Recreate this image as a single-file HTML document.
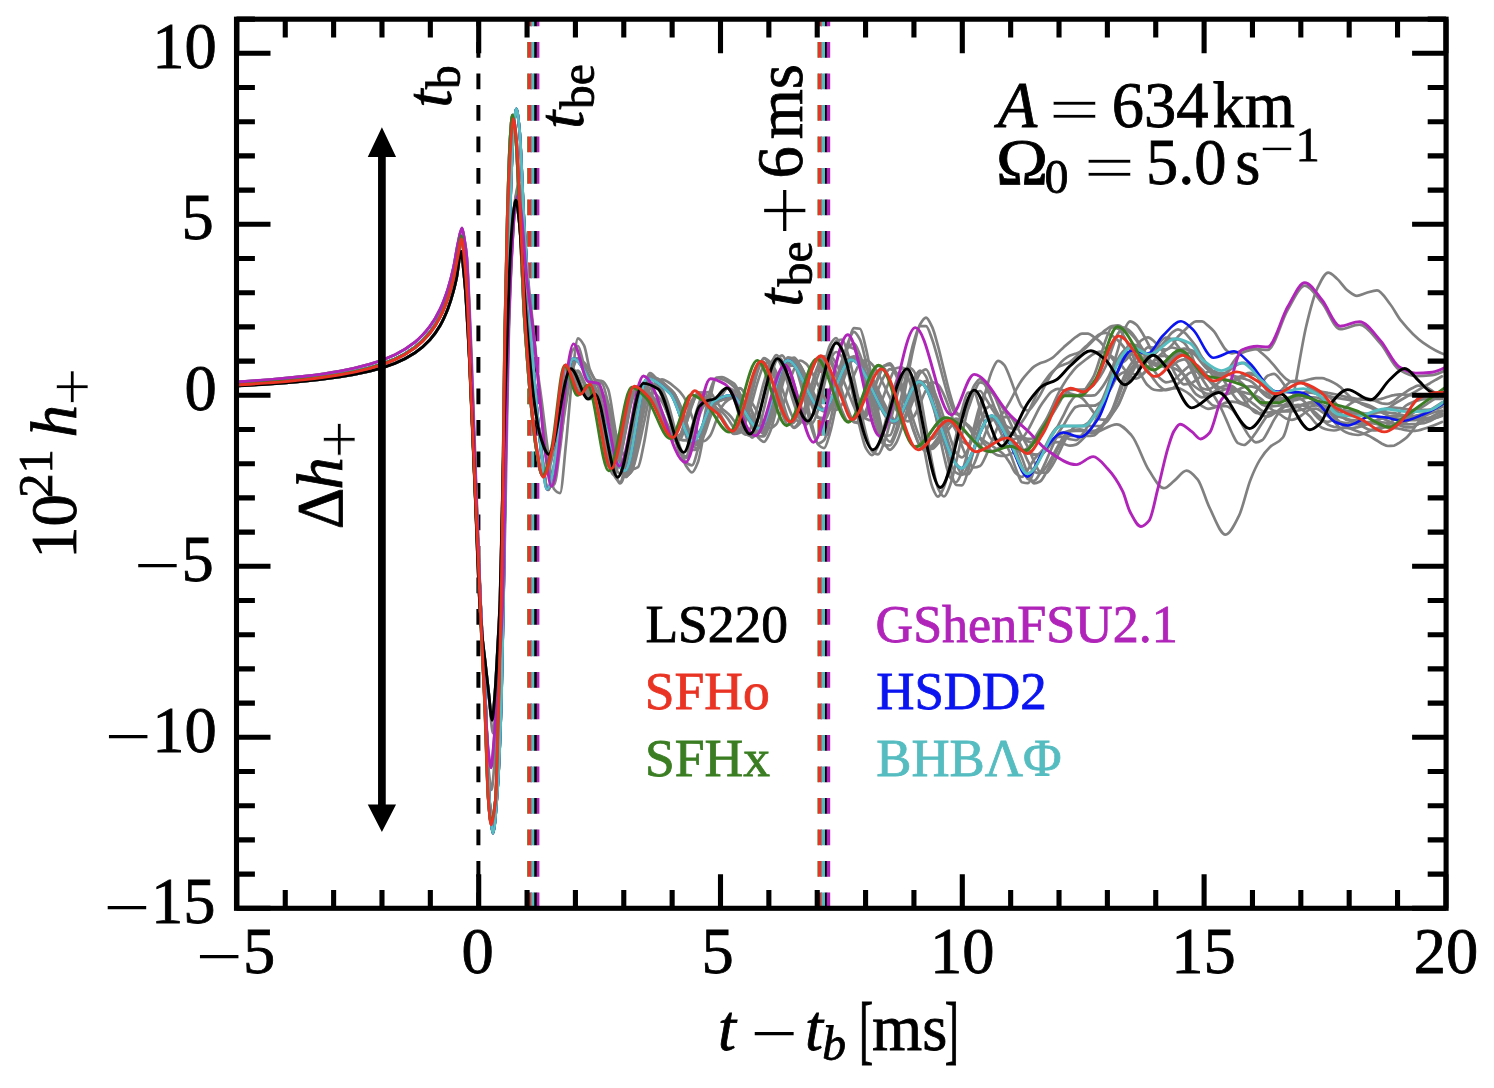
<!DOCTYPE html>
<html><head><meta charset="utf-8"><title>h+ waveforms</title>
<style>html,body{margin:0;padding:0;background:#fff;}svg{display:block;}</style>
</head><body>
<svg width="1494" height="1088" viewBox="0 0 1494 1088">
<rect width="1494" height="1088" fill="#fff"/>
<g><line x1="478.4" y1="908.3" x2="478.4" y2="19.2" stroke="#000" stroke-width="4.00" stroke-dasharray="15.75 15.75"/><line x1="527.8" y1="908.3" x2="527.8" y2="19.2" stroke="#3a7d22" stroke-width="1.20" stroke-dasharray="15.75 15.75"/><line x1="531.2" y1="908.3" x2="531.2" y2="19.2" stroke="#0a14f0" stroke-width="1.20" stroke-dasharray="15.75 15.75"/><line x1="535.5" y1="908.3" x2="535.5" y2="19.2" stroke="#000000" stroke-width="3.40" stroke-dasharray="15.75 15.75"/><line x1="538.1" y1="908.3" x2="538.1" y2="19.2" stroke="#b024b9" stroke-width="2.60" stroke-dasharray="15.75 15.75"/><line x1="532.7" y1="908.3" x2="532.7" y2="19.2" stroke="#55bcc0" stroke-width="3.10" stroke-dasharray="15.75 15.75"/><line x1="529.5" y1="908.3" x2="529.5" y2="19.2" stroke="#e93323" stroke-width="3.40" stroke-dasharray="15.75 15.75"/><line x1="818.0" y1="908.3" x2="818.0" y2="19.2" stroke="#3a7d22" stroke-width="1.10" stroke-dasharray="15.75 15.75"/><line x1="821.3" y1="908.3" x2="821.3" y2="19.2" stroke="#0a14f0" stroke-width="0.90" stroke-dasharray="15.75 15.75"/><line x1="826.0" y1="908.3" x2="826.0" y2="19.2" stroke="#000000" stroke-width="2.50" stroke-dasharray="15.75 15.75"/><line x1="828.5" y1="908.3" x2="828.5" y2="19.2" stroke="#b024b9" stroke-width="3.40" stroke-dasharray="15.75 15.75"/><line x1="823.1" y1="908.3" x2="823.1" y2="19.2" stroke="#55bcc0" stroke-width="3.80" stroke-dasharray="15.75 15.75"/><line x1="819.7" y1="908.3" x2="819.7" y2="19.2" stroke="#e93323" stroke-width="3.40" stroke-dasharray="15.75 15.75"/></g>
<g fill="none" stroke-linejoin="round" stroke-linecap="round"><path d="M236.5 384.5C247.7 383.9 258.8 383.1 270.0 382.3C281.7 381.4 293.3 380.3 305.0 379.0C316.7 377.8 328.3 376.2 340.0 374.2C350.0 372.5 360.0 370.4 370.0 367.7C378.3 365.5 386.7 362.6 395.0 358.9C401.7 355.9 408.3 352.0 415.0 347.0C420.0 343.2 425.0 338.3 430.0 332.1C433.3 327.9 436.7 322.7 440.0 316.2C442.7 311.0 445.3 304.6 448.0 296.7C449.8 291.4 451.7 284.8 453.5 277.0C455.0 270.8 456.4 261.9 457.9 254.7C459.2 248.3 460.5 236.0 461.8 236.0C462.8 236.0 463.8 251.2 464.8 262.0C465.8 272.5 466.7 285.9 467.7 303.8C468.6 319.8 469.4 349.1 470.3 370.0C472.1 412.6 473.8 450.0 475.6 490.0C477.4 530.0 479.1 573.0 480.9 610.0C482.4 642.1 484.0 666.2 485.5 700.0C486.8 729.4 488.2 781.8 489.5 800.0C490.7 815.9 491.8 833.2 493.0 833.2C494.5 833.2 496.0 810.5 497.5 790.0C498.8 772.2 500.1 741.9 501.4 700.0C502.1 677.5 502.8 638.5 503.5 600.0C504.2 563.3 504.8 519.9 505.5 470.0C506.0 432.6 506.5 368.8 507.0 340.0C508.2 272.8 509.3 234.2 510.5 200.0C511.5 170.7 512.5 141.1 513.5 130.0C514.5 119.3 515.4 108.8 516.4 108.8C517.4 108.8 518.5 119.8 519.5 130.0C521.0 144.8 522.5 192.9 524.0 220.0C526.5 264.6 528.9 305.1 531.4 340.0C532.9 361.7 534.5 381.7 536.0 398.7C538.0 420.9 540.0 442.9 542.0 457.0C544.0 471.0 546.0 489.9 548.0 489.9C550.0 489.9 552.0 479.5 554.0 471.0C556.0 462.6 558.0 445.9 560.0 432.5C562.0 419.1 564.0 401.9 566.0 390.5C568.0 379.1 570.0 363.5 572.0 361.6C574.0 359.7 576.0 358.4 578.0 358.4C580.0 358.4 582.0 363.1 584.0 366.2C586.0 369.2 588.0 373.8 590.0 377.8C592.0 381.7 594.0 385.2 596.0 389.9C598.0 394.6 600.0 400.6 602.0 406.8C604.0 413.0 606.0 420.6 608.0 427.6C610.0 434.5 612.0 442.1 614.0 448.5C616.0 454.8 618.0 461.6 620.0 465.9C622.0 470.1 624.0 475.9 626.0 475.9C628.0 475.9 630.0 473.6 632.0 470.5C634.0 467.4 636.0 450.6 638.0 439.1C640.0 427.6 642.0 410.5 644.0 400.9C646.0 391.3 648.0 377.8 650.0 377.8C652.0 377.8 654.0 377.9 656.0 378.2C658.0 378.5 660.0 380.3 662.0 381.8C664.0 383.2 666.0 385.2 668.0 387.1C670.0 389.0 672.0 390.5 674.0 393.3C676.0 396.1 678.0 400.8 680.0 405.7C682.0 410.7 684.0 418.5 686.0 424.3C688.0 430.0 690.0 437.8 692.0 440.4C694.0 443.1 696.0 445.6 698.0 445.6C700.0 445.6 702.0 439.7 704.0 435.4C706.0 431.1 708.0 423.2 710.0 417.9C712.0 412.7 714.0 406.0 716.0 403.7C718.0 401.4 720.0 400.3 722.0 399.2C724.0 398.1 726.0 397.1 728.0 396.6C730.0 396.1 732.0 395.4 734.0 395.4C736.0 395.4 738.0 397.1 740.0 398.7C742.0 400.3 744.0 404.6 746.0 408.0C748.0 411.5 750.0 416.0 752.0 419.4C754.0 422.8 756.0 427.1 758.0 428.6C760.0 430.1 762.0 431.6 764.0 431.6C766.0 431.6 768.0 425.7 770.0 421.0C772.0 416.3 774.0 407.2 776.0 399.9C778.0 392.5 780.0 383.2 782.0 376.8C784.0 370.4 786.0 361.7 788.0 360.2C790.0 358.7 792.0 357.6 794.0 357.6C796.0 357.6 798.0 361.8 800.0 364.8C802.0 367.8 804.0 372.7 806.0 377.0C808.0 381.3 810.0 386.6 812.0 390.9C814.0 395.3 816.0 400.1 818.0 403.2C820.0 406.3 822.0 410.6 824.0 410.6C826.0 410.6 828.0 410.1 830.0 409.3C832.0 408.5 834.0 402.0 836.0 397.3C838.0 392.6 840.0 385.8 842.0 380.3C844.0 374.9 846.0 368.2 848.0 364.6C850.0 361.0 852.0 356.3 854.0 356.3C856.0 356.3 858.0 357.4 860.0 358.7C862.0 359.9 864.0 363.8 866.0 367.1C868.0 370.4 870.0 375.0 872.0 379.4C874.0 383.7 876.0 388.7 878.0 393.3C880.0 397.9 882.0 402.8 884.0 406.7C886.0 410.7 888.0 415.0 890.0 417.5C892.0 420.0 894.0 423.4 896.0 423.4C898.0 423.4 900.0 422.4 902.0 421.2C904.0 419.9 906.0 413.5 908.0 408.9C910.0 404.4 912.0 397.8 914.0 393.5C916.0 389.1 918.0 382.5 920.0 382.2C922.0 382.0 924.0 381.8 926.0 381.8C928.0 381.8 930.0 387.5 932.0 391.5C934.0 395.6 936.0 401.9 938.0 407.8C940.0 413.8 942.0 420.9 944.0 427.5C946.0 434.0 948.0 441.2 950.0 447.2C952.0 453.2 954.0 459.5 956.0 463.7C958.0 467.9 960.0 473.6 962.0 473.8C964.0 474.1 966.0 474.2 968.0 474.2C970.0 474.2 972.0 468.2 974.0 464.0C976.0 459.9 978.0 453.5 980.0 448.1C982.0 442.7 984.0 436.2 986.0 431.7C988.0 427.2 990.0 421.1 992.0 420.2C994.0 419.3 996.0 418.7 998.0 418.7C1000.0 418.7 1002.0 423.6 1004.0 426.9C1006.0 430.2 1008.0 435.3 1010.0 439.4C1012.0 443.5 1014.0 446.9 1016.0 451.3C1018.0 455.8 1020.0 461.9 1022.0 466.5C1024.0 471.0 1026.0 478.0 1028.0 479.1C1030.0 480.1 1032.0 480.8 1034.0 480.8C1036.0 480.8 1038.0 476.5 1040.0 473.4C1042.0 470.4 1044.0 465.5 1046.0 461.1C1048.0 456.8 1050.0 451.6 1052.0 447.4C1054.0 443.1 1056.0 436.8 1058.0 435.6C1065.3 431.4 1072.7 429.4 1080.0 429.4C1083.9 429.4 1087.9 433.1 1091.8 433.1C1100.1 433.1 1108.5 424.3 1116.8 424.3C1121.7 424.3 1126.6 430.0 1131.5 435.3C1137.4 441.6 1143.2 461.9 1149.1 470.6C1154.0 477.9 1158.9 488.2 1163.8 488.2C1167.2 488.2 1170.7 483.5 1174.1 480.9C1178.3 477.7 1182.4 470.6 1186.6 470.6C1190.3 470.6 1193.9 475.0 1197.6 479.4C1201.5 484.1 1205.5 499.6 1209.4 507.4C1214.8 518.1 1220.2 534.6 1225.6 534.6C1230.0 534.6 1234.4 524.7 1238.8 516.2C1242.7 508.6 1246.7 489.2 1250.6 479.4C1253.7 471.6 1256.9 464.6 1260.0 459.6C1263.3 454.3 1266.7 450.1 1270.0 447.0C1274.3 443.0 1278.6 443.0 1282.9 437.5C1285.3 434.5 1287.6 424.7 1290.0 415.0C1292.1 406.6 1294.1 391.4 1296.2 380.0C1299.5 361.6 1302.9 340.2 1306.2 326.2C1309.9 310.8 1313.5 296.2 1317.2 288.7C1320.9 281.2 1324.5 272.7 1328.2 272.7C1331.1 272.7 1334.1 276.3 1337.0 278.7C1340.7 281.8 1344.4 288.2 1348.1 290.9C1351.0 293.0 1354.0 295.8 1356.9 295.8C1359.9 295.8 1363.0 293.8 1366.0 293.0C1369.7 292.0 1373.3 290.3 1377.0 290.3C1381.3 290.3 1385.7 298.6 1390.0 304.0C1393.7 308.6 1397.3 316.2 1401.0 320.7C1408.3 329.7 1415.7 337.6 1423.0 342.7C1430.7 348.1 1438.3 352.7 1446.0 355.0" stroke="#808080" stroke-width="2.7"/><path d="M236.5 382.0C247.7 381.3 258.8 380.5 270.0 379.6C281.7 378.7 293.3 377.6 305.0 376.2C316.7 374.8 328.3 373.2 340.0 371.1C350.0 369.3 360.0 367.0 370.0 364.1C378.3 361.7 386.7 358.7 395.0 354.7C401.7 351.5 408.3 347.4 415.0 342.1C420.0 338.1 425.0 332.8 430.0 326.2C433.3 321.8 436.7 316.2 440.0 309.3C442.7 303.8 445.3 297.0 448.0 288.6C449.8 282.9 451.7 275.9 453.5 267.6C455.0 260.7 456.6 249.3 458.1 242.6C459.4 236.8 460.7 228.0 462.0 228.0C462.8 228.0 463.7 235.1 464.5 240.0C465.2 244.4 466.0 248.7 466.7 256.9C467.5 265.4 468.2 286.3 469.0 303.8C469.8 322.0 470.6 344.9 471.4 366.0C472.9 406.4 474.5 450.2 476.0 490.0C477.6 531.5 479.2 573.1 480.8 610.0C482.2 642.3 483.6 674.9 485.0 700.0C486.1 719.1 487.1 740.5 488.2 750.0C489.1 758.3 490.1 767.7 491.0 767.7C492.0 767.7 493.0 751.3 494.0 740.0C495.3 724.9 496.7 700.6 498.0 680.0C499.5 657.4 500.9 645.5 502.4 610.0C503.4 585.0 504.5 518.2 505.5 470.0C506.4 428.0 507.3 369.1 508.2 340.0C509.5 299.0 510.7 272.1 512.0 250.0C513.0 232.6 514.0 214.5 515.0 208.0C516.0 201.2 517.1 194.8 518.1 194.8C519.2 194.8 520.4 206.1 521.5 215.0C523.0 226.8 524.5 254.7 526.0 270.0C528.7 298.0 531.5 314.5 534.2 340.0C534.8 345.6 535.4 352.6 536.0 357.9C538.0 375.5 540.0 387.7 542.0 403.3C544.0 418.8 546.0 437.2 548.0 451.3C550.0 465.4 552.0 486.5 554.0 489.0C556.0 491.5 558.0 493.1 560.0 493.1C562.0 493.1 564.0 462.4 566.0 443.8C568.0 425.2 570.0 396.1 572.0 379.3C574.0 362.6 576.0 338.3 578.0 338.3C580.0 338.3 582.0 341.7 584.0 345.4C586.0 349.1 588.0 365.0 590.0 369.8C592.0 374.6 594.0 379.5 596.0 380.0C598.0 380.6 600.0 380.4 602.0 381.0C604.0 381.5 606.0 384.7 608.0 389.0C610.0 393.3 612.0 410.1 614.0 421.7C616.0 433.3 618.0 450.9 620.0 459.0C622.0 467.0 624.0 476.7 626.0 476.7C628.0 476.7 630.0 468.1 632.0 460.7C634.0 453.4 636.0 437.3 638.0 425.5C640.0 413.7 642.0 397.5 644.0 389.9C646.0 382.3 648.0 373.1 650.0 373.1C652.0 373.1 654.0 375.7 656.0 378.2C658.0 380.6 660.0 386.5 662.0 391.8C664.0 397.1 666.0 404.1 668.0 410.7C670.0 417.3 672.0 424.8 674.0 431.5C676.0 438.2 678.0 445.4 680.0 451.0C682.0 456.6 684.0 462.6 686.0 465.7C688.0 468.8 690.0 472.5 692.0 472.5C694.0 472.5 696.0 467.2 698.0 462.0C700.0 456.9 702.0 442.8 704.0 432.4C706.0 421.9 708.0 407.7 710.0 399.1C712.0 390.4 714.0 378.6 716.0 377.9C718.0 377.3 720.0 377.0 722.0 377.0C724.0 377.0 726.0 378.6 728.0 379.7C730.0 380.8 732.0 381.8 734.0 383.6C736.0 385.5 738.0 389.6 740.0 393.6C742.0 397.7 744.0 403.7 746.0 408.9C748.0 414.1 750.0 420.2 752.0 424.9C754.0 429.6 756.0 435.2 758.0 437.3C760.0 439.5 762.0 441.8 764.0 441.8C766.0 441.8 768.0 436.4 770.0 432.0C772.0 427.5 774.0 418.4 776.0 410.9C778.0 403.4 780.0 393.8 782.0 386.6C784.0 379.4 786.0 370.5 788.0 367.2C790.0 363.9 792.0 360.6 794.0 360.6C796.0 360.6 798.0 367.4 800.0 372.8C802.0 378.2 804.0 388.6 806.0 397.2C808.0 405.7 810.0 416.6 812.0 424.3C814.0 432.0 816.0 442.3 818.0 444.4C820.0 446.5 822.0 448.1 824.0 448.1C826.0 448.1 828.0 439.4 830.0 432.9C832.0 426.4 834.0 415.5 836.0 405.7C838.0 396.0 840.0 384.1 842.0 374.1C844.0 364.1 846.0 352.9 848.0 345.7C850.0 338.5 852.0 328.1 854.0 328.1C856.0 328.1 858.0 328.4 860.0 328.8C862.0 329.3 864.0 340.7 866.0 348.7C868.0 356.7 870.0 368.7 872.0 379.1C874.0 389.4 876.0 401.7 878.0 410.8C880.0 419.9 882.0 431.1 884.0 434.7C886.0 438.4 888.0 441.8 890.0 441.8C892.0 441.8 894.0 435.1 896.0 429.7C898.0 424.4 900.0 414.2 902.0 405.2C904.0 396.2 906.0 384.9 908.0 375.0C910.0 365.1 912.0 354.1 914.0 345.8C916.0 337.6 918.0 327.9 920.0 324.4C922.0 321.0 924.0 317.6 926.0 317.6C928.0 317.6 930.0 322.5 932.0 326.7C934.0 330.8 936.0 338.9 938.0 346.1C940.0 353.3 942.0 362.4 944.0 370.4C946.0 378.4 948.0 387.4 950.0 394.1C952.0 400.9 954.0 408.8 956.0 411.7C958.0 414.7 960.0 417.8 962.0 417.8C964.0 417.8 966.0 412.6 968.0 408.8C970.0 404.9 972.0 396.9 974.0 392.7C976.0 388.5 978.0 382.3 980.0 382.3C982.0 382.3 984.0 383.4 986.0 384.6C988.0 385.7 990.0 389.9 992.0 392.6C994.0 395.3 996.0 397.9 998.0 400.8C1000.0 403.7 1002.0 406.6 1004.0 410.1C1006.0 413.5 1008.0 417.8 1010.0 422.1C1012.0 426.3 1014.0 431.3 1016.0 435.5C1018.0 439.8 1020.0 443.4 1022.0 447.7C1024.0 452.0 1026.0 457.5 1028.0 461.4C1030.0 465.4 1032.0 471.0 1034.0 471.8C1036.0 472.7 1038.0 473.3 1040.0 473.3C1042.0 473.3 1044.0 469.8 1046.0 467.2C1048.0 464.7 1050.0 460.7 1052.0 457.2C1054.0 453.6 1056.0 449.3 1058.0 445.9C1060.0 442.4 1062.0 438.5 1064.0 436.3C1066.0 434.1 1068.0 431.3 1070.0 431.2C1072.0 431.0 1074.0 430.9 1076.0 430.9C1078.0 430.9 1080.0 430.9 1082.0 430.9C1084.0 430.9 1086.0 430.9 1088.0 430.9C1090.0 430.9 1092.0 430.9 1094.0 430.9C1096.0 430.9 1098.0 429.0 1100.0 427.4C1102.0 425.8 1104.0 422.6 1106.0 419.9C1108.0 417.2 1110.0 414.5 1112.0 411.0C1114.0 407.5 1116.0 402.9 1118.0 398.2C1120.0 393.5 1122.0 386.9 1124.0 382.3C1126.0 377.7 1128.0 373.1 1130.0 370.1C1132.0 367.1 1134.0 364.3 1136.0 362.9C1138.0 361.4 1140.0 359.9 1142.0 359.9C1144.0 359.9 1146.0 361.0 1148.0 361.8C1150.0 362.6 1152.0 364.2 1154.0 364.9C1156.0 365.6 1158.0 366.4 1160.0 366.4C1162.0 366.4 1164.0 365.2 1166.0 364.3C1168.0 363.3 1170.0 361.3 1172.0 359.8C1174.0 358.3 1176.0 356.3 1178.0 355.2C1180.0 354.0 1182.0 352.5 1184.0 352.5C1186.0 352.5 1188.0 352.7 1190.0 352.9C1192.0 353.1 1194.0 354.0 1196.0 354.8C1198.0 355.6 1200.0 356.4 1202.0 357.9C1204.0 359.4 1206.0 363.3 1208.0 365.7C1210.0 368.1 1212.0 370.6 1214.0 372.4C1216.0 374.1 1218.0 375.4 1220.0 376.7C1222.0 377.9 1224.0 379.4 1226.0 380.0C1228.0 380.5 1230.0 381.0 1232.0 381.0C1234.0 381.0 1236.0 380.0 1238.0 379.3C1240.0 378.6 1242.0 377.1 1244.0 376.3C1246.0 375.5 1248.0 374.3 1250.0 374.3C1252.0 374.3 1254.0 374.8 1256.0 375.4C1258.0 376.1 1260.0 378.5 1262.0 380.4C1264.0 382.2 1266.0 384.7 1268.0 386.6C1270.0 388.4 1272.0 389.9 1274.0 391.7C1276.0 393.4 1278.0 395.5 1280.0 397.0C1282.0 398.4 1284.0 400.5 1286.0 400.5C1288.0 400.5 1290.0 400.5 1292.0 400.5C1294.0 400.5 1296.0 399.9 1298.0 399.5C1300.0 399.2 1302.0 398.7 1304.0 398.3C1306.0 398.0 1308.0 397.4 1310.0 397.4C1312.0 397.4 1314.0 397.5 1316.0 397.5C1318.0 397.5 1320.0 398.8 1322.0 399.6C1324.0 400.5 1326.0 401.6 1328.0 402.9C1330.0 404.1 1332.0 405.5 1334.0 407.3C1336.0 409.1 1338.0 412.1 1340.0 414.1C1342.0 416.2 1344.0 418.9 1346.0 419.7C1348.0 420.4 1350.0 420.8 1352.0 421.1C1354.0 421.4 1356.0 421.6 1358.0 421.8C1360.0 422.0 1362.0 422.2 1364.0 422.2C1366.0 422.2 1368.0 422.1 1370.0 422.0C1372.0 421.8 1374.0 421.1 1376.0 420.5C1378.0 419.9 1380.0 419.1 1382.0 418.4C1384.0 417.8 1386.0 416.9 1388.0 416.5C1390.0 416.1 1392.0 415.6 1394.0 415.6C1396.0 415.6 1398.0 415.8 1400.0 416.0C1402.0 416.1 1404.0 416.5 1406.0 416.8C1408.0 417.1 1410.0 417.5 1412.0 417.6C1414.0 417.8 1416.0 418.1 1418.0 418.1C1420.0 418.1 1422.0 418.0 1424.0 418.0C1426.0 417.9 1428.0 417.8 1430.0 417.7C1432.0 417.6 1434.0 417.5 1436.0 417.3C1438.0 417.1 1440.0 416.6 1442.0 416.0" stroke="#808080" stroke-width="2.7"/><path d="M236.5 386.0C247.7 385.4 258.8 384.7 270.0 384.0C281.7 383.2 293.3 382.3 305.0 381.1C316.7 380.0 328.3 378.6 340.0 376.9C350.0 375.4 360.0 373.5 370.0 371.2C378.3 369.2 386.7 366.6 395.0 363.3C401.7 360.7 408.3 357.3 415.0 352.8C420.0 349.5 425.0 345.2 430.0 339.7C433.3 336.0 436.7 331.4 440.0 325.7C442.7 321.1 445.3 315.4 448.0 308.5C449.8 303.7 451.7 297.8 453.5 291.0C454.5 287.4 455.5 283.1 456.5 278.3C458.1 270.7 459.7 251.4 461.2 251.4C462.0 251.4 462.8 263.0 463.5 270.0C464.1 275.3 464.6 280.9 465.2 288.1C466.1 299.1 466.9 315.2 467.8 330.0C468.5 342.6 469.3 355.1 470.0 370.0C471.6 402.5 473.2 446.3 474.8 485.0C476.4 522.9 477.9 572.7 479.5 600.0C480.2 612.2 480.9 622.2 481.6 630.0C482.8 643.4 484.0 651.4 485.2 662.0C486.4 672.4 487.5 683.2 488.7 693.0C489.8 702.5 491.0 720.2 492.1 720.2C493.0 720.2 493.9 705.8 494.8 695.0C495.7 684.2 496.6 666.4 497.5 650.0C498.3 634.8 499.2 622.6 500.0 600.0C500.9 574.7 501.9 516.6 502.8 480.0C503.5 451.2 504.3 423.4 505.0 400.0C505.7 377.6 506.4 359.3 507.1 340.0C508.2 308.8 509.4 269.3 510.5 250.0C511.5 233.0 512.5 218.9 513.5 212.0C514.3 206.5 515.1 200.3 515.9 200.3C516.9 200.3 518.0 211.3 519.0 220.0C520.5 232.6 522.0 260.0 523.5 280.0C525.0 300.0 526.5 322.7 528.0 340.0C530.0 363.0 532.0 383.9 534.0 400.0C534.7 405.4 535.3 410.3 536.0 414.2C538.0 425.6 540.0 435.3 542.0 441.2C544.0 447.1 546.0 454.5 548.0 454.5C550.0 454.5 552.0 449.6 554.0 444.6C556.0 439.7 558.0 424.6 560.0 414.2C562.0 403.8 564.0 388.7 566.0 382.1C568.0 375.5 570.0 367.8 572.0 367.8C574.0 367.8 576.0 372.8 578.0 376.5C580.0 380.1 582.0 388.3 584.0 391.7C586.0 395.0 588.0 399.1 590.0 399.1C592.0 399.1 594.0 394.1 596.0 394.1C598.0 394.1 600.0 400.1 602.0 405.8C604.0 411.4 606.0 426.2 608.0 436.7C610.0 447.2 612.0 462.0 614.0 468.7C616.0 475.5 618.0 483.4 620.0 483.4C622.0 483.4 624.0 476.4 626.0 470.2C628.0 464.1 630.0 450.5 632.0 440.0C634.0 429.4 636.0 415.5 638.0 406.7C640.0 397.8 642.0 385.8 644.0 384.6C646.0 383.4 648.0 382.7 650.0 382.7C652.0 382.7 654.0 384.1 656.0 385.1C658.0 386.1 660.0 387.0 662.0 389.1C664.0 391.1 666.0 397.4 668.0 403.1C670.0 408.9 672.0 418.2 674.0 425.5C676.0 432.8 678.0 442.1 680.0 446.9C682.0 451.8 684.0 457.9 686.0 457.9C688.0 457.9 690.0 451.7 692.0 446.4C694.0 441.1 696.0 426.3 698.0 420.1C700.0 413.9 702.0 407.9 704.0 405.7C706.0 403.5 708.0 402.2 710.0 401.4C712.0 400.6 714.0 400.6 716.0 399.8C718.0 399.0 720.0 396.6 722.0 394.7C724.0 392.7 726.0 387.9 728.0 387.9C730.0 387.9 732.0 389.5 734.0 391.3C736.0 393.2 738.0 401.8 740.0 407.6C742.0 413.5 744.0 422.0 746.0 426.7C748.0 431.3 750.0 437.6 752.0 437.6C754.0 437.6 756.0 434.2 758.0 430.6C760.0 427.1 762.0 416.7 764.0 408.7C766.0 400.6 768.0 389.8 770.0 382.0C772.0 374.1 774.0 363.8 776.0 360.9C778.0 358.0 780.0 355.4 782.0 355.4C784.0 355.4 786.0 361.1 788.0 365.4C790.0 369.7 792.0 377.2 794.0 383.6C796.0 389.9 798.0 397.7 800.0 403.5C802.0 409.3 804.0 416.6 806.0 418.9C808.0 421.2 810.0 423.3 812.0 423.3C814.0 423.3 816.0 416.0 818.0 410.3C820.0 404.7 822.0 394.4 824.0 385.9C826.0 377.5 828.0 366.9 830.0 359.6C832.0 352.4 834.0 342.2 836.0 341.1C838.0 340.1 840.0 339.5 842.0 339.5C844.0 339.5 846.0 348.0 848.0 354.1C850.0 360.2 852.0 369.9 854.0 378.8C856.0 387.6 858.0 398.2 860.0 407.3C862.0 416.4 864.0 426.4 866.0 433.5C868.0 440.5 870.0 449.3 872.0 451.2C874.0 453.0 876.0 454.4 878.0 454.4C880.0 454.4 882.0 447.9 884.0 443.1C886.0 438.2 888.0 430.0 890.0 422.8C892.0 415.6 894.0 406.7 896.0 399.5C898.0 392.2 900.0 384.0 902.0 379.0C904.0 374.0 906.0 367.2 908.0 367.2C910.0 367.2 912.0 369.0 914.0 371.3C916.0 373.6 918.0 385.2 920.0 394.3C922.0 403.4 924.0 416.4 926.0 427.6C928.0 438.9 930.0 452.1 932.0 462.0C934.0 471.9 936.0 483.8 938.0 488.1C940.0 492.3 942.0 496.5 944.0 496.5C946.0 496.5 948.0 490.5 950.0 485.6C952.0 480.6 954.0 471.0 956.0 462.6C958.0 454.2 960.0 443.6 962.0 434.7C964.0 425.7 966.0 415.6 968.0 408.9C970.0 402.2 972.0 393.4 974.0 392.5C976.0 391.6 978.0 391.0 980.0 391.0C982.0 391.0 984.0 396.0 986.0 398.9C988.0 401.9 990.0 405.8 992.0 408.9C994.0 412.0 996.0 415.2 998.0 417.7C1000.0 420.2 1002.0 422.5 1004.0 424.1C1006.0 425.7 1008.0 427.4 1010.0 428.0C1012.0 428.6 1014.0 429.2 1016.0 429.2C1018.0 429.2 1020.0 424.7 1022.0 421.9C1024.0 419.2 1026.0 416.0 1028.0 412.4C1030.0 408.8 1032.0 404.0 1034.0 399.9C1036.0 395.8 1038.0 391.3 1040.0 387.9C1042.0 384.5 1044.0 381.8 1046.0 379.2C1048.0 376.5 1050.0 373.8 1052.0 371.9C1054.0 370.0 1056.0 368.2 1058.0 367.1C1060.0 366.0 1062.0 365.5 1064.0 364.6C1066.0 363.8 1068.0 363.2 1070.0 362.0C1072.0 360.8 1074.0 358.6 1076.0 356.7C1078.0 354.7 1080.0 352.0 1082.0 350.0C1084.0 348.0 1086.0 346.3 1088.0 344.4C1090.0 342.5 1092.0 340.3 1094.0 338.6C1096.0 336.9 1098.0 334.8 1100.0 334.1C1102.0 333.4 1104.0 332.8 1106.0 332.8C1108.0 332.8 1110.0 334.4 1112.0 335.6C1114.0 336.8 1116.0 338.6 1118.0 340.5C1120.0 342.5 1122.0 344.6 1124.0 347.4C1126.0 350.1 1128.0 354.6 1130.0 357.6C1132.0 360.6 1134.0 365.3 1136.0 365.5C1138.0 365.6 1140.0 365.7 1142.0 365.7C1144.0 365.7 1146.0 362.0 1148.0 359.6C1150.0 357.2 1152.0 353.6 1154.0 350.7C1156.0 347.8 1158.0 344.2 1160.0 342.2C1162.0 340.2 1164.0 337.5 1166.0 337.5C1168.0 337.5 1170.0 338.5 1172.0 339.6C1174.0 340.6 1176.0 343.9 1178.0 346.4C1180.0 348.9 1182.0 351.4 1184.0 354.6C1186.0 357.9 1188.0 362.6 1190.0 366.8C1192.0 370.9 1194.0 375.9 1196.0 379.3C1198.0 382.8 1200.0 387.4 1202.0 388.2C1204.0 389.0 1206.0 389.6 1208.0 389.6C1210.0 389.6 1212.0 387.6 1214.0 386.4C1216.0 385.1 1218.0 383.4 1220.0 381.4C1227.2 374.4 1234.5 355.9 1241.7 353.0C1246.9 350.9 1252.0 349.2 1257.2 349.2C1260.6 349.2 1264.1 350.0 1267.5 350.0C1274.3 350.0 1281.2 320.5 1288.0 309.3C1293.6 300.1 1299.2 285.6 1304.8 285.6C1310.5 285.6 1316.3 296.2 1322.0 303.0C1328.1 310.2 1334.1 329.2 1340.2 329.2C1346.6 329.2 1353.1 324.6 1359.5 324.6C1366.6 324.6 1373.6 336.0 1380.7 343.9C1386.8 350.7 1392.9 366.0 1399.0 369.7C1404.5 373.0 1410.1 376.1 1415.6 376.1C1421.1 376.1 1426.7 375.7 1432.2 375.2C1436.8 374.8 1441.4 372.4 1446.0 370.0" stroke="#808080" stroke-width="2.7"/><path d="M236.5 384.5C247.7 383.9 258.8 383.1 270.0 382.3C281.7 381.4 293.3 380.3 305.0 379.0C316.7 377.8 328.3 376.2 340.0 374.2C350.0 372.5 360.0 370.4 370.0 367.7C378.3 365.5 386.7 362.6 395.0 358.9C401.7 355.9 408.3 352.0 415.0 347.0C420.0 343.2 425.0 338.3 430.0 332.1C433.3 327.9 436.7 322.7 440.0 316.2C442.7 311.0 445.3 304.6 448.0 296.7C449.8 291.4 451.7 284.8 453.5 277.0C455.0 270.8 456.4 261.9 457.9 254.7C459.2 248.3 460.5 236.0 461.8 236.0C462.8 236.0 463.8 251.2 464.8 262.0C465.8 272.5 466.7 285.9 467.7 303.8C468.6 319.8 469.4 349.1 470.3 370.0C472.1 412.6 473.8 450.0 475.6 490.0C477.4 530.0 479.1 573.0 480.9 610.0C482.4 642.1 484.0 666.2 485.5 700.0C486.8 729.4 488.2 781.8 489.5 800.0C490.7 815.9 491.8 833.2 493.0 833.2C494.5 833.2 496.0 810.5 497.5 790.0C498.8 772.2 500.1 741.9 501.4 700.0C502.1 677.5 502.8 638.5 503.5 600.0C504.2 563.3 504.8 519.9 505.5 470.0C506.0 432.6 506.5 368.8 507.0 340.0C508.2 272.8 509.3 234.2 510.5 200.0C511.5 170.7 512.5 141.1 513.5 130.0C514.5 119.3 515.4 108.8 516.4 108.8C517.4 108.8 518.5 119.8 519.5 130.0C521.0 144.8 522.5 192.9 524.0 220.0C526.5 264.6 528.9 305.1 531.4 340.0C532.9 361.7 534.5 381.6 536.0 398.7C538.0 421.0 540.0 443.8 542.0 457.5C544.0 471.3 546.0 489.2 548.0 489.2C550.0 489.2 552.0 477.9 554.0 469.1C556.0 460.2 558.0 443.2 560.0 429.6C562.0 416.1 564.0 398.8 566.0 387.9C568.0 376.9 570.0 361.6 572.0 360.8C574.0 360.0 576.0 359.6 578.0 359.6C580.0 359.6 582.0 364.7 584.0 368.0C586.0 371.2 588.0 375.8 590.0 379.8C592.0 383.8 594.0 387.2 596.0 392.0C598.0 396.8 600.0 403.2 602.0 409.5C604.0 415.8 606.0 423.4 608.0 430.1C610.0 436.9 612.0 444.3 614.0 450.2C616.0 456.1 618.0 462.5 620.0 465.9C622.0 469.4 624.0 473.6 626.0 473.6C628.0 473.6 630.0 467.8 632.0 462.1C634.0 456.3 636.0 439.6 638.0 428.0C640.0 416.4 642.0 399.6 644.0 392.7C646.0 385.8 648.0 378.0 650.0 378.0C652.0 378.0 654.0 378.8 656.0 379.6C658.0 380.3 660.0 381.9 662.0 383.4C664.0 384.8 666.0 386.7 668.0 388.6C670.0 390.5 672.0 392.0 674.0 394.9C676.0 397.7 678.0 403.2 680.0 408.2C682.0 413.3 684.0 420.7 686.0 425.9C688.0 431.1 690.0 438.5 692.0 440.0C694.0 441.6 696.0 442.8 698.0 442.8C700.0 442.8 702.0 436.1 704.0 431.6C706.0 427.2 708.0 419.8 710.0 415.0C712.0 410.3 714.0 404.5 716.0 402.5C718.0 400.6 720.0 399.8 722.0 398.8C724.0 397.8 726.0 396.9 728.0 396.4C730.0 395.9 732.0 395.4 734.0 395.4C736.0 395.4 738.0 397.2 740.0 398.9C742.0 400.5 744.0 404.6 746.0 407.8C748.0 411.1 750.0 415.3 752.0 418.5C754.0 421.7 756.0 425.7 758.0 427.2C760.0 428.6 762.0 430.0 764.0 430.0C766.0 430.0 768.0 424.5 770.0 420.2C772.0 415.8 774.0 407.3 776.0 400.4C778.0 393.5 780.0 384.8 782.0 378.6C784.0 372.4 786.0 364.3 788.0 362.4C790.0 360.6 792.0 359.1 794.0 359.1C796.0 359.1 798.0 362.7 800.0 365.4C802.0 368.1 804.0 372.5 806.0 376.6C808.0 380.6 810.0 385.5 812.0 389.6C814.0 393.8 816.0 398.4 818.0 401.6C820.0 404.7 822.0 409.1 824.0 409.3C826.0 409.5 828.0 409.6 830.0 409.6C832.0 409.6 834.0 403.7 836.0 399.6C838.0 395.5 840.0 389.2 842.0 384.0C844.0 378.8 846.0 372.5 848.0 368.5C850.0 364.5 852.0 358.9 854.0 358.9C856.0 358.9 858.0 359.0 860.0 359.2C862.0 359.5 864.0 363.3 866.0 366.1C868.0 368.9 870.0 373.0 872.0 377.0C874.0 380.9 876.0 385.6 878.0 389.9C880.0 394.2 882.0 398.9 884.0 402.9C886.0 406.9 888.0 411.1 890.0 413.9C892.0 416.8 894.0 420.5 896.0 421.0C898.0 421.5 900.0 421.9 902.0 421.9C904.0 421.9 906.0 416.5 908.0 412.8C910.0 409.1 912.0 403.0 914.0 398.5C916.0 394.0 918.0 387.9 920.0 385.7C922.0 383.5 924.0 381.2 926.0 381.2C928.0 381.2 930.0 384.5 932.0 387.3C934.0 390.0 936.0 395.5 938.0 400.6C940.0 405.6 942.0 412.1 944.0 418.2C946.0 424.3 948.0 431.4 950.0 437.1C952.0 442.8 954.0 450.2 956.0 452.7C958.0 455.1 960.0 457.5 962.0 457.5C964.0 457.5 966.0 453.1 968.0 449.5C970.0 446.0 972.0 438.8 974.0 434.1C976.0 429.3 978.0 423.3 980.0 420.9C982.0 418.6 984.0 416.1 986.0 416.1C988.0 416.1 990.0 418.0 992.0 418.0C994.0 418.0 996.0 418.0 998.0 418.0C1000.0 418.0 1002.0 413.8 1004.0 411.1C1006.0 408.4 1008.0 404.8 1010.0 401.3C1012.0 397.8 1014.0 393.4 1016.0 389.8C1018.0 386.3 1020.0 382.7 1022.0 379.9C1024.0 377.1 1026.0 374.8 1028.0 372.6C1030.0 370.5 1032.0 368.2 1034.0 366.7C1036.0 365.2 1038.0 364.1 1040.0 363.2C1042.0 362.4 1044.0 362.0 1046.0 361.2C1048.0 360.4 1050.0 359.5 1052.0 358.2C1054.0 356.9 1056.0 354.6 1058.0 352.7C1060.0 350.8 1062.0 348.7 1064.0 346.9C1066.0 345.2 1068.0 343.6 1070.0 341.9C1072.0 340.3 1074.0 338.3 1076.0 336.9C1078.0 335.6 1080.0 333.6 1082.0 333.6C1084.0 333.6 1086.0 333.7 1088.0 333.7C1090.0 333.8 1092.0 335.8 1094.0 337.1C1096.0 338.5 1098.0 339.8 1100.0 341.8C1102.0 343.7 1104.0 346.6 1106.0 349.3C1108.0 352.1 1110.0 356.2 1112.0 358.4C1114.0 360.6 1116.0 363.6 1118.0 363.6C1120.0 363.6 1122.0 362.6 1124.0 361.5C1126.0 360.4 1128.0 357.3 1130.0 354.8C1132.0 352.4 1134.0 349.1 1136.0 346.6C1138.0 344.1 1140.0 341.0 1142.0 339.8C1144.0 338.6 1146.0 337.3 1148.0 337.3C1150.0 337.3 1152.0 339.5 1154.0 341.2C1156.0 342.8 1158.0 345.2 1160.0 347.7C1162.0 350.2 1164.0 353.0 1166.0 356.3C1168.0 359.5 1170.0 364.1 1172.0 367.7C1174.0 371.4 1176.0 375.8 1178.0 378.3C1180.0 380.9 1182.0 384.3 1184.0 384.3C1186.0 384.3 1188.0 384.0 1190.0 383.7C1192.0 383.3 1194.0 381.4 1196.0 380.1C1198.0 378.7 1200.0 376.9 1202.0 375.5C1204.0 374.2 1206.0 372.3 1208.0 371.8C1210.0 371.4 1212.0 371.0 1214.0 371.0C1216.0 371.0 1218.0 373.5 1220.0 375.5C1222.0 377.4 1224.0 380.9 1226.0 383.8C1228.0 386.7 1230.0 390.3 1232.0 393.1C1234.0 395.8 1236.0 399.2 1238.0 400.5C1240.0 401.8 1242.0 403.2 1244.0 403.2C1246.0 403.2 1248.0 401.2 1250.0 399.6C1252.0 398.0 1254.0 394.7 1256.0 391.9C1258.0 389.2 1260.0 385.6 1262.0 382.9C1264.0 380.2 1266.0 376.5 1268.0 375.6C1270.0 374.6 1272.0 373.8 1274.0 373.8C1276.0 373.8 1278.0 377.0 1280.0 379.1C1282.0 381.2 1284.0 384.8 1286.0 387.0C1288.0 389.2 1290.0 391.7 1292.0 392.5C1294.0 393.4 1296.0 394.2 1298.0 394.2C1300.0 394.2 1302.0 393.1 1304.0 392.5C1306.0 391.9 1308.0 390.3 1310.0 390.2C1312.0 390.1 1314.0 390.1 1316.0 390.1C1318.0 390.1 1320.0 391.7 1322.0 392.6C1324.0 393.6 1326.0 394.6 1328.0 396.0C1330.0 397.4 1332.0 399.4 1334.0 401.5C1336.0 403.5 1338.0 406.6 1340.0 408.3C1342.0 410.1 1344.0 412.0 1346.0 412.5C1348.0 413.0 1350.0 413.1 1352.0 413.4C1354.0 413.6 1356.0 413.8 1358.0 414.0C1360.0 414.1 1362.0 414.2 1364.0 414.2C1366.0 414.2 1368.0 413.9 1370.0 413.6C1372.0 413.3 1374.0 412.5 1376.0 411.8C1378.0 411.2 1380.0 410.3 1382.0 409.7C1384.0 409.1 1386.0 408.3 1388.0 408.1C1390.0 407.9 1392.0 407.7 1394.0 407.7C1396.0 407.7 1398.0 408.0 1400.0 408.2C1402.0 408.4 1404.0 408.8 1406.0 409.1C1408.0 409.4 1410.0 409.7 1412.0 409.9C1414.0 410.0 1416.0 410.1 1418.0 410.1C1420.0 410.1 1422.0 410.0 1424.0 409.9C1426.0 409.8 1428.0 409.7 1430.0 409.6C1432.0 409.5 1434.0 409.4 1436.0 409.1C1438.0 408.8 1440.0 408.0 1442.0 407.1" stroke="#808080" stroke-width="2.7"/><path d="M236.5 386.0C247.7 385.4 258.8 384.7 270.0 384.0C281.7 383.2 293.3 382.3 305.0 381.1C316.7 380.0 328.3 378.6 340.0 376.9C350.0 375.4 360.0 373.5 370.0 371.2C378.3 369.2 386.7 366.6 395.0 363.3C401.7 360.7 408.3 357.3 415.0 352.8C420.0 349.5 425.0 345.2 430.0 339.7C433.3 336.0 436.7 331.4 440.0 325.7C442.7 321.1 445.3 315.4 448.0 308.5C449.8 303.7 451.7 297.8 453.5 291.0C454.5 287.4 455.5 283.1 456.5 278.3C458.1 270.7 459.7 251.4 461.2 251.4C462.0 251.4 462.8 263.0 463.5 270.0C464.1 275.3 464.6 281.3 465.2 288.1C466.2 299.6 467.1 314.8 468.1 329.2C468.9 341.9 469.8 353.7 470.6 369.3C472.3 400.8 474.0 447.1 475.7 488.6C477.3 526.8 478.8 579.7 480.4 608.2C481.1 620.9 481.8 631.2 482.5 639.4C483.7 653.3 484.9 661.6 486.1 672.7C487.3 683.4 488.4 694.7 489.6 704.9C490.7 714.8 491.9 733.2 493.0 733.2C493.9 733.2 494.8 718.2 495.7 707.0C496.6 695.8 497.5 677.2 498.4 660.2C499.2 644.4 500.1 631.7 500.9 608.2C501.8 581.9 502.8 521.5 503.7 483.4C504.4 453.5 505.2 424.6 505.9 400.2C506.6 376.9 507.3 357.9 508.0 337.8C509.1 305.3 510.3 264.2 511.4 244.2C512.4 226.5 513.4 211.9 514.4 204.7C515.2 198.9 516.0 192.5 516.8 192.5C517.8 192.5 518.9 203.9 519.9 213.0C521.4 226.1 522.9 254.1 524.4 275.4C525.8 295.8 527.3 320.1 528.7 338.2C530.6 361.9 532.5 383.7 534.4 400.1C534.9 404.8 535.5 409.2 536.0 412.6C538.0 425.0 540.0 435.7 542.0 441.7C544.0 447.7 546.0 454.6 548.0 454.6C550.0 454.6 552.0 448.7 554.0 443.1C556.0 437.5 558.0 421.9 560.0 411.3C562.0 400.7 564.0 385.1 566.0 379.5C568.0 373.9 570.0 368.1 572.0 368.1C574.0 368.1 576.0 374.5 578.0 378.6C580.0 382.8 582.0 391.4 584.0 393.8C586.0 396.2 588.0 398.6 590.0 398.6C592.0 398.6 594.0 394.1 596.0 394.1C598.0 394.1 600.0 404.1 602.0 411.8C604.0 419.5 606.0 434.7 608.0 445.2C610.0 455.7 612.0 471.3 614.0 475.1C616.0 478.8 618.0 482.0 620.0 482.0C622.0 482.0 624.0 470.2 626.0 461.9C628.0 453.5 630.0 439.3 632.0 428.5C634.0 417.7 636.0 403.5 638.0 396.9C640.0 390.2 642.0 382.2 644.0 382.2C646.0 382.2 648.0 382.8 650.0 383.4C652.0 383.9 654.0 385.1 656.0 386.5C658.0 387.9 660.0 389.8 662.0 393.1C664.0 396.4 666.0 404.9 668.0 411.9C670.0 418.8 672.0 428.4 674.0 435.2C676.0 442.1 678.0 451.9 680.0 453.5C682.0 455.1 684.0 456.3 686.0 456.3C688.0 456.3 690.0 442.2 692.0 434.6C694.0 427.0 696.0 414.3 698.0 410.6C700.0 406.8 702.0 404.4 704.0 403.2C706.0 401.9 708.0 401.4 710.0 400.5C712.0 399.7 714.0 399.3 716.0 398.1C718.0 396.9 720.0 392.2 722.0 390.7C724.0 389.3 726.0 387.6 728.0 387.6C730.0 387.6 732.0 394.3 734.0 399.0C736.0 403.8 738.0 412.5 740.0 418.4C742.0 424.2 744.0 433.4 746.0 434.4C748.0 435.4 750.0 436.1 752.0 436.1C754.0 436.1 756.0 426.0 758.0 419.1C760.0 412.3 762.0 401.4 764.0 392.9C766.0 384.3 768.0 373.6 770.0 368.0C772.0 362.3 774.0 355.2 776.0 355.2C778.0 355.2 780.0 357.7 782.0 360.3C784.0 363.0 786.0 370.4 788.0 376.4C790.0 382.3 792.0 390.3 794.0 396.6C796.0 402.9 798.0 410.5 800.0 414.5C802.0 418.5 804.0 423.5 806.0 423.5C808.0 423.5 810.0 419.9 812.0 416.2C814.0 412.6 816.0 402.3 818.0 394.2C820.0 386.1 822.0 375.2 824.0 367.1C826.0 359.1 828.0 348.7 830.0 345.1C832.0 341.5 834.0 338.0 836.0 338.0C838.0 338.0 840.0 344.0 842.0 349.0C844.0 353.9 846.0 363.4 848.0 371.8C850.0 380.3 852.0 390.9 854.0 400.3C856.0 409.6 858.0 420.0 860.0 427.9C862.0 435.7 864.0 444.9 866.0 448.3C868.0 451.7 870.0 455.2 872.0 455.2C874.0 455.2 876.0 450.3 878.0 446.2C880.0 442.2 882.0 434.1 884.0 427.0C886.0 420.0 888.0 411.1 890.0 403.6C892.0 396.1 894.0 387.6 896.0 382.0C898.0 376.4 900.0 368.3 902.0 368.3C904.0 368.3 906.0 368.7 908.0 369.3C910.0 370.0 912.0 381.9 914.0 390.4C916.0 399.0 918.0 412.0 920.0 423.3C922.0 434.7 924.0 448.1 926.0 458.4C928.0 468.8 930.0 481.0 932.0 486.1C934.0 491.2 936.0 496.7 938.0 496.7C940.0 496.7 942.0 491.5 944.0 487.0C946.0 482.4 948.0 472.7 950.0 464.4C952.0 456.0 954.0 445.3 956.0 436.2C958.0 427.2 960.0 416.8 962.0 409.9C964.0 402.9 966.0 392.8 968.0 392.6C970.0 392.4 972.0 392.3 974.0 392.3C976.0 392.3 978.0 402.6 980.0 408.6C982.0 414.5 984.0 423.2 986.0 428.0C988.0 432.8 990.0 439.4 992.0 439.6C994.0 439.8 996.0 439.9 998.0 439.9C1000.0 439.9 1002.0 435.3 1004.0 435.3C1006.0 435.3 1008.0 436.1 1010.0 437.1C1012.0 438.0 1014.0 442.0 1016.0 445.4C1018.0 448.7 1020.0 453.3 1022.0 458.0C1024.0 462.8 1026.0 470.3 1028.0 474.2C1030.0 478.1 1032.0 483.3 1034.0 483.3C1036.0 483.3 1038.0 482.5 1040.0 481.5C1042.0 480.5 1044.0 476.3 1046.0 472.9C1048.0 469.6 1050.0 465.0 1052.0 461.0C1054.0 456.9 1056.0 452.2 1058.0 448.7C1060.0 445.2 1062.0 441.0 1064.0 439.3C1066.0 437.7 1068.0 436.0 1070.0 436.0C1072.0 436.0 1074.0 436.0 1076.0 436.0C1078.0 436.0 1080.0 436.0 1082.0 436.0C1084.0 436.0 1086.0 436.0 1088.0 436.0C1090.0 436.0 1092.0 435.7 1094.0 435.4C1096.0 435.0 1098.0 432.0 1100.0 429.7C1102.0 427.3 1104.0 423.7 1106.0 420.5C1108.0 417.2 1110.0 414.2 1112.0 410.0C1114.0 405.7 1116.0 399.3 1118.0 393.8C1120.0 388.2 1122.0 381.1 1124.0 376.6C1126.0 372.1 1128.0 368.5 1130.0 365.6C1132.0 362.7 1134.0 359.0 1136.0 358.4C1138.0 357.8 1140.0 357.4 1142.0 357.4C1144.0 357.4 1146.0 359.3 1148.0 360.4C1150.0 361.4 1152.0 363.3 1154.0 363.5C1156.0 363.8 1158.0 363.9 1160.0 363.9C1162.0 363.9 1164.0 361.9 1166.0 360.5C1168.0 359.1 1170.0 356.8 1172.0 355.2C1174.0 353.5 1176.0 351.3 1178.0 350.5C1180.0 349.6 1182.0 348.7 1184.0 348.7C1186.0 348.7 1188.0 349.3 1190.0 349.8C1192.0 350.3 1194.0 351.2 1196.0 352.3C1198.0 353.4 1200.0 355.2 1202.0 357.3C1204.0 359.5 1206.0 364.2 1208.0 366.6C1210.0 369.0 1212.0 370.9 1214.0 372.6C1216.0 374.3 1218.0 375.9 1220.0 377.1C1222.0 378.3 1224.0 380.1 1226.0 380.1C1228.0 380.2 1230.0 380.2 1232.0 380.2C1234.0 380.2 1236.0 378.5 1238.0 377.6C1240.0 376.6 1242.0 375.0 1244.0 374.4C1246.0 373.7 1248.0 372.9 1250.0 372.9C1252.0 372.9 1254.0 374.5 1256.0 375.8C1258.0 377.2 1260.0 379.9 1262.0 382.2C1264.0 384.4 1266.0 387.3 1268.0 389.3C1270.0 391.4 1272.0 393.3 1274.0 394.8C1276.0 396.3 1278.0 398.6 1280.0 398.6C1282.0 398.6 1284.0 398.5 1286.0 398.4C1288.0 398.3 1290.0 396.7 1292.0 396.2C1294.0 395.7 1296.0 395.2 1298.0 395.2C1300.0 395.2 1302.0 395.6 1304.0 396.0C1306.0 396.4 1308.0 397.2 1310.0 398.3C1312.0 399.3 1314.0 401.3 1316.0 403.0C1318.0 404.8 1320.0 407.4 1322.0 408.9C1324.0 410.3 1326.0 411.4 1328.0 412.4C1330.0 413.4 1332.0 414.1 1334.0 414.8C1336.0 415.6 1338.0 416.2 1340.0 416.9C1342.0 417.5 1344.0 418.1 1346.0 418.8C1348.0 419.5 1350.0 420.1 1352.0 420.9C1354.0 421.8 1356.0 422.8 1358.0 423.9C1360.0 424.9 1362.0 426.3 1364.0 427.3C1366.0 428.3 1368.0 429.6 1370.0 429.9C1372.0 430.2 1374.0 430.5 1376.0 430.5C1378.0 430.5 1380.0 429.2 1382.0 428.3C1384.0 427.3 1386.0 426.1 1388.0 424.6C1390.0 423.2 1392.0 421.5 1394.0 419.5C1396.0 417.5 1398.0 414.4 1400.0 412.0C1402.0 409.7 1404.0 406.9 1406.0 405.5C1408.0 404.1 1410.0 403.2 1412.0 402.4C1414.0 401.6 1416.0 400.9 1418.0 400.4C1420.0 399.9 1422.0 399.3 1424.0 399.2C1426.0 399.1 1428.0 399.0 1430.0 399.0C1432.0 399.0 1434.0 399.0 1436.0 399.0C1438.0 399.0 1440.0 399.0 1442.0 399.0" stroke="#808080" stroke-width="2.7"/><path d="M236.5 385.0C247.7 384.4 258.8 383.6 270.0 382.8C281.7 381.9 293.3 380.9 305.0 379.6C316.7 378.3 328.3 376.8 340.0 374.8C350.0 373.2 360.0 371.1 370.0 368.4C378.3 366.1 386.7 363.3 395.0 359.6C401.7 356.7 408.3 352.8 415.0 347.9C420.0 344.1 425.0 339.3 430.0 333.1C433.3 329.0 436.7 323.8 440.0 317.4C442.7 312.3 445.3 305.9 448.0 298.2C449.8 292.8 451.7 286.3 453.5 278.6C455.0 272.5 456.4 263.7 457.9 256.5C459.1 250.5 460.4 238.9 461.6 238.9C462.6 238.9 463.6 251.9 464.6 262.0C465.6 271.7 466.5 285.6 467.5 303.8C468.3 319.5 469.2 349.3 470.0 370.0C471.7 413.1 473.5 450.0 475.2 490.0C476.9 530.0 478.7 572.0 480.4 610.0C481.8 641.4 483.3 666.5 484.7 700.0C486.0 729.6 487.2 782.8 488.5 800.0C489.4 811.8 490.2 824.8 491.1 824.8C492.6 824.8 494.1 814.6 495.6 800.0C496.7 789.6 497.7 738.4 498.8 700.0C499.6 671.2 500.4 640.9 501.2 600.0C501.9 565.9 502.5 516.9 503.2 470.0C503.8 430.1 504.3 373.2 504.9 340.0C505.8 289.2 506.6 247.1 507.5 220.0C508.5 188.8 509.5 165.1 510.5 150.0C511.4 135.9 512.4 118.7 513.3 118.7C514.4 118.7 515.4 129.5 516.5 140.0C517.8 153.1 519.2 191.8 520.5 220.0C521.8 248.2 523.2 286.1 524.5 310.0C525.5 328.5 526.6 342.8 527.6 356.8C529.1 376.6 530.5 395.5 532.0 410.0C533.3 423.2 534.7 435.0 536.0 443.7C538.0 456.8 540.0 475.0 542.0 475.0C544.0 475.0 546.0 471.9 548.0 468.4C550.0 464.9 552.0 454.3 554.0 443.6C556.0 432.8 558.0 410.1 560.0 397.5C562.0 384.9 564.0 365.3 566.0 365.3C568.0 365.3 570.0 369.9 572.0 373.6C574.0 377.2 576.0 387.8 578.0 389.8C580.0 391.7 582.0 393.3 584.0 393.3C586.0 393.3 588.0 385.5 590.0 385.5C592.0 385.5 594.0 387.8 596.0 390.7C598.0 393.6 600.0 408.9 602.0 419.1C604.0 429.2 606.0 444.4 608.0 451.9C610.0 459.3 612.0 468.8 614.0 468.8C616.0 468.8 618.0 462.8 620.0 457.3C622.0 451.9 624.0 438.8 626.0 429.4C628.0 419.9 630.0 406.8 632.0 400.5C634.0 394.1 636.0 386.2 638.0 386.2C640.0 386.2 642.0 387.3 644.0 388.3C646.0 389.3 648.0 391.7 650.0 393.7C652.0 395.6 654.0 397.5 656.0 400.3C658.0 403.2 660.0 407.8 662.0 412.0C664.0 416.1 666.0 421.5 668.0 425.3C670.0 429.1 672.0 434.6 674.0 435.3C676.0 436.0 678.0 436.5 680.0 436.5C682.0 436.5 684.0 428.9 686.0 423.9C688.0 419.0 690.0 410.8 692.0 405.7C694.0 400.5 696.0 392.3 698.0 392.3C700.0 392.3 702.0 392.5 704.0 392.7C706.0 392.8 708.0 398.2 710.0 400.7C712.0 403.1 714.0 405.8 716.0 407.6C718.0 409.4 720.0 410.3 722.0 412.1C724.0 413.9 726.0 416.3 728.0 418.9C730.0 421.4 732.0 426.1 734.0 427.7C736.0 429.3 738.0 431.0 740.0 431.0C742.0 431.0 744.0 425.4 746.0 421.1C748.0 416.7 750.0 408.6 752.0 402.0C754.0 395.3 756.0 386.9 758.0 380.9C760.0 374.9 762.0 367.0 764.0 365.3C766.0 363.5 768.0 362.1 770.0 362.1C772.0 362.1 774.0 367.6 776.0 371.6C778.0 375.6 780.0 382.4 782.0 388.1C784.0 393.8 786.0 400.7 788.0 405.7C790.0 410.7 792.0 417.3 794.0 418.7C796.0 420.2 798.0 421.4 800.0 421.4C802.0 421.4 804.0 415.8 806.0 411.6C808.0 407.4 810.0 400.4 812.0 394.4C814.0 388.4 816.0 381.1 818.0 375.5C820.0 370.0 822.0 363.2 824.0 360.8C826.0 358.4 828.0 355.9 830.0 355.9C832.0 355.9 834.0 359.9 836.0 363.1C838.0 366.3 840.0 372.3 842.0 377.1C844.0 381.9 846.0 386.9 848.0 391.8C850.0 396.7 852.0 402.3 854.0 406.8C856.0 411.3 858.0 419.0 860.0 419.0C862.0 419.0 864.0 417.6 866.0 416.1C868.0 414.5 870.0 409.0 872.0 404.7C874.0 400.4 876.0 394.5 878.0 389.8C880.0 385.1 882.0 379.5 884.0 376.4C886.0 373.3 888.0 369.2 890.0 369.2C892.0 369.2 894.0 370.7 896.0 372.4C898.0 374.1 900.0 380.0 902.0 384.9C904.0 389.8 906.0 396.5 908.0 402.7C910.0 408.9 912.0 416.0 914.0 421.9C916.0 427.8 918.0 434.3 920.0 438.5C922.0 442.6 924.0 448.2 926.0 448.5C928.0 448.8 930.0 448.9 932.0 448.9C934.0 448.9 936.0 445.8 938.0 443.6C940.0 441.5 942.0 438.3 944.0 435.6C946.0 432.9 948.0 429.7 950.0 427.5C952.0 425.2 954.0 422.2 956.0 421.7C958.0 421.2 960.0 420.9 962.0 420.9C964.0 420.9 966.0 424.3 968.0 426.7C970.0 429.1 972.0 432.9 974.0 436.1C976.0 439.2 978.0 443.1 980.0 445.5C982.0 447.9 984.0 451.2 986.0 451.2C988.0 451.2 990.0 451.2 992.0 451.1C994.0 451.1 996.0 449.5 998.0 448.5C1000.0 447.5 1002.0 446.1 1004.0 444.8C1006.0 443.6 1008.0 442.2 1010.0 441.1C1012.0 440.1 1014.0 438.7 1016.0 438.5C1018.0 438.3 1020.0 438.2 1022.0 438.2C1024.0 438.2 1026.0 440.8 1028.0 441.4C1030.0 442.0 1032.0 442.7 1034.0 442.7C1036.0 442.7 1038.0 439.9 1040.0 437.3C1042.0 434.8 1044.0 428.9 1046.0 424.0C1048.0 419.1 1050.0 412.5 1052.0 407.6C1054.0 402.6 1056.0 398.0 1058.0 394.0C1060.0 390.0 1062.0 386.5 1064.0 383.4C1066.0 380.2 1068.0 377.4 1070.0 374.8C1072.0 372.2 1074.0 369.5 1076.0 367.5C1078.0 365.5 1080.0 364.1 1082.0 362.5C1084.0 360.9 1086.0 359.3 1088.0 357.9C1090.0 356.4 1092.0 354.7 1094.0 353.7C1096.0 352.8 1098.0 351.7 1100.0 351.7C1102.0 351.7 1104.0 352.3 1106.0 352.9C1108.0 353.5 1110.0 355.2 1112.0 356.5C1114.0 357.9 1116.0 359.1 1118.0 361.0C1120.0 362.9 1122.0 366.2 1124.0 368.8C1126.0 371.3 1128.0 375.0 1130.0 376.2C1132.0 377.5 1134.0 378.7 1136.0 378.7C1138.0 378.7 1140.0 376.7 1142.0 375.2C1144.0 373.6 1146.0 370.8 1148.0 368.5C1150.0 366.2 1152.0 363.3 1154.0 361.3C1156.0 359.3 1158.0 356.4 1160.0 356.2C1162.0 356.0 1164.0 355.9 1166.0 355.9C1168.0 355.9 1170.0 358.9 1172.0 360.6C1174.0 362.4 1176.0 364.2 1178.0 366.6C1180.0 369.0 1182.0 372.3 1184.0 375.4C1186.0 378.6 1188.0 382.7 1190.0 385.7C1192.0 388.8 1194.0 392.6 1196.0 394.2C1198.0 395.7 1200.0 397.4 1202.0 397.4C1204.0 397.4 1206.0 396.4 1208.0 395.6C1210.0 394.8 1212.0 393.2 1214.0 392.0C1216.0 390.7 1218.0 389.1 1220.0 388.0C1222.0 387.0 1224.0 385.4 1226.0 385.4C1228.0 385.4 1230.0 385.6 1232.0 386.0C1234.0 386.4 1236.0 389.3 1238.0 391.4C1240.0 393.6 1242.0 396.7 1244.0 399.4C1246.0 402.0 1248.0 405.2 1250.0 407.4C1252.0 409.5 1254.0 412.6 1256.0 412.8C1258.0 413.1 1260.0 413.3 1262.0 413.3C1264.0 413.3 1266.0 410.0 1268.0 408.0C1270.0 406.0 1272.0 403.0 1274.0 400.8C1276.0 398.5 1278.0 395.8 1280.0 394.6C1282.0 393.3 1284.0 391.8 1286.0 391.8C1288.0 391.8 1290.0 392.3 1292.0 392.7C1294.0 393.0 1296.0 394.1 1298.0 394.1C1300.0 394.1 1302.0 393.9 1304.0 393.7C1306.0 393.5 1308.0 392.3 1310.0 392.2C1312.0 392.1 1314.0 392.1 1316.0 392.1C1318.0 392.1 1320.0 393.1 1322.0 393.7C1324.0 394.3 1326.0 395.3 1328.0 395.9C1330.0 396.5 1332.0 397.0 1334.0 397.4C1336.0 397.8 1338.0 398.1 1340.0 398.4C1342.0 398.8 1344.0 399.1 1346.0 399.4C1348.0 399.8 1350.0 400.2 1352.0 400.6C1354.0 401.1 1356.0 401.5 1358.0 402.0C1360.0 402.5 1362.0 403.1 1364.0 403.7C1366.0 404.3 1368.0 404.9 1370.0 405.7C1372.0 406.5 1374.0 407.7 1376.0 408.9C1378.0 410.0 1380.0 411.4 1382.0 412.5C1384.0 413.6 1386.0 414.5 1388.0 415.5C1390.0 416.4 1392.0 417.4 1394.0 418.2C1396.0 418.9 1398.0 420.0 1400.0 420.0C1402.0 420.0 1404.0 419.4 1406.0 418.7C1408.0 418.0 1410.0 415.4 1412.0 413.9C1414.0 412.4 1416.0 411.0 1418.0 409.7C1420.0 408.3 1422.0 407.1 1424.0 405.8C1426.0 404.5 1428.0 403.1 1430.0 401.8C1432.0 400.5 1434.0 399.2 1436.0 397.9C1438.0 396.6 1440.0 395.3 1442.0 394.1" stroke="#808080" stroke-width="2.7"/><path d="M236.5 384.6C247.7 384.0 258.8 383.2 270.0 382.3C281.7 381.5 293.3 380.4 305.0 379.1C316.7 377.9 328.3 376.3 340.0 374.4C350.0 372.7 360.0 370.6 370.0 367.9C378.3 365.6 386.7 362.8 395.0 359.1C401.7 356.1 408.3 352.2 415.0 347.3C420.0 343.5 425.0 338.6 430.0 332.4C433.3 328.3 436.7 323.1 440.0 316.6C442.7 311.5 445.3 305.1 448.0 297.3C449.8 291.9 451.7 285.4 453.5 277.6C455.0 271.5 456.4 263.2 457.9 255.4C459.1 249.2 460.2 236.0 461.4 236.0C462.4 236.0 463.4 251.2 464.4 262.0C465.4 272.5 466.3 285.6 467.3 303.8C468.1 319.5 469.0 349.3 469.8 370.0C471.5 413.1 473.3 450.0 475.0 490.0C476.7 530.0 478.5 572.0 480.2 610.0C481.6 641.4 483.1 666.5 484.5 700.0C485.8 729.6 487.0 784.3 488.3 800.0C489.2 810.8 490.0 822.0 490.9 822.0C492.4 822.0 493.9 813.2 495.4 800.0C496.5 790.6 497.5 738.4 498.6 700.0C499.4 671.2 500.2 640.9 501.0 600.0C501.7 565.9 502.3 518.3 503.0 470.0C503.5 431.3 504.1 372.1 504.6 340.0C505.5 287.8 506.3 250.7 507.2 220.0C508.1 187.0 509.1 154.1 510.0 140.0C510.8 127.9 511.6 115.0 512.4 115.0C513.4 115.0 514.5 125.2 515.5 135.0C516.9 148.6 518.4 189.8 519.8 220.0C521.1 248.1 522.5 286.5 523.8 310.0C524.9 328.8 525.9 342.8 527.0 356.8C528.5 376.5 530.0 395.3 531.5 410.0C533.0 424.7 534.5 438.6 536.0 447.5C538.0 459.5 540.0 475.0 542.0 475.0C544.0 475.0 546.0 470.0 548.0 465.3C550.0 460.6 552.0 450.6 554.0 439.5C556.0 428.3 558.0 403.5 560.0 392.0C562.0 380.6 564.0 365.1 566.0 365.1C568.0 365.1 570.0 373.3 572.0 378.2C574.0 383.0 576.0 394.5 578.0 394.5C580.0 394.5 582.0 392.6 584.0 391.2C586.0 389.7 588.0 385.1 590.0 385.1C592.0 385.1 594.0 394.1 596.0 401.5C598.0 408.9 600.0 424.6 602.0 435.3C604.0 446.0 606.0 462.2 608.0 465.6C610.0 469.1 612.0 472.0 614.0 472.0C616.0 472.0 618.0 459.8 620.0 451.5C622.0 443.3 624.0 429.6 626.0 420.0C628.0 410.4 630.0 397.1 632.0 393.6C634.0 390.1 636.0 387.1 638.0 387.1C640.0 387.1 642.0 389.3 644.0 390.8C646.0 392.4 648.0 394.6 650.0 396.9C652.0 399.3 654.0 402.1 656.0 405.6C658.0 409.2 660.0 414.7 662.0 419.2C664.0 423.7 666.0 429.3 668.0 432.6C670.0 435.8 672.0 440.3 674.0 440.3C676.0 440.3 678.0 438.1 680.0 435.6C682.0 433.2 684.0 424.1 686.0 418.2C688.0 412.4 690.0 403.4 692.0 400.5C694.0 397.6 696.0 394.8 698.0 394.8C700.0 394.8 702.0 396.4 704.0 397.5C706.0 398.6 708.0 399.9 710.0 401.7C712.0 403.5 714.0 406.4 716.0 409.2C718.0 412.1 720.0 416.0 722.0 419.2C724.0 422.4 726.0 426.2 728.0 428.4C730.0 430.6 732.0 433.6 734.0 433.6C736.0 433.6 738.0 431.6 740.0 429.3C742.0 427.0 744.0 418.2 746.0 411.5C748.0 404.7 750.0 395.3 752.0 388.1C754.0 380.8 756.0 371.8 758.0 367.6C760.0 363.5 762.0 358.7 764.0 358.7C766.0 358.7 768.0 362.3 770.0 365.6C772.0 368.9 774.0 376.4 776.0 382.6C778.0 388.8 780.0 396.8 782.0 403.0C784.0 409.1 786.0 416.7 788.0 420.0C790.0 423.4 792.0 427.2 794.0 427.2C796.0 427.2 798.0 423.5 800.0 420.2C802.0 417.0 804.0 409.6 806.0 403.5C808.0 397.4 810.0 389.5 812.0 383.2C814.0 376.9 816.0 369.4 818.0 365.6C820.0 361.7 822.0 356.9 824.0 356.9C826.0 356.9 828.0 359.2 830.0 361.5C832.0 363.8 834.0 370.4 836.0 375.7C838.0 381.1 840.0 388.2 842.0 394.1C844.0 400.1 846.0 407.0 848.0 411.4C850.0 415.9 852.0 422.2 854.0 422.2C856.0 422.2 858.0 422.0 860.0 421.6C862.0 421.2 864.0 414.8 866.0 410.4C868.0 405.9 870.0 399.3 872.0 393.8C874.0 388.3 876.0 381.7 878.0 377.2C880.0 372.7 882.0 366.5 884.0 365.9C886.0 365.3 888.0 364.9 890.0 364.9C892.0 364.9 894.0 370.9 896.0 375.2C898.0 379.5 900.0 386.3 902.0 392.6C904.0 398.9 906.0 406.4 908.0 413.0C910.0 419.5 912.0 426.8 914.0 432.0C916.0 437.3 918.0 443.6 920.0 445.6C922.0 447.6 924.0 449.5 926.0 449.5C928.0 449.5 930.0 447.2 932.0 445.4C934.0 443.6 936.0 440.3 938.0 437.6C940.0 434.8 942.0 431.3 944.0 428.7C946.0 426.0 948.0 422.8 950.0 421.5C952.0 420.2 954.0 418.7 956.0 418.7C958.0 418.7 960.0 419.7 962.0 420.6C964.0 421.4 966.0 423.3 968.0 425.1C970.0 426.8 972.0 429.3 974.0 431.4C976.0 433.5 978.0 435.9 980.0 437.6C982.0 439.4 984.0 440.8 986.0 442.1C988.0 443.5 990.0 444.5 992.0 445.8C994.0 447.2 996.0 448.6 998.0 450.0C1000.0 451.5 1002.0 452.7 1004.0 454.7C1006.0 456.7 1008.0 460.2 1010.0 463.3C1012.0 466.4 1014.0 471.9 1016.0 473.5C1018.0 475.2 1020.0 476.9 1022.0 476.9C1024.0 476.9 1026.0 472.3 1028.0 469.4C1030.0 466.6 1032.0 462.1 1034.0 459.5C1036.0 456.8 1038.0 455.0 1040.0 452.9C1042.0 450.8 1044.0 448.4 1046.0 446.7C1048.0 445.1 1050.0 442.9 1052.0 442.6C1054.0 442.4 1056.0 442.2 1058.0 442.2C1060.0 442.2 1062.0 443.4 1064.0 444.0C1066.0 444.5 1068.0 445.6 1070.0 445.6C1072.0 445.6 1074.0 445.2 1076.0 444.6C1078.0 444.1 1080.0 441.7 1082.0 439.8C1084.0 437.9 1086.0 435.5 1088.0 432.9C1090.0 430.3 1092.0 427.4 1094.0 423.8C1096.0 420.1 1098.0 414.1 1100.0 409.7C1102.0 405.3 1104.0 401.2 1106.0 397.2C1108.0 393.2 1110.0 389.2 1112.0 385.7C1114.0 382.1 1116.0 377.6 1118.0 375.9C1120.0 374.2 1122.0 372.4 1124.0 372.4C1126.0 372.4 1128.0 372.9 1130.0 373.2C1132.0 373.5 1134.0 374.4 1136.0 374.4C1138.0 374.4 1140.0 374.3 1142.0 374.1C1144.0 373.9 1146.0 370.1 1148.0 367.8C1150.0 365.5 1152.0 362.5 1154.0 360.4C1156.0 358.4 1158.0 356.8 1160.0 355.1C1162.0 353.4 1164.0 351.3 1166.0 350.1C1168.0 349.0 1170.0 347.5 1172.0 347.5C1174.0 347.5 1176.0 348.3 1178.0 349.1C1180.0 349.9 1182.0 351.9 1184.0 353.7C1186.0 355.5 1188.0 357.7 1190.0 360.3C1192.0 362.8 1194.0 366.9 1196.0 369.6C1198.0 372.3 1200.0 376.3 1202.0 376.9C1204.0 377.6 1206.0 378.1 1208.0 378.1C1210.0 378.1 1212.0 377.0 1214.0 376.3C1216.0 375.6 1218.0 374.5 1220.0 374.0C1222.0 373.5 1224.0 372.9 1226.0 372.9C1228.0 372.9 1230.0 374.1 1232.0 375.1C1234.0 376.1 1236.0 378.3 1238.0 379.9C1240.0 381.5 1242.0 383.0 1244.0 384.9C1246.0 386.8 1248.0 389.3 1250.0 391.6C1252.0 393.9 1254.0 396.7 1256.0 398.9C1258.0 401.0 1260.0 403.6 1262.0 404.6C1264.0 405.6 1266.0 406.5 1268.0 406.5C1270.0 406.5 1272.0 406.4 1274.0 406.2C1276.0 406.1 1278.0 405.8 1280.0 405.5C1282.0 405.3 1284.0 404.8 1286.0 404.8C1288.0 404.8 1290.0 404.8 1292.0 404.8C1294.0 404.8 1296.0 406.1 1298.0 407.0C1300.0 408.0 1302.0 409.6 1304.0 411.1C1306.0 412.6 1308.0 414.4 1310.0 416.4C1312.0 418.4 1314.0 421.7 1316.0 423.5C1318.0 425.2 1320.0 426.8 1322.0 427.7C1324.0 428.6 1326.0 429.3 1328.0 429.7C1330.0 430.1 1332.0 430.5 1334.0 430.5C1336.0 430.5 1338.0 429.7 1340.0 429.0C1342.0 428.4 1344.0 427.1 1346.0 426.1C1348.0 425.2 1350.0 423.8 1352.0 423.3C1354.0 422.8 1356.0 422.2 1358.0 422.2C1360.0 422.2 1362.0 422.3 1364.0 422.5C1366.0 422.6 1368.0 422.7 1370.0 423.0C1372.0 423.2 1374.0 423.6 1376.0 424.0C1378.0 424.4 1380.0 425.1 1382.0 425.5C1384.0 425.8 1386.0 426.3 1388.0 426.3C1390.0 426.3 1392.0 426.0 1394.0 425.7C1396.0 425.4 1398.0 424.6 1400.0 424.0C1402.0 423.3 1404.0 422.5 1406.0 421.7C1408.0 420.9 1410.0 420.2 1412.0 419.4C1414.0 418.6 1416.0 417.7 1418.0 416.8C1420.0 415.8 1422.0 414.8 1424.0 413.7C1426.0 412.6 1428.0 411.4 1430.0 410.2C1432.0 409.0 1434.0 407.7 1436.0 406.4C1438.0 405.1 1440.0 403.8 1442.0 402.4" stroke="#808080" stroke-width="2.7"/><path d="M236.5 384.5C247.7 383.9 258.8 383.1 270.0 382.3C281.7 381.4 293.3 380.3 305.0 379.0C316.7 377.8 328.3 376.2 340.0 374.2C350.0 372.5 360.0 370.4 370.0 367.7C378.3 365.5 386.7 362.6 395.0 358.9C401.7 355.9 408.3 352.0 415.0 347.0C420.0 343.2 425.0 338.3 430.0 332.1C433.3 327.9 436.7 322.7 440.0 316.2C442.7 311.0 445.3 304.6 448.0 296.7C449.8 291.4 451.7 284.8 453.5 277.0C455.0 270.8 456.4 261.9 457.9 254.7C459.2 248.3 460.5 236.0 461.8 236.0C462.8 236.0 463.8 251.2 464.8 262.0C465.8 272.5 466.7 285.9 467.7 303.8C468.6 319.8 469.4 349.1 470.3 370.0C472.1 412.6 473.8 450.0 475.6 490.0C477.4 530.0 479.1 573.0 480.9 610.0C482.4 642.1 484.0 666.2 485.5 700.0C486.8 729.4 488.2 781.8 489.5 800.0C490.7 815.9 491.8 833.2 493.0 833.2C494.5 833.2 496.0 810.5 497.5 790.0C498.8 772.2 500.1 741.9 501.4 700.0C502.1 677.5 502.8 638.5 503.5 600.0C504.2 563.3 504.8 519.9 505.5 470.0C506.0 432.6 506.5 368.8 507.0 340.0C508.2 272.8 509.3 234.2 510.5 200.0C511.5 170.7 512.5 141.1 513.5 130.0C514.5 119.3 515.4 108.8 516.4 108.8C517.4 108.8 518.5 119.8 519.5 130.0C521.0 144.8 522.5 192.9 524.0 220.0C526.5 264.6 528.9 305.1 531.4 340.0C532.9 361.7 534.5 381.7 536.0 398.7C538.0 420.9 540.0 442.8 542.0 456.9C544.0 470.9 546.0 489.9 548.0 489.9C550.0 489.9 552.0 479.6 554.0 471.2C556.0 462.8 558.0 446.2 560.0 432.8C562.0 419.4 564.0 402.3 566.0 390.8C568.0 379.4 570.0 363.8 572.0 361.7C574.0 359.7 576.0 358.4 578.0 358.4C580.0 358.4 582.0 363.0 584.0 366.0C586.0 369.1 588.0 373.7 590.0 377.6C592.0 381.6 594.0 385.0 596.0 389.7C598.0 394.3 600.0 400.3 602.0 406.5C604.0 412.7 606.0 420.2 608.0 427.1C610.0 434.1 612.0 441.7 614.0 448.1C616.0 454.4 618.0 461.2 620.0 465.6C622.0 469.9 624.0 475.8 626.0 475.8C628.0 475.8 630.0 473.8 632.0 471.0C634.0 468.2 636.0 451.5 638.0 440.1C640.0 428.7 642.0 411.7 644.0 401.9C646.0 392.0 648.0 377.9 650.0 377.9C652.0 377.9 654.0 378.0 656.0 378.2C658.0 378.4 660.0 380.4 662.0 381.8C664.0 383.3 666.0 385.3 668.0 387.3C670.0 389.2 672.0 390.8 674.0 393.7C676.0 396.5 678.0 401.7 680.0 406.9C682.0 412.0 684.0 420.1 686.0 425.8C688.0 431.6 690.0 439.7 692.0 441.6C694.0 443.5 696.0 445.2 698.0 445.2C700.0 445.2 702.0 438.0 704.0 433.3C706.0 428.5 708.0 420.3 710.0 415.3C712.0 410.3 714.0 404.3 716.0 402.4C718.0 400.5 720.0 399.7 722.0 398.7C724.0 397.7 726.0 396.6 728.0 396.2C730.0 395.8 732.0 395.5 734.0 395.5C736.0 395.5 738.0 398.2 740.0 400.5C742.0 402.8 744.0 407.2 746.0 410.8C748.0 414.5 750.0 419.1 752.0 422.2C754.0 425.4 756.0 430.3 758.0 430.3C760.0 430.3 762.0 430.2 764.0 430.1C766.0 429.9 768.0 421.1 770.0 415.0C772.0 409.0 774.0 399.5 776.0 392.0C778.0 384.5 780.0 375.1 782.0 369.8C784.0 364.5 786.0 357.4 788.0 357.4C790.0 357.4 792.0 358.4 794.0 359.6C796.0 360.8 798.0 365.5 800.0 369.3C802.0 373.0 804.0 378.2 806.0 382.8C808.0 387.3 810.0 392.6 812.0 396.6C814.0 400.7 816.0 405.4 818.0 407.3C820.0 409.3 822.0 411.5 824.0 411.5C826.0 411.5 828.0 407.7 830.0 404.5C832.0 401.3 834.0 394.5 836.0 389.0C838.0 383.6 840.0 376.5 842.0 371.6C844.0 366.7 846.0 360.1 848.0 358.8C850.0 357.6 852.0 356.7 854.0 356.7C856.0 356.7 858.0 360.2 860.0 362.8C862.0 365.5 864.0 369.8 866.0 373.9C868.0 378.0 870.0 383.0 872.0 387.7C874.0 392.3 876.0 397.4 878.0 401.8C880.0 406.2 882.0 410.8 884.0 414.0C886.0 417.2 888.0 421.3 890.0 422.0C892.0 422.7 894.0 423.2 896.0 423.2C898.0 423.2 900.0 417.5 902.0 413.5C904.0 409.5 906.0 402.8 908.0 398.0C910.0 393.2 912.0 386.5 914.0 384.5C916.0 382.6 918.0 380.8 920.0 380.8C922.0 380.8 924.0 385.0 926.0 388.4C928.0 391.7 930.0 397.9 932.0 403.6C934.0 409.3 936.0 416.5 938.0 423.1C940.0 429.7 942.0 437.1 944.0 443.4C946.0 449.7 948.0 456.4 950.0 461.1C952.0 465.8 954.0 471.5 956.0 472.7C958.0 474.0 960.0 474.9 962.0 474.9C964.0 474.9 966.0 469.7 968.0 465.8C970.0 462.0 972.0 455.5 974.0 450.1C976.0 444.6 978.0 438.0 980.0 433.2C982.0 428.5 984.0 422.2 986.0 420.8C988.0 419.5 990.0 418.5 992.0 418.5C994.0 418.5 996.0 423.4 998.0 426.8C1000.0 430.2 1002.0 435.7 1004.0 440.1C1006.0 444.4 1008.0 448.1 1010.0 452.8C1012.0 457.6 1014.0 464.0 1016.0 468.9C1018.0 473.7 1020.0 481.6 1022.0 482.2C1024.0 482.7 1026.0 483.1 1028.0 483.1C1030.0 483.1 1032.0 475.3 1034.0 471.2C1036.0 467.1 1038.0 461.7 1040.0 458.3C1042.0 454.9 1044.0 452.5 1046.0 449.7C1048.0 447.0 1050.0 443.8 1052.0 441.7C1054.0 439.7 1056.0 436.8 1058.0 436.8C1060.0 436.8 1062.0 436.8 1064.0 436.8C1066.0 436.8 1068.0 438.9 1070.0 439.3C1072.0 439.7 1074.0 440.1 1076.0 440.1C1078.0 440.1 1080.0 437.2 1082.0 435.0C1084.0 432.7 1086.0 428.6 1088.0 425.5C1090.0 422.3 1092.0 419.3 1094.0 416.0C1096.0 412.7 1098.0 409.2 1100.0 405.6C1102.0 402.1 1104.0 398.3 1106.0 394.7C1108.0 391.1 1110.0 387.9 1112.0 384.0C1114.0 380.1 1116.0 375.2 1118.0 371.2C1120.0 367.1 1122.0 362.2 1124.0 359.6C1126.0 357.1 1128.0 354.0 1130.0 354.0C1132.0 354.0 1134.0 355.1 1136.0 356.1C1138.0 357.2 1140.0 360.0 1142.0 362.4C1144.0 364.8 1146.0 368.0 1148.0 370.8C1150.0 373.7 1152.0 377.0 1154.0 379.6C1156.0 382.2 1158.0 385.1 1160.0 386.6C1162.0 388.2 1164.0 390.2 1166.0 390.2C1168.0 390.2 1170.0 389.5 1172.0 388.8C1174.0 388.0 1176.0 385.7 1178.0 383.8C1180.0 382.0 1182.0 379.6 1184.0 377.7C1186.0 375.9 1188.0 373.5 1190.0 372.8C1192.0 372.1 1194.0 371.4 1196.0 371.4C1198.0 371.4 1200.0 373.2 1202.0 374.5C1204.0 375.7 1206.0 377.5 1208.0 379.4C1210.0 381.3 1212.0 384.1 1214.0 386.3C1216.0 388.4 1218.0 391.1 1220.0 392.1C1222.0 393.2 1224.0 394.3 1226.0 394.3C1228.0 394.3 1230.0 393.4 1232.0 392.7C1234.0 392.1 1236.0 390.7 1238.0 389.8C1240.0 388.8 1242.0 387.5 1244.0 387.1C1246.0 386.7 1248.0 386.3 1250.0 386.3C1252.0 386.3 1254.0 387.1 1256.0 387.8C1258.0 388.4 1260.0 389.5 1262.0 390.6C1264.0 391.7 1266.0 393.0 1268.0 394.4C1270.0 395.9 1272.0 397.6 1274.0 399.2C1276.0 400.8 1278.0 403.1 1280.0 404.2C1282.0 405.2 1284.0 406.4 1286.0 406.4C1288.0 406.4 1290.0 406.0 1292.0 405.7C1294.0 405.5 1296.0 404.8 1298.0 404.8C1300.0 404.8 1302.0 405.3 1304.0 405.8C1306.0 406.3 1308.0 407.7 1310.0 408.9C1312.0 410.1 1314.0 411.4 1316.0 413.0C1318.0 414.6 1320.0 416.9 1322.0 418.9C1324.0 420.8 1326.0 423.5 1328.0 424.6C1330.0 425.7 1332.0 426.5 1334.0 426.9C1336.0 427.2 1338.0 427.4 1340.0 427.6C1342.0 427.7 1344.0 427.9 1346.0 428.0C1348.0 428.0 1350.0 428.1 1352.0 428.1C1354.0 428.1 1356.0 427.5 1358.0 427.1C1360.0 426.7 1362.0 426.0 1364.0 425.4C1366.0 424.8 1368.0 424.0 1370.0 423.6C1372.0 423.1 1374.0 422.4 1376.0 422.4C1378.0 422.4 1380.0 422.4 1382.0 422.4C1384.0 422.4 1386.0 422.8 1388.0 423.0C1390.0 423.3 1392.0 423.6 1394.0 423.8C1396.0 424.0 1398.0 424.3 1400.0 424.4C1402.0 424.4 1404.0 424.4 1406.0 424.4C1408.0 424.4 1410.0 424.3 1412.0 424.2C1414.0 424.1 1416.0 424.0 1418.0 423.9C1420.0 423.7 1422.0 423.5 1424.0 423.2C1426.0 422.8 1428.0 421.8 1430.0 420.9C1432.0 420.0 1434.0 418.7 1436.0 417.5C1438.0 416.3 1440.0 415.0 1442.0 413.6" stroke="#808080" stroke-width="2.7"/><path d="M236.5 386.0C247.7 385.4 258.8 384.7 270.0 384.0C281.7 383.2 293.3 382.3 305.0 381.1C316.7 380.0 328.3 378.6 340.0 376.9C350.0 375.4 360.0 373.5 370.0 371.2C378.3 369.2 386.7 366.6 395.0 363.3C401.7 360.7 408.3 357.3 415.0 352.8C420.0 349.5 425.0 345.2 430.0 339.7C433.3 336.0 436.7 331.4 440.0 325.7C442.7 321.1 445.3 315.4 448.0 308.5C449.8 303.7 451.7 297.8 453.5 291.0C454.5 287.4 455.5 283.1 456.5 278.3C458.1 270.7 459.7 251.4 461.2 251.4C462.0 251.4 462.8 263.0 463.5 270.0C464.1 275.3 464.6 280.9 465.2 288.1C466.1 299.1 466.9 315.2 467.8 330.0C468.5 342.6 469.3 355.1 470.0 370.0C471.6 402.5 473.2 446.3 474.8 485.0C476.4 522.9 477.9 572.7 479.5 600.0C480.2 612.2 480.9 622.2 481.6 630.0C482.8 643.4 484.0 651.4 485.2 662.0C486.4 672.4 487.5 683.2 488.7 693.0C489.8 702.5 491.0 720.2 492.1 720.2C493.0 720.2 493.9 705.8 494.8 695.0C495.7 684.2 496.6 666.4 497.5 650.0C498.3 634.8 499.2 622.6 500.0 600.0C500.9 574.7 501.9 516.6 502.8 480.0C503.5 451.2 504.3 423.4 505.0 400.0C505.7 377.6 506.4 359.3 507.1 340.0C508.2 308.8 509.4 269.3 510.5 250.0C511.5 233.0 512.5 218.9 513.5 212.0C514.3 206.5 515.1 200.3 515.9 200.3C516.9 200.3 518.0 211.3 519.0 220.0C520.5 232.6 522.0 260.0 523.5 280.0C525.0 300.0 526.5 322.7 528.0 340.0C530.0 363.0 532.0 383.9 534.0 400.0C534.7 405.4 535.3 410.5 536.0 414.2C538.0 425.3 540.0 433.9 542.0 439.7C544.0 445.6 546.0 453.1 548.0 453.1C550.0 453.1 552.0 450.8 554.0 448.0C556.0 445.1 558.0 431.9 560.0 422.6C562.0 413.3 564.0 400.1 566.0 391.8C568.0 383.5 570.0 370.9 572.0 370.9C574.0 370.9 576.0 371.2 578.0 371.7C580.0 372.2 582.0 380.0 584.0 384.1C586.0 388.3 588.0 395.6 590.0 396.4C592.0 397.2 594.0 397.7 596.0 397.7C598.0 397.7 600.0 394.4 602.0 394.4C604.0 394.4 606.0 403.5 608.0 410.3C610.0 417.1 612.0 429.5 614.0 438.7C616.0 448.0 618.0 460.3 620.0 465.7C622.0 471.1 624.0 477.2 626.0 477.2C628.0 477.2 630.0 471.0 632.0 465.8C634.0 460.5 636.0 449.3 638.0 440.2C640.0 431.1 642.0 419.6 644.0 411.0C646.0 402.5 648.0 390.9 650.0 388.3C652.0 385.7 654.0 383.6 656.0 383.6C658.0 383.6 660.0 384.6 662.0 385.3C664.0 386.1 666.0 386.9 668.0 388.4C670.0 390.0 672.0 393.3 674.0 397.3C676.0 401.3 678.0 409.3 680.0 415.7C682.0 422.1 684.0 430.3 686.0 435.8C688.0 441.4 690.0 450.0 692.0 450.0C694.0 450.0 696.0 449.7 698.0 449.2C700.0 448.6 702.0 435.3 704.0 428.5C706.0 421.7 708.0 411.5 710.0 408.4C712.0 405.3 714.0 403.5 716.0 402.4C718.0 401.2 720.0 400.8 722.0 400.1C724.0 399.4 726.0 399.1 728.0 398.1C730.0 397.1 732.0 393.4 734.0 391.8C736.0 390.2 738.0 388.0 740.0 388.0C742.0 388.0 744.0 392.5 746.0 396.1C748.0 399.8 750.0 407.2 752.0 412.5C754.0 417.8 756.0 425.3 758.0 428.1C760.0 430.9 762.0 433.9 764.0 433.9C766.0 433.9 768.0 428.0 770.0 423.4C772.0 418.7 774.0 409.5 776.0 402.1C778.0 394.7 780.0 385.3 782.0 378.8C784.0 372.2 786.0 363.3 788.0 362.0C790.0 360.6 792.0 359.6 794.0 359.6C796.0 359.6 798.0 365.5 800.0 369.7C802.0 373.9 804.0 380.5 806.0 386.2C808.0 391.8 810.0 398.6 812.0 403.7C814.0 408.7 816.0 415.1 818.0 417.0C820.0 419.0 822.0 420.8 824.0 420.8C826.0 420.8 828.0 414.4 830.0 409.5C832.0 404.6 834.0 395.6 836.0 388.1C838.0 380.7 840.0 371.4 842.0 364.7C844.0 358.1 846.0 349.3 848.0 347.3C850.0 345.3 852.0 343.7 854.0 343.7C856.0 343.7 858.0 350.0 860.0 354.8C862.0 359.7 864.0 367.9 866.0 375.5C868.0 383.0 870.0 392.2 872.0 400.4C874.0 408.6 876.0 417.6 878.0 424.5C880.0 431.4 882.0 439.3 884.0 442.7C886.0 446.1 888.0 449.8 890.0 449.8C892.0 449.8 894.0 446.4 896.0 443.3C898.0 440.3 900.0 433.5 902.0 427.5C904.0 421.6 906.0 414.0 908.0 407.3C910.0 400.7 912.0 393.1 914.0 387.6C916.0 382.0 918.0 375.3 920.0 373.2C922.0 371.2 924.0 369.3 926.0 369.3C928.0 369.3 930.0 376.5 932.0 382.2C934.0 388.0 936.0 398.7 938.0 408.1C940.0 417.4 942.0 429.1 944.0 439.0C946.0 448.8 948.0 460.0 950.0 467.2C952.0 474.5 954.0 484.7 956.0 485.0C958.0 485.3 960.0 485.4 962.0 485.4C964.0 485.4 966.0 477.1 968.0 471.3C970.0 465.5 972.0 456.4 974.0 448.6C976.0 440.8 978.0 431.0 980.0 424.6C982.0 418.2 984.0 410.3 986.0 408.6C988.0 406.9 990.0 405.6 992.0 405.6C994.0 405.6 996.0 411.0 998.0 414.3C1000.0 417.6 1002.0 422.6 1004.0 425.6C1006.0 428.6 1008.0 431.7 1010.0 433.0C1012.0 434.4 1014.0 435.1 1016.0 435.7C1018.0 436.3 1020.0 436.6 1022.0 437.1C1024.0 437.7 1026.0 438.9 1028.0 438.9C1030.0 438.9 1032.0 438.6 1034.0 438.2C1036.0 437.7 1038.0 434.4 1040.0 431.9C1042.0 429.5 1044.0 425.9 1046.0 423.0C1048.0 420.2 1050.0 417.7 1052.0 414.7C1054.0 411.8 1056.0 408.3 1058.0 405.0C1060.0 401.8 1062.0 397.5 1064.0 395.2C1066.0 392.9 1068.0 389.9 1070.0 389.8C1072.0 389.7 1074.0 389.7 1076.0 389.7C1078.0 389.7 1080.0 389.7 1082.0 389.7C1084.0 389.7 1086.0 389.5 1088.0 389.2C1090.0 389.0 1092.0 386.3 1094.0 384.4C1096.0 382.4 1098.0 379.8 1100.0 376.8C1102.0 373.8 1104.0 370.1 1106.0 365.7C1108.0 361.2 1110.0 354.1 1112.0 348.7C1114.0 343.4 1116.0 336.4 1118.0 333.5C1120.0 330.7 1122.0 327.7 1124.0 327.7C1126.0 327.7 1128.0 329.5 1130.0 331.0C1132.0 332.6 1134.0 335.7 1136.0 338.5C1138.0 341.3 1140.0 344.9 1142.0 348.0C1144.0 351.1 1146.0 354.6 1148.0 357.3C1150.0 359.9 1152.0 363.0 1154.0 364.2C1156.0 365.3 1158.0 366.5 1160.0 366.5C1162.0 366.5 1164.0 365.0 1166.0 363.8C1168.0 362.6 1170.0 360.2 1172.0 358.4C1174.0 356.5 1176.0 354.1 1178.0 352.6C1180.0 351.2 1182.0 349.1 1184.0 349.1C1186.0 349.1 1188.0 349.6 1190.0 350.2C1192.0 350.8 1194.0 353.7 1196.0 355.9C1198.0 358.0 1200.0 361.1 1202.0 363.4C1204.0 365.7 1206.0 368.5 1208.0 369.7C1210.0 370.9 1212.0 371.8 1214.0 372.3C1216.0 372.8 1218.0 372.9 1220.0 373.2C1222.0 373.6 1224.0 373.9 1226.0 374.3C1228.0 374.7 1230.0 375.1 1232.0 375.5C1234.0 376.0 1236.0 376.4 1238.0 376.9C1240.0 377.4 1242.0 378.0 1244.0 378.6C1246.0 379.3 1248.0 379.8 1250.0 380.8C1252.0 381.8 1254.0 383.7 1256.0 385.6C1258.0 387.5 1260.0 390.6 1262.0 392.5C1264.0 394.4 1266.0 396.4 1268.0 397.2C1270.0 398.1 1272.0 398.5 1274.0 399.0C1276.0 399.4 1278.0 400.1 1280.0 400.1C1282.0 400.1 1284.0 400.0 1286.0 399.8C1288.0 399.7 1290.0 398.1 1292.0 397.9C1294.0 397.7 1296.0 397.6 1298.0 397.6C1300.0 397.6 1302.0 399.7 1304.0 401.4C1306.0 403.1 1308.0 406.1 1310.0 408.5C1312.0 410.9 1314.0 414.1 1316.0 416.1C1318.0 418.0 1320.0 420.5 1322.0 421.0C1324.0 421.4 1326.0 421.8 1328.0 421.8C1330.0 421.8 1332.0 420.5 1334.0 419.4C1336.0 418.3 1338.0 416.4 1340.0 414.5C1342.0 412.5 1344.0 408.8 1346.0 407.0C1348.0 405.2 1350.0 403.9 1352.0 402.6C1354.0 401.4 1356.0 399.8 1358.0 399.2C1360.0 398.6 1362.0 397.9 1364.0 397.9C1366.0 397.9 1368.0 398.5 1370.0 399.0C1372.0 399.5 1374.0 400.6 1376.0 401.3C1378.0 402.0 1380.0 403.1 1382.0 403.4C1384.0 403.6 1386.0 403.9 1388.0 403.9C1390.0 403.9 1392.0 402.1 1394.0 400.9C1396.0 399.7 1398.0 397.5 1400.0 396.0C1402.0 394.5 1404.0 393.0 1406.0 391.8C1408.0 390.5 1410.0 389.3 1412.0 388.3C1414.0 387.3 1416.0 385.6 1418.0 385.6C1420.0 385.6 1422.0 385.7 1424.0 385.9C1426.0 386.2 1428.0 388.3 1430.0 389.5C1432.0 390.7 1434.0 392.1 1436.0 393.4C1438.0 394.6 1440.0 395.9 1442.0 397.2" stroke="#808080" stroke-width="2.7"/><path d="M236.5 384.5C247.7 383.9 258.8 383.1 270.0 382.3C281.7 381.4 293.3 380.3 305.0 379.0C316.7 377.8 328.3 376.2 340.0 374.2C350.0 372.5 360.0 370.4 370.0 367.7C378.3 365.5 386.7 362.6 395.0 358.9C401.7 355.9 408.3 352.0 415.0 347.0C420.0 343.2 425.0 338.3 430.0 332.1C433.3 327.9 436.7 322.7 440.0 316.2C442.7 311.0 445.3 304.6 448.0 296.7C449.8 291.4 451.7 284.8 453.5 277.0C455.0 270.8 456.4 261.9 457.9 254.7C459.2 248.3 460.5 236.0 461.8 236.0C462.8 236.0 463.8 251.2 464.8 262.0C465.8 272.5 466.7 285.9 467.7 303.8C468.6 319.8 469.4 349.1 470.3 370.0C472.1 412.6 473.8 450.0 475.6 490.0C477.4 530.0 479.1 573.0 480.9 610.0C482.4 642.1 484.0 666.2 485.5 700.0C486.8 729.4 488.2 781.8 489.5 800.0C490.7 815.9 491.8 833.2 493.0 833.2C494.5 833.2 496.0 810.5 497.5 790.0C498.8 772.2 500.1 741.9 501.4 700.0C502.1 677.5 502.8 638.5 503.5 600.0C504.2 563.3 504.8 519.9 505.5 470.0C506.0 432.6 506.5 368.8 507.0 340.0C508.2 272.8 509.3 234.2 510.5 200.0C511.5 170.7 512.5 141.1 513.5 130.0C514.5 119.3 515.4 108.8 516.4 108.8C517.4 108.8 518.5 119.8 519.5 130.0C521.0 144.8 522.5 192.9 524.0 220.0C526.5 264.6 528.9 305.1 531.4 340.0C532.9 361.7 534.5 382.3 536.0 398.7C538.0 420.1 540.0 438.8 542.0 453.2C544.0 467.6 546.0 489.1 548.0 489.1C550.0 489.1 552.0 482.1 554.0 475.8C556.0 469.5 558.0 455.0 560.0 443.1C562.0 431.2 564.0 415.8 566.0 404.0C568.0 392.1 570.0 377.6 572.0 371.5C574.0 365.3 576.0 358.6 578.0 358.6C580.0 358.6 582.0 360.7 584.0 362.5C586.0 364.4 588.0 368.2 590.0 371.5C592.0 374.8 594.0 378.6 596.0 382.3C598.0 386.0 600.0 389.2 602.0 393.7C604.0 398.1 606.0 403.9 608.0 409.5C610.0 415.2 612.0 421.8 614.0 427.9C616.0 433.9 618.0 440.4 620.0 445.8C622.0 451.2 624.0 456.9 626.0 460.6C628.0 464.3 630.0 469.4 632.0 469.4C634.0 469.4 636.0 468.5 638.0 467.2C640.0 465.8 642.0 452.7 644.0 443.2C646.0 433.7 648.0 418.0 650.0 408.0C652.0 397.9 654.0 383.1 656.0 381.7C658.0 380.2 660.0 379.3 662.0 379.3C664.0 379.3 666.0 380.9 668.0 382.0C670.0 383.1 672.0 384.8 674.0 386.5C676.0 388.1 678.0 389.7 680.0 391.9C682.0 394.2 684.0 397.0 686.0 400.7C688.0 404.5 690.0 411.3 692.0 416.6C694.0 422.0 696.0 428.9 698.0 432.6C700.0 436.3 702.0 441.1 704.0 441.1C706.0 441.1 708.0 438.5 710.0 435.9C712.0 433.4 714.0 426.2 716.0 421.3C718.0 416.4 720.0 409.5 722.0 406.5C724.0 403.5 726.0 401.2 728.0 400.0C730.0 398.7 732.0 397.9 734.0 397.2C736.0 396.6 738.0 395.6 740.0 395.6C742.0 395.6 744.0 395.9 746.0 396.4C748.0 396.9 750.0 400.4 752.0 403.1C754.0 405.7 756.0 409.7 758.0 413.0C760.0 416.2 762.0 420.2 764.0 422.5C766.0 424.9 768.0 428.1 770.0 428.1C772.0 428.1 774.0 426.5 776.0 424.6C778.0 422.7 780.0 414.9 782.0 408.9C784.0 402.9 786.0 394.6 788.0 388.0C790.0 381.4 792.0 373.4 794.0 369.4C796.0 365.4 798.0 360.5 800.0 360.5C802.0 360.5 804.0 362.0 806.0 363.6C808.0 365.1 810.0 369.2 812.0 372.6C814.0 376.1 816.0 380.7 818.0 384.7C820.0 388.7 822.0 393.4 824.0 396.9C826.0 400.4 828.0 404.5 830.0 406.3C832.0 408.1 834.0 410.0 836.0 410.0C838.0 410.0 840.0 406.9 842.0 404.2C844.0 401.5 846.0 395.6 848.0 390.8C850.0 386.0 852.0 379.9 854.0 375.3C856.0 370.8 858.0 365.0 860.0 363.2C862.0 361.5 864.0 359.9 866.0 359.9C868.0 359.9 870.0 362.3 872.0 364.3C874.0 366.3 876.0 370.0 878.0 373.4C880.0 376.9 882.0 381.2 884.0 385.2C886.0 389.3 888.0 393.8 890.0 397.9C892.0 401.9 894.0 406.1 896.0 409.3C898.0 412.6 900.0 416.1 902.0 417.8C904.0 419.4 906.0 421.3 908.0 421.3C910.0 421.3 912.0 418.6 914.0 416.2C916.0 413.7 918.0 408.0 920.0 403.6C922.0 399.3 924.0 393.5 926.0 390.1C928.0 386.8 930.0 382.2 932.0 382.2C934.0 382.2 936.0 383.3 938.0 384.6C940.0 385.9 942.0 390.9 944.0 395.1C946.0 399.2 948.0 405.1 950.0 410.7C952.0 416.3 954.0 422.7 956.0 428.6C958.0 434.5 960.0 440.8 962.0 446.0C964.0 451.1 966.0 456.6 968.0 459.9C970.0 463.2 972.0 467.5 974.0 467.5C976.0 467.5 978.0 466.9 980.0 466.0C982.0 465.1 984.0 459.7 986.0 455.6C988.0 451.5 990.0 445.7 992.0 440.9C994.0 436.0 996.0 430.3 998.0 426.5C1000.0 422.7 1002.0 417.2 1004.0 417.1C1006.0 417.1 1008.0 417.1 1010.0 417.1C1012.0 417.1 1014.0 422.0 1016.0 425.2C1018.0 428.3 1020.0 432.8 1022.0 436.5C1024.0 440.2 1026.0 443.3 1028.0 447.4C1030.0 451.4 1032.0 457.0 1034.0 461.1C1036.0 465.1 1038.0 471.4 1040.0 471.9C1042.0 472.5 1044.0 472.9 1046.0 472.9C1048.0 472.9 1050.0 468.8 1052.0 465.9C1054.0 463.0 1056.0 458.6 1058.0 454.7C1060.0 450.8 1062.0 446.1 1064.0 442.4C1066.0 438.6 1068.0 434.3 1070.0 431.9C1072.0 429.4 1074.0 426.4 1076.0 426.3C1078.0 426.1 1080.0 426.0 1082.0 426.0C1084.0 426.0 1086.0 426.0 1088.0 426.0C1090.0 426.0 1092.0 426.0 1094.0 426.0C1096.0 426.0 1098.0 426.0 1100.0 426.0C1102.0 426.0 1104.0 424.1 1106.0 422.5C1108.0 420.8 1110.0 417.3 1112.0 414.4C1114.0 411.4 1116.0 408.4 1118.0 404.6C1120.0 400.8 1122.0 396.0 1124.0 390.9C1126.0 385.9 1128.0 378.3 1130.0 373.9C1132.0 369.5 1134.0 364.6 1136.0 363.0C1138.0 361.5 1140.0 360.0 1142.0 360.0C1144.0 360.0 1146.0 360.3 1148.0 360.6C1150.0 360.9 1152.0 362.5 1154.0 363.1C1156.0 363.7 1158.0 364.0 1160.0 364.4C1162.0 364.8 1164.0 365.0 1166.0 365.4C1168.0 365.9 1170.0 366.6 1172.0 367.4C1174.0 368.2 1176.0 369.0 1178.0 370.2C1180.0 371.3 1182.0 372.7 1184.0 374.5C1186.0 376.4 1188.0 380.3 1190.0 382.4C1192.0 384.5 1194.0 386.0 1196.0 387.5C1198.0 389.0 1200.0 390.3 1202.0 391.4C1204.0 392.4 1206.0 393.8 1208.0 393.9C1210.0 393.9 1212.0 394.0 1214.0 394.0C1216.0 394.0 1218.0 392.5 1220.0 391.7C1222.0 390.9 1224.0 389.6 1226.0 389.0C1228.0 388.4 1230.0 387.8 1232.0 387.8C1234.0 387.8 1236.0 389.1 1238.0 390.3C1240.0 391.4 1242.0 393.7 1244.0 395.6C1246.0 397.4 1248.0 399.6 1250.0 401.3C1252.0 403.0 1254.0 404.4 1256.0 406.0C1258.0 407.5 1260.0 409.9 1262.0 410.7C1264.0 411.6 1266.0 412.5 1268.0 412.5C1270.0 412.5 1272.0 412.1 1274.0 411.9C1276.0 411.8 1278.0 411.7 1280.0 411.5C1282.0 411.3 1284.0 411.0 1286.0 410.6C1288.0 410.2 1290.0 409.5 1292.0 408.9C1294.0 408.2 1296.0 407.3 1298.0 406.6C1300.0 405.8 1302.0 404.8 1304.0 404.4C1306.0 404.0 1308.0 403.5 1310.0 403.5C1312.0 403.5 1314.0 404.1 1316.0 404.7C1318.0 405.2 1320.0 406.5 1322.0 407.6C1324.0 408.7 1326.0 409.7 1328.0 411.3C1330.0 412.9 1332.0 415.6 1334.0 417.6C1336.0 419.6 1338.0 422.0 1340.0 423.5C1342.0 424.9 1344.0 425.8 1346.0 426.8C1348.0 427.7 1350.0 428.5 1352.0 429.3C1354.0 430.1 1356.0 430.8 1358.0 431.5C1360.0 432.3 1362.0 432.9 1364.0 433.7C1366.0 434.5 1368.0 435.3 1370.0 436.4C1372.0 437.4 1374.0 438.8 1376.0 440.0C1378.0 441.2 1380.0 442.7 1382.0 443.7C1384.0 444.6 1386.0 446.0 1388.0 446.0C1390.0 446.0 1392.0 445.8 1394.0 445.6C1396.0 445.3 1398.0 443.6 1400.0 442.3C1402.0 441.1 1404.0 439.9 1406.0 438.1C1408.0 436.3 1410.0 433.7 1412.0 431.1C1414.0 428.5 1416.0 425.0 1418.0 422.6C1420.0 420.2 1422.0 417.6 1424.0 416.4C1426.0 415.1 1428.0 414.5 1430.0 413.7C1432.0 413.0 1434.0 412.2 1436.0 411.8C1438.0 411.3 1440.0 410.9 1442.0 410.7" stroke="#808080" stroke-width="2.7"/><path d="M236.5 385.0C247.7 384.4 258.8 383.6 270.0 382.8C281.7 381.9 293.3 380.9 305.0 379.6C316.7 378.3 328.3 376.8 340.0 374.8C350.0 373.2 360.0 371.1 370.0 368.4C378.3 366.1 386.7 363.3 395.0 359.6C401.7 356.7 408.3 352.8 415.0 347.9C420.0 344.1 425.0 339.3 430.0 333.1C433.3 329.0 436.7 323.8 440.0 317.4C442.7 312.3 445.3 305.9 448.0 298.2C449.8 292.8 451.7 286.3 453.5 278.6C455.0 272.5 456.4 263.7 457.9 256.5C459.1 250.5 460.4 238.9 461.6 238.9C462.6 238.9 463.6 251.9 464.6 262.0C465.6 271.7 466.5 285.6 467.5 303.8C468.3 319.5 469.2 349.3 470.0 370.0C471.7 413.1 473.5 450.0 475.2 490.0C476.9 530.0 478.7 572.0 480.4 610.0C481.8 641.4 483.3 666.5 484.7 700.0C486.0 729.6 487.2 782.8 488.5 800.0C489.4 811.8 490.2 824.8 491.1 824.8C492.6 824.8 494.1 814.6 495.6 800.0C496.7 789.6 497.7 738.4 498.8 700.0C499.6 671.2 500.4 640.9 501.2 600.0C501.9 565.9 502.5 516.9 503.2 470.0C503.8 430.1 504.3 373.2 504.9 340.0C505.8 289.2 506.6 247.1 507.5 220.0C508.5 188.8 509.5 165.1 510.5 150.0C511.4 135.9 512.4 118.7 513.3 118.7C514.4 118.7 515.4 129.5 516.5 140.0C517.8 153.1 519.2 191.8 520.5 220.0C521.8 248.2 523.2 286.1 524.5 310.0C525.5 328.5 526.6 342.8 527.6 356.8C529.1 376.6 530.5 395.5 532.0 410.0C533.3 423.2 534.7 435.0 536.0 443.7C538.0 456.7 540.0 474.5 542.0 474.5C544.0 474.5 546.0 473.1 548.0 471.2C550.0 469.2 552.0 458.6 554.0 449.0C556.0 439.4 558.0 421.0 560.0 407.6C562.0 394.1 564.0 368.2 566.0 368.2C568.0 368.2 570.0 368.3 572.0 368.4C574.0 368.6 576.0 380.1 578.0 384.2C580.0 388.3 582.0 394.3 584.0 394.3C586.0 394.3 588.0 390.4 590.0 388.7C592.0 386.9 594.0 384.0 596.0 384.0C598.0 384.0 600.0 394.3 602.0 402.2C604.0 410.0 606.0 424.9 608.0 435.5C610.0 446.0 612.0 461.2 614.0 465.4C616.0 469.7 618.0 473.5 620.0 473.5C622.0 473.5 624.0 463.1 626.0 455.6C628.0 448.1 630.0 435.1 632.0 425.3C634.0 415.5 636.0 402.5 638.0 397.0C640.0 391.5 642.0 385.3 644.0 385.3C646.0 385.3 648.0 386.8 650.0 388.1C652.0 389.4 654.0 391.9 656.0 394.1C658.0 396.3 660.0 398.5 662.0 401.7C664.0 404.9 666.0 410.1 668.0 414.7C670.0 419.2 672.0 425.0 674.0 429.1C676.0 433.2 678.0 439.1 680.0 439.6C682.0 440.1 684.0 440.4 686.0 440.4C688.0 440.4 690.0 431.8 692.0 426.4C694.0 420.9 696.0 412.0 698.0 406.5C700.0 400.9 702.0 392.1 704.0 392.1C706.0 392.1 708.0 392.1 710.0 392.3C712.0 392.5 714.0 398.3 716.0 401.0C718.0 403.7 720.0 406.7 722.0 408.7C724.0 410.7 726.0 411.6 728.0 413.6C730.0 415.5 732.0 417.9 734.0 420.7C736.0 423.4 738.0 428.4 740.0 430.4C742.0 432.4 744.0 434.7 746.0 434.7C748.0 434.7 750.0 429.5 752.0 425.2C754.0 420.9 756.0 412.2 758.0 405.0C760.0 397.9 762.0 388.7 764.0 382.0C766.0 375.2 768.0 366.7 770.0 363.8C772.0 361.0 774.0 358.2 776.0 358.2C778.0 358.2 780.0 363.2 782.0 367.1C784.0 370.9 786.0 378.2 788.0 384.2C790.0 390.3 792.0 397.9 794.0 403.7C796.0 409.4 798.0 416.5 800.0 419.2C802.0 421.8 804.0 424.6 806.0 424.6C808.0 424.6 810.0 420.0 812.0 416.3C814.0 412.5 816.0 405.1 818.0 398.8C820.0 392.4 822.0 384.5 824.0 378.1C826.0 371.8 828.0 364.3 830.0 360.5C832.0 356.6 834.0 352.0 836.0 352.0C838.0 352.0 840.0 354.4 842.0 356.8C844.0 359.2 846.0 365.7 848.0 370.7C850.0 375.7 852.0 381.9 854.0 387.2C856.0 392.5 858.0 397.2 860.0 402.5C862.0 407.8 864.0 417.7 866.0 418.8C868.0 419.8 870.0 420.5 872.0 420.5C874.0 420.5 876.0 414.5 878.0 410.4C880.0 406.3 882.0 400.1 884.0 394.9C886.0 389.7 888.0 383.5 890.0 379.2C892.0 374.9 894.0 368.9 896.0 368.3C898.0 367.7 900.0 367.4 902.0 367.4C904.0 367.4 906.0 373.3 908.0 377.6C910.0 381.9 912.0 388.9 914.0 395.2C916.0 401.6 918.0 409.7 920.0 416.0C922.0 422.3 924.0 430.5 926.0 433.3C928.0 436.1 930.0 438.9 932.0 438.9C934.0 438.9 936.0 435.0 938.0 432.6C940.0 430.2 942.0 424.7 944.0 424.0C946.0 423.2 948.0 422.7 950.0 422.7C952.0 422.7 954.0 427.4 956.0 430.5C958.0 433.5 960.0 440.0 962.0 441.5C964.0 442.9 966.0 444.1 968.0 444.1C970.0 444.1 972.0 438.2 974.0 433.5C976.0 428.8 978.0 420.1 980.0 412.9C982.0 405.7 984.0 397.0 986.0 390.0C988.0 383.0 990.0 375.1 992.0 370.7C994.0 366.4 996.0 360.9 998.0 360.9C1000.0 360.9 1002.0 362.7 1004.0 364.7C1006.0 366.6 1008.0 372.9 1010.0 377.7C1012.0 382.6 1014.0 389.1 1016.0 393.9C1018.0 398.7 1020.0 405.0 1022.0 407.0C1024.0 408.9 1026.0 410.7 1028.0 410.7C1030.0 410.7 1032.0 406.6 1034.0 404.1C1036.0 401.6 1038.0 398.5 1040.0 395.1C1042.0 391.8 1044.0 387.4 1046.0 383.7C1048.0 380.1 1050.0 376.2 1052.0 373.3C1054.0 370.4 1056.0 368.1 1058.0 365.8C1060.0 363.5 1062.0 361.1 1064.0 359.5C1066.0 357.9 1068.0 356.5 1070.0 355.6C1072.0 354.7 1074.0 354.3 1076.0 353.6C1078.0 352.8 1080.0 352.1 1082.0 350.9C1084.0 349.8 1086.0 347.6 1088.0 345.7C1090.0 343.9 1092.0 341.6 1094.0 339.8C1096.0 338.0 1098.0 336.5 1100.0 334.8C1102.0 333.1 1104.0 331.1 1106.0 329.7C1108.0 328.3 1110.0 326.3 1112.0 326.0C1114.0 325.7 1116.0 325.4 1118.0 325.4C1120.0 325.4 1122.0 327.2 1124.0 328.4C1126.0 329.6 1128.0 331.2 1130.0 333.0C1132.0 334.8 1134.0 337.2 1136.0 339.8C1138.0 342.4 1140.0 346.5 1142.0 349.0C1144.0 351.5 1146.0 355.3 1148.0 355.3C1150.0 355.3 1152.0 354.9 1154.0 354.3C1156.0 353.7 1158.0 350.5 1160.0 348.1C1162.0 345.8 1164.0 342.5 1166.0 340.0C1168.0 337.4 1170.0 334.2 1172.0 332.7C1174.0 331.2 1176.0 329.3 1178.0 329.3C1180.0 329.3 1182.0 330.9 1184.0 332.2C1186.0 333.5 1188.0 336.3 1190.0 338.6C1192.0 341.0 1194.0 343.4 1196.0 346.5C1198.0 349.6 1200.0 354.1 1202.0 357.8C1204.0 361.5 1206.0 365.9 1208.0 368.8C1210.0 371.7 1212.0 375.7 1214.0 375.8C1216.0 376.0 1218.0 376.0 1220.0 376.0C1222.0 376.0 1224.0 374.0 1226.0 372.8C1228.0 371.5 1230.0 369.7 1232.0 368.3C1234.0 366.9 1236.0 365.1 1238.0 364.3C1240.0 363.6 1242.0 362.8 1244.0 362.8C1246.0 362.8 1248.0 364.7 1250.0 366.4C1252.0 368.0 1254.0 371.4 1256.0 374.2C1258.0 377.1 1260.0 380.7 1262.0 383.6C1264.0 386.4 1266.0 390.0 1268.0 391.5C1270.0 392.9 1272.0 394.5 1274.0 394.5C1276.0 394.5 1278.0 392.8 1280.0 391.4C1282.0 390.1 1284.0 387.2 1286.0 385.5C1288.0 383.9 1290.0 381.4 1292.0 381.2C1294.0 381.0 1296.0 380.8 1298.0 380.8C1300.0 380.8 1302.0 382.7 1304.0 383.9C1306.0 385.1 1308.0 387.0 1310.0 388.1C1312.0 389.2 1314.0 390.3 1316.0 390.8C1318.0 391.3 1320.0 391.6 1322.0 391.9C1324.0 392.3 1326.0 392.5 1328.0 392.9C1330.0 393.2 1332.0 393.6 1334.0 394.0C1336.0 394.4 1338.0 394.8 1340.0 395.3C1342.0 395.8 1344.0 396.3 1346.0 396.9C1348.0 397.4 1350.0 398.1 1352.0 398.9C1354.0 399.8 1356.0 401.0 1358.0 402.0C1360.0 403.0 1362.0 404.2 1364.0 405.1C1366.0 406.1 1368.0 406.8 1370.0 407.6C1372.0 408.4 1374.0 409.4 1376.0 409.9C1378.0 410.3 1380.0 410.9 1382.0 410.9C1384.0 410.9 1386.0 409.4 1388.0 408.4C1390.0 407.3 1392.0 405.3 1394.0 404.0C1396.0 402.7 1398.0 401.6 1400.0 400.5C1402.0 399.3 1404.0 398.2 1406.0 397.0C1408.0 395.8 1410.0 394.7 1412.0 393.5C1414.0 392.4 1416.0 391.2 1418.0 390.1C1420.0 388.9 1422.0 387.7 1424.0 386.6C1426.0 385.5 1428.0 384.3 1430.0 383.2C1432.0 382.0 1434.0 380.9 1436.0 379.7C1438.0 378.6 1440.0 377.4 1442.0 376.3" stroke="#808080" stroke-width="2.7"/><path d="M236.5 384.6C247.7 384.0 258.8 383.2 270.0 382.3C281.7 381.5 293.3 380.4 305.0 379.1C316.7 377.9 328.3 376.3 340.0 374.4C350.0 372.7 360.0 370.6 370.0 367.9C378.3 365.6 386.7 362.8 395.0 359.1C401.7 356.1 408.3 352.2 415.0 347.3C420.0 343.5 425.0 338.6 430.0 332.4C433.3 328.3 436.7 323.1 440.0 316.6C442.7 311.5 445.3 305.1 448.0 297.3C449.8 291.9 451.7 285.4 453.5 277.6C455.0 271.5 456.4 263.2 457.9 255.4C459.1 249.2 460.2 236.0 461.4 236.0C462.4 236.0 463.4 251.2 464.4 262.0C465.4 272.5 466.3 285.6 467.3 303.8C468.1 319.5 469.0 349.3 469.8 370.0C471.5 413.1 473.3 450.0 475.0 490.0C476.7 530.0 478.5 572.0 480.2 610.0C481.6 641.4 483.1 666.5 484.5 700.0C485.8 729.6 487.0 784.3 488.3 800.0C489.2 810.8 490.0 822.0 490.9 822.0C492.4 822.0 493.9 813.2 495.4 800.0C496.5 790.6 497.5 738.4 498.6 700.0C499.4 671.2 500.2 640.9 501.0 600.0C501.7 565.9 502.3 518.3 503.0 470.0C503.5 431.3 504.1 372.1 504.6 340.0C505.5 287.8 506.3 250.7 507.2 220.0C508.1 187.0 509.1 154.1 510.0 140.0C510.8 127.9 511.6 115.0 512.4 115.0C513.4 115.0 514.5 125.2 515.5 135.0C516.9 148.6 518.4 189.8 519.8 220.0C521.1 248.1 522.5 286.5 523.8 310.0C524.9 328.8 525.9 342.8 527.0 356.8C528.5 376.5 530.0 395.3 531.5 410.0C533.0 424.7 534.5 438.6 536.0 447.5C538.0 459.4 540.0 474.6 542.0 474.6C544.0 474.6 546.0 470.0 548.0 465.6C550.0 461.2 552.0 451.6 554.0 440.9C556.0 430.2 558.0 407.1 560.0 395.1C562.0 383.2 564.0 365.6 566.0 365.6C568.0 365.6 570.0 372.1 572.0 376.5C574.0 381.0 576.0 393.5 578.0 393.5C580.0 393.5 582.0 393.0 584.0 392.4C586.0 391.7 588.0 385.4 590.0 385.4C592.0 385.4 594.0 391.4 596.0 397.0C598.0 402.6 600.0 417.6 602.0 427.9C604.0 438.2 606.0 453.2 608.0 458.9C610.0 464.6 612.0 470.7 614.0 470.7C616.0 470.7 618.0 462.2 620.0 455.5C622.0 448.9 624.0 436.1 626.0 426.7C628.0 417.2 630.0 404.5 632.0 399.0C634.0 393.5 636.0 387.2 638.0 387.2C640.0 387.2 642.0 388.5 644.0 389.6C646.0 390.8 648.0 393.1 650.0 395.2C652.0 397.4 654.0 399.6 656.0 402.7C658.0 405.9 660.0 411.1 662.0 415.5C664.0 419.9 666.0 425.6 668.0 429.1C670.0 432.7 672.0 437.8 674.0 437.8C676.0 437.8 678.0 436.3 680.0 434.5C682.0 432.7 684.0 423.4 686.0 417.7C688.0 411.9 690.0 402.8 692.0 400.1C694.0 397.4 696.0 394.9 698.0 394.9C700.0 394.9 702.0 396.6 704.0 397.7C706.0 398.9 708.0 400.2 710.0 402.1C712.0 404.0 714.0 407.1 716.0 410.1C718.0 413.0 720.0 417.0 722.0 420.0C724.0 423.1 726.0 426.8 728.0 428.5C730.0 430.2 732.0 432.1 734.0 432.1C736.0 432.1 738.0 427.4 740.0 423.2C742.0 419.1 744.0 409.9 746.0 402.7C748.0 395.5 750.0 386.1 752.0 379.7C754.0 373.3 756.0 364.1 758.0 363.3C760.0 362.5 762.0 362.0 764.0 362.0C766.0 362.0 768.0 369.6 770.0 374.7C772.0 379.9 774.0 387.7 776.0 394.2C778.0 400.6 780.0 408.4 782.0 413.2C784.0 418.0 786.0 424.7 788.0 424.7C790.0 424.7 792.0 423.8 794.0 422.4C796.0 421.1 798.0 413.6 800.0 408.1C802.0 402.6 804.0 394.7 806.0 388.3C808.0 382.0 810.0 374.3 812.0 369.8C814.0 365.3 816.0 359.2 818.0 359.2C820.0 359.2 822.0 360.5 824.0 362.0C826.0 363.6 828.0 370.2 830.0 375.4C832.0 380.5 834.0 387.6 836.0 393.5C838.0 399.4 840.0 406.3 842.0 410.7C844.0 415.0 846.0 421.2 848.0 421.2C850.0 421.2 852.0 420.6 854.0 419.8C856.0 419.0 858.0 412.6 860.0 407.9C862.0 403.3 864.0 396.7 866.0 391.3C868.0 385.8 870.0 379.3 872.0 375.4C874.0 371.5 876.0 366.0 878.0 366.0C880.0 366.0 882.0 366.9 884.0 368.2C886.0 369.4 888.0 375.8 890.0 380.8C892.0 385.9 894.0 393.0 896.0 399.5C898.0 406.0 900.0 413.5 902.0 419.7C904.0 425.9 906.0 432.7 908.0 436.8C910.0 440.9 912.0 446.3 914.0 446.3C916.0 446.3 918.0 446.0 920.0 445.5C922.0 445.0 924.0 441.6 926.0 439.2C928.0 436.7 930.0 433.3 932.0 430.5C934.0 427.7 936.0 424.3 938.0 422.4C940.0 420.5 942.0 417.8 944.0 417.8C946.0 417.8 948.0 418.2 950.0 418.6C952.0 419.0 954.0 420.9 956.0 422.4C958.0 424.0 960.0 426.2 962.0 428.3C964.0 430.4 966.0 432.8 968.0 435.1C970.0 437.4 972.0 439.8 974.0 441.9C976.0 443.9 978.0 446.1 980.0 447.5C982.0 449.0 984.0 450.8 986.0 451.0C988.0 451.3 990.0 451.5 992.0 451.5C994.0 451.5 996.0 450.2 998.0 449.5C1000.0 448.7 1002.0 447.4 1004.0 447.1C1006.0 446.7 1008.0 446.4 1010.0 446.4C1012.0 446.4 1014.0 448.0 1016.0 448.7C1018.0 449.4 1020.0 450.8 1022.0 450.8C1024.0 450.8 1026.0 449.3 1028.0 447.9C1030.0 446.5 1032.0 442.5 1034.0 439.4C1036.0 436.3 1038.0 432.4 1040.0 429.2C1042.0 425.9 1044.0 423.2 1046.0 419.7C1048.0 416.2 1050.0 411.5 1052.0 408.0C1054.0 404.5 1056.0 399.8 1058.0 398.4C1060.0 397.0 1062.0 395.7 1064.0 395.7C1066.0 395.7 1068.0 395.7 1070.0 395.7C1072.0 395.7 1074.0 395.7 1076.0 395.7C1078.0 395.7 1080.0 394.3 1082.0 393.0C1084.0 391.7 1086.0 388.2 1088.0 385.4C1090.0 382.5 1092.0 379.8 1094.0 375.6C1096.0 371.4 1098.0 364.3 1100.0 358.2C1102.0 352.2 1104.0 344.0 1106.0 339.2C1108.0 334.3 1110.0 327.5 1112.0 327.5C1114.0 327.5 1116.0 328.0 1118.0 328.6C1120.0 329.3 1122.0 333.2 1124.0 336.4C1126.0 339.6 1128.0 344.6 1130.0 349.1C1132.0 353.7 1134.0 359.0 1136.0 363.6C1138.0 368.1 1140.0 373.0 1142.0 376.5C1144.0 380.1 1146.0 383.8 1148.0 385.6C1150.0 387.5 1152.0 389.4 1154.0 389.7C1156.0 390.1 1158.0 390.4 1160.0 390.4C1162.0 390.4 1164.0 389.8 1166.0 389.5C1168.0 389.1 1170.0 388.4 1172.0 388.3C1174.0 388.2 1176.0 388.2 1178.0 388.2C1180.0 388.2 1182.0 389.6 1184.0 390.6C1186.0 391.6 1188.0 393.0 1190.0 394.6C1192.0 396.2 1194.0 398.7 1196.0 400.6C1198.0 402.5 1200.0 404.9 1202.0 406.1C1204.0 407.3 1206.0 408.8 1208.0 408.8C1210.0 408.8 1212.0 408.2 1214.0 407.7C1216.0 407.2 1218.0 406.0 1220.0 405.2C1222.0 404.3 1224.0 403.1 1226.0 402.6C1228.0 402.1 1230.0 401.6 1232.0 401.6C1234.0 401.6 1236.0 402.2 1238.0 402.6C1240.0 403.1 1242.0 404.1 1244.0 405.0C1246.0 405.8 1248.0 406.8 1250.0 407.8C1252.0 408.8 1254.0 409.8 1256.0 411.0C1258.0 412.2 1260.0 414.7 1262.0 415.4C1264.0 416.0 1266.0 416.7 1268.0 416.7C1270.0 416.7 1272.0 415.0 1274.0 413.7C1276.0 412.5 1278.0 410.7 1280.0 409.1C1282.0 407.5 1284.0 405.5 1286.0 403.9C1288.0 402.3 1290.0 400.7 1292.0 399.5C1294.0 398.3 1296.0 397.3 1298.0 396.4C1300.0 395.6 1302.0 394.9 1304.0 394.2C1306.0 393.6 1308.0 392.7 1310.0 392.7C1312.0 392.7 1314.0 393.1 1316.0 393.7C1318.0 394.2 1320.0 396.1 1322.0 397.6C1324.0 399.0 1326.0 400.5 1328.0 402.3C1330.0 404.1 1332.0 406.5 1334.0 408.7C1336.0 410.9 1338.0 414.0 1340.0 415.4C1342.0 416.8 1344.0 417.7 1346.0 418.4C1348.0 419.2 1350.0 420.1 1352.0 420.1C1354.0 420.2 1356.0 420.2 1358.0 420.2C1360.0 420.2 1362.0 419.0 1364.0 418.1C1366.0 417.3 1368.0 416.0 1370.0 415.1C1372.0 414.2 1374.0 412.9 1376.0 412.7C1378.0 412.4 1380.0 412.2 1382.0 412.2C1384.0 412.2 1386.0 412.5 1388.0 412.6C1390.0 412.8 1392.0 412.9 1394.0 413.2C1396.0 413.5 1398.0 414.0 1400.0 414.5C1402.0 414.9 1404.0 415.7 1406.0 415.9C1408.0 416.1 1410.0 416.3 1412.0 416.3C1414.0 416.3 1416.0 415.7 1418.0 415.2C1420.0 414.8 1422.0 414.0 1424.0 413.2C1426.0 412.5 1428.0 411.7 1430.0 410.9C1432.0 410.2 1434.0 409.4 1436.0 408.6C1438.0 407.7 1440.0 406.8 1442.0 405.8" stroke="#808080" stroke-width="2.7"/><path d="M236.5 386.0C247.7 385.4 258.8 384.7 270.0 384.0C281.7 383.2 293.3 382.3 305.0 381.1C316.7 380.0 328.3 378.6 340.0 376.9C350.0 375.4 360.0 373.5 370.0 371.2C378.3 369.2 386.7 366.6 395.0 363.3C401.7 360.7 408.3 357.3 415.0 352.8C420.0 349.5 425.0 345.2 430.0 339.7C433.3 336.0 436.7 331.4 440.0 325.7C442.7 321.1 445.3 315.4 448.0 308.5C449.8 303.7 451.7 297.8 453.5 291.0C454.5 287.4 455.5 283.1 456.5 278.3C458.1 270.7 459.7 251.4 461.2 251.4C462.0 251.4 462.8 263.0 463.5 270.0C464.1 275.3 464.6 280.9 465.2 288.1C466.1 299.1 466.9 315.2 467.8 330.0C468.5 342.6 469.3 355.1 470.0 370.0C471.6 402.5 473.2 446.3 474.8 485.0C476.4 522.9 477.9 572.7 479.5 600.0C480.2 612.2 480.9 622.2 481.6 630.0C482.8 643.4 484.0 651.4 485.2 662.0C486.4 672.4 487.5 683.2 488.7 693.0C489.8 702.5 491.0 720.2 492.1 720.2C493.0 720.2 493.9 705.8 494.8 695.0C495.7 684.2 496.6 666.4 497.5 650.0C498.3 634.8 499.2 622.6 500.0 600.0C500.9 574.7 501.9 516.6 502.8 480.0C503.5 451.2 504.3 423.4 505.0 400.0C505.7 377.6 506.4 359.3 507.1 340.0C508.2 308.8 509.4 269.3 510.5 250.0C511.5 233.0 512.5 218.9 513.5 212.0C514.3 206.5 515.1 200.3 515.9 200.3C516.9 200.3 518.0 211.3 519.0 220.0C520.5 232.6 522.0 260.0 523.5 280.0C525.0 300.0 526.5 322.7 528.0 340.0C530.0 363.0 532.0 383.9 534.0 400.0C534.7 405.4 535.3 410.5 536.0 414.2C538.0 425.1 540.0 433.4 542.0 439.2C544.0 444.9 546.0 452.4 548.0 452.4C550.0 452.4 552.0 450.9 554.0 448.8C556.0 446.7 558.0 434.1 560.0 425.4C562.0 416.6 564.0 404.0 566.0 395.5C568.0 387.0 570.0 374.6 572.0 373.2C574.0 371.7 576.0 370.7 578.0 370.7C580.0 370.7 582.0 377.7 584.0 381.5C586.0 385.4 588.0 392.0 590.0 394.2C592.0 396.4 594.0 398.7 596.0 398.7C598.0 398.7 600.0 394.1 602.0 394.1C604.0 394.1 606.0 398.8 608.0 403.2C610.0 407.6 612.0 419.0 614.0 427.6C616.0 436.1 618.0 447.7 620.0 454.7C622.0 461.8 624.0 472.2 626.0 472.2C628.0 472.2 630.0 471.0 632.0 469.4C634.0 467.7 636.0 457.3 638.0 449.7C640.0 442.1 642.0 431.7 644.0 422.8C646.0 413.9 648.0 401.9 650.0 396.3C652.0 390.7 654.0 384.0 656.0 384.0C658.0 384.0 660.0 384.5 662.0 385.0C664.0 385.5 666.0 386.5 668.0 387.6C670.0 388.8 672.0 390.4 674.0 393.1C676.0 395.8 678.0 402.9 680.0 408.8C682.0 414.6 684.0 422.7 686.0 428.6C688.0 434.5 690.0 442.5 692.0 444.7C694.0 446.9 696.0 448.8 698.0 448.8C700.0 448.8 702.0 438.2 704.0 431.8C706.0 425.5 708.0 414.1 710.0 410.4C712.0 406.6 714.0 404.0 716.0 402.7C718.0 401.4 720.0 400.7 722.0 400.0C724.0 399.3 726.0 399.3 728.0 398.4C730.0 397.6 732.0 394.3 734.0 392.6C736.0 391.0 738.0 388.4 740.0 388.4C742.0 388.4 744.0 392.1 746.0 395.4C748.0 398.6 750.0 405.9 752.0 411.1C754.0 416.2 756.0 423.6 758.0 426.3C760.0 429.0 762.0 431.9 764.0 431.9C766.0 431.9 768.0 426.1 770.0 421.4C772.0 416.7 774.0 407.7 776.0 400.5C778.0 393.2 780.0 384.0 782.0 378.0C784.0 371.9 786.0 363.0 788.0 362.7C790.0 362.3 792.0 362.1 794.0 362.1C796.0 362.1 798.0 368.7 800.0 373.0C802.0 377.4 804.0 384.0 806.0 389.5C808.0 395.1 810.0 401.7 812.0 406.2C814.0 410.7 816.0 417.3 818.0 417.7C820.0 418.0 822.0 418.2 824.0 418.2C826.0 418.2 828.0 409.8 830.0 404.1C832.0 398.3 834.0 389.3 836.0 382.0C838.0 374.7 840.0 365.7 842.0 360.2C844.0 354.7 846.0 346.8 848.0 346.8C850.0 346.8 852.0 347.6 854.0 348.7C856.0 349.8 858.0 357.5 860.0 363.5C862.0 369.4 864.0 377.9 866.0 385.7C868.0 393.5 870.0 402.6 872.0 410.2C874.0 417.9 876.0 426.3 878.0 431.8C880.0 437.3 882.0 444.9 884.0 445.1C886.0 445.3 888.0 445.5 890.0 445.5C892.0 445.5 894.0 438.7 896.0 434.0C898.0 429.4 900.0 422.2 902.0 415.8C904.0 409.5 906.0 401.9 908.0 395.9C910.0 389.8 912.0 382.9 914.0 379.1C916.0 375.3 918.0 370.5 920.0 370.5C922.0 370.5 924.0 373.4 926.0 376.5C928.0 379.6 930.0 389.7 932.0 397.9C934.0 406.2 936.0 417.4 938.0 427.2C940.0 436.9 942.0 448.1 944.0 456.2C946.0 464.3 948.0 474.4 950.0 477.2C952.0 480.0 954.0 482.4 956.0 482.4C958.0 482.4 960.0 476.3 962.0 471.6C964.0 466.8 966.0 458.5 968.0 451.1C970.0 443.7 972.0 434.6 974.0 427.0C976.0 419.4 978.0 410.8 980.0 405.3C982.0 399.8 984.0 392.0 986.0 392.0C988.0 392.0 990.0 392.2 992.0 392.4C994.0 392.7 996.0 399.6 998.0 404.2C1000.0 408.9 1002.0 415.7 1004.0 421.0C1006.0 426.3 1008.0 433.0 1010.0 436.2C1012.0 439.5 1014.0 443.5 1016.0 443.5C1018.0 443.5 1020.0 440.7 1022.0 438.7C1024.0 436.6 1026.0 433.3 1028.0 429.9C1030.0 426.6 1032.0 422.2 1034.0 418.4C1036.0 414.5 1038.0 410.0 1040.0 406.7C1042.0 403.4 1044.0 400.7 1046.0 398.1C1048.0 395.6 1050.0 392.5 1052.0 391.3C1054.0 390.1 1056.0 388.8 1058.0 388.8C1060.0 388.8 1062.0 389.9 1064.0 390.6C1066.0 391.3 1068.0 392.7 1070.0 393.4C1072.0 394.1 1074.0 394.4 1076.0 395.1C1078.0 395.8 1080.0 396.7 1082.0 398.1C1084.0 399.5 1086.0 402.3 1088.0 404.8C1090.0 407.2 1092.0 410.5 1094.0 412.9C1096.0 415.3 1098.0 419.1 1100.0 419.4C1102.0 419.6 1104.0 419.7 1106.0 419.7C1108.0 419.7 1110.0 416.1 1112.0 413.8C1114.0 411.5 1116.0 409.0 1118.0 405.6C1120.0 402.1 1122.0 396.5 1124.0 391.8C1126.0 387.1 1128.0 381.6 1130.0 377.3C1132.0 372.9 1134.0 369.2 1136.0 365.3C1138.0 361.4 1140.0 356.6 1142.0 353.8C1144.0 351.1 1146.0 347.4 1148.0 347.4C1150.0 347.4 1152.0 347.5 1154.0 347.6C1156.0 347.8 1158.0 348.6 1160.0 348.9C1162.0 349.2 1164.0 349.6 1166.0 349.6C1168.0 349.6 1170.0 347.0 1172.0 345.0C1174.0 343.1 1176.0 339.1 1178.0 336.7C1180.0 334.4 1182.0 332.7 1184.0 330.8C1186.0 328.9 1188.0 326.7 1190.0 325.2C1192.0 323.6 1194.0 321.3 1196.0 321.3C1198.0 321.3 1200.0 321.3 1202.0 321.4C1204.0 321.5 1206.0 324.0 1208.0 325.6C1210.0 327.3 1212.0 329.0 1214.0 331.4C1216.0 333.8 1218.0 337.8 1220.0 340.9C1222.0 344.0 1224.0 348.3 1226.0 349.9C1228.0 351.6 1230.0 353.4 1232.0 353.4C1234.0 353.4 1236.0 352.7 1238.0 352.1C1240.0 351.5 1242.0 350.3 1244.0 349.6C1246.0 348.9 1248.0 347.9 1250.0 347.9C1252.0 347.9 1254.0 348.3 1256.0 348.8C1258.0 349.4 1260.0 351.7 1262.0 353.3C1264.0 355.0 1266.0 356.8 1268.0 358.8C1270.0 360.8 1272.0 363.1 1274.0 365.4C1276.0 367.8 1278.0 370.6 1280.0 372.8C1282.0 375.0 1284.0 377.4 1286.0 378.8C1288.0 380.2 1290.0 382.0 1292.0 382.0C1294.0 382.0 1296.0 381.9 1298.0 381.8C1300.0 381.7 1302.0 381.1 1304.0 380.7C1306.0 380.3 1308.0 379.7 1310.0 379.3C1312.0 378.9 1314.0 378.2 1316.0 378.2C1318.0 378.2 1320.0 378.2 1322.0 378.2C1324.0 378.2 1326.0 379.3 1328.0 380.0C1330.0 380.8 1332.0 381.8 1334.0 382.9C1336.0 384.0 1338.0 385.3 1340.0 386.8C1342.0 388.4 1344.0 391.1 1346.0 392.9C1348.0 394.8 1350.0 397.2 1352.0 397.9C1354.0 398.5 1356.0 398.9 1358.0 399.1C1360.0 399.4 1362.0 399.6 1364.0 399.7C1366.0 399.9 1368.0 400.1 1370.0 400.1C1372.0 400.1 1374.0 400.0 1376.0 399.9C1378.0 399.8 1380.0 399.1 1382.0 398.6C1384.0 398.1 1386.0 397.3 1388.0 396.7C1390.0 396.2 1392.0 395.4 1394.0 395.1C1396.0 394.7 1398.0 394.3 1400.0 394.3C1402.0 394.3 1404.0 394.4 1406.0 394.6C1408.0 394.7 1410.0 395.0 1412.0 395.3C1414.0 395.5 1416.0 395.9 1418.0 396.0C1420.0 396.2 1422.0 396.4 1424.0 396.4C1426.0 396.4 1428.0 396.4 1430.0 396.3C1432.0 396.3 1434.0 396.2 1436.0 396.1C1438.0 396.0 1440.0 395.9 1442.0 395.7" stroke="#808080" stroke-width="2.7"/><path d="M236.5 382.0C247.7 381.3 258.8 380.5 270.0 379.6C281.7 378.7 293.3 377.6 305.0 376.2C316.7 374.8 328.3 373.2 340.0 371.1C350.0 369.3 360.0 367.0 370.0 364.1C378.3 361.7 386.7 358.7 395.0 354.7C401.7 351.5 408.3 347.4 415.0 342.1C420.0 338.1 425.0 332.8 430.0 326.2C433.3 321.8 436.7 316.2 440.0 309.3C442.7 303.8 445.3 297.0 448.0 288.6C449.8 282.9 451.7 275.9 453.5 267.6C455.0 260.7 456.6 249.3 458.1 242.6C459.4 236.8 460.7 228.0 462.0 228.0C462.8 228.0 463.7 235.2 464.5 240.0C465.3 244.3 466.0 248.4 466.8 255.9C467.6 264.4 468.5 283.8 469.3 301.1C470.2 319.0 471.1 341.8 471.9 364.4C473.5 404.4 475.0 453.3 476.6 495.7C478.2 539.4 479.8 583.8 481.4 622.9C482.8 657.1 484.2 691.7 485.6 718.3C486.7 738.6 487.7 761.2 488.8 771.3C489.7 780.1 490.7 790.0 491.6 790.0C492.6 790.0 493.6 772.7 494.6 760.7C495.9 744.7 497.3 718.9 498.6 697.1C500.1 673.1 501.5 660.5 503.0 622.9C504.0 596.4 505.1 525.6 506.1 474.5C507.0 430.0 507.9 367.6 508.8 336.7C510.1 293.2 511.3 264.7 512.6 241.3C513.6 222.8 514.6 203.7 515.6 196.8C516.6 189.6 517.7 182.8 518.7 182.8C519.8 182.8 521.0 194.7 522.1 204.2C523.6 216.7 525.1 246.2 526.6 263.0C529.2 292.6 531.8 311.7 534.4 338.7C535.0 344.1 535.5 350.0 536.0 355.6C538.0 376.9 540.0 400.1 542.0 418.8C544.0 437.4 546.0 461.0 548.0 469.0C550.0 477.0 552.0 484.7 554.0 484.7C556.0 484.7 558.0 463.7 560.0 449.3C562.0 435.0 564.0 410.8 566.0 394.6C568.0 378.4 570.0 354.0 572.0 351.0C574.0 348.0 576.0 346.0 578.0 346.0C580.0 346.0 582.0 359.4 584.0 365.2C586.0 371.0 588.0 380.1 590.0 380.9C592.0 381.7 594.0 381.7 596.0 382.2C598.0 382.6 600.0 382.7 602.0 383.5C604.0 384.4 606.0 394.7 608.0 402.9C610.0 411.0 612.0 426.0 614.0 435.9C616.0 445.9 618.0 461.6 620.0 463.3C622.0 465.1 624.0 466.3 626.0 466.3C628.0 466.3 630.0 452.7 632.0 443.8C634.0 434.9 636.0 420.9 638.0 410.9C640.0 400.8 642.0 387.1 644.0 383.1C646.0 379.1 648.0 375.4 650.0 375.4C652.0 375.4 654.0 379.5 656.0 382.7C658.0 385.9 660.0 391.6 662.0 396.9C664.0 402.2 666.0 408.9 668.0 415.1C670.0 421.2 672.0 428.1 674.0 434.1C676.0 440.0 678.0 446.3 680.0 450.9C682.0 455.4 684.0 460.8 686.0 462.4C688.0 464.0 690.0 465.4 692.0 465.4C694.0 465.4 696.0 456.0 698.0 449.0C700.0 441.9 702.0 428.9 704.0 419.2C706.0 409.5 708.0 396.6 710.0 390.7C712.0 384.8 714.0 378.0 716.0 378.0C718.0 378.0 720.0 378.6 722.0 379.2C724.0 379.8 726.0 380.9 728.0 382.1C730.0 383.3 732.0 384.6 734.0 386.9C736.0 389.1 738.0 393.8 740.0 398.0C742.0 402.2 744.0 407.9 746.0 412.6C748.0 417.4 750.0 422.9 752.0 426.7C754.0 430.4 756.0 435.9 758.0 436.1C760.0 436.2 762.0 436.3 764.0 436.3C766.0 436.3 768.0 428.5 770.0 423.0C772.0 417.6 774.0 409.0 776.0 401.9C778.0 394.8 780.0 386.2 782.0 380.4C784.0 374.6 786.0 366.0 788.0 365.8C790.0 365.7 792.0 365.7 794.0 365.7C796.0 365.7 798.0 375.3 800.0 381.7C802.0 388.2 804.0 398.0 806.0 405.9C808.0 413.9 810.0 423.6 812.0 429.5C814.0 435.3 816.0 443.5 818.0 443.5C820.0 443.5 822.0 442.1 824.0 440.2C826.0 438.4 828.0 428.9 830.0 421.6C832.0 414.2 834.0 403.7 836.0 394.4C838.0 385.1 840.0 374.3 842.0 365.7C844.0 357.2 846.0 347.4 848.0 342.6C850.0 337.7 852.0 331.9 854.0 331.9C856.0 331.9 858.0 335.9 860.0 339.7C862.0 343.6 864.0 354.0 866.0 362.5C868.0 371.0 870.0 382.3 872.0 391.7C874.0 401.2 876.0 412.1 878.0 419.1C880.0 426.0 882.0 436.0 884.0 436.0C886.0 436.0 888.0 435.7 890.0 435.2C892.0 434.7 894.0 425.6 896.0 419.1C898.0 412.5 900.0 402.7 902.0 393.9C904.0 385.0 906.0 374.6 908.0 365.9C910.0 357.1 912.0 347.5 914.0 341.2C916.0 335.0 918.0 326.2 920.0 326.2C922.0 326.2 924.0 326.2 926.0 326.2C928.0 326.2 930.0 333.7 932.0 338.9C934.0 344.1 936.0 352.0 938.0 359.1C940.0 366.2 942.0 374.7 944.0 381.7C946.0 388.8 948.0 396.7 950.0 401.8C952.0 406.9 954.0 414.1 956.0 414.1C958.0 414.1 960.0 414.0 962.0 413.9C964.0 413.7 966.0 406.1 968.0 401.5C970.0 397.0 972.0 389.2 974.0 386.0C976.0 382.9 978.0 379.1 980.0 379.1C982.0 379.1 984.0 383.4 986.0 386.6C988.0 389.9 990.0 395.7 992.0 400.7C994.0 405.8 996.0 411.9 998.0 417.1C1000.0 422.3 1002.0 427.9 1004.0 431.9C1006.0 436.0 1008.0 439.9 1010.0 442.2C1012.0 444.6 1014.0 446.5 1016.0 447.6C1018.0 448.6 1020.0 449.1 1022.0 449.8C1024.0 450.5 1026.0 451.1 1028.0 451.8C1030.0 452.6 1032.0 453.9 1034.0 454.3C1036.0 454.7 1038.0 455.1 1040.0 455.1C1042.0 455.1 1044.0 452.4 1046.0 450.5C1048.0 448.5 1050.0 444.9 1052.0 442.1C1054.0 439.2 1056.0 436.2 1058.0 433.3C1060.0 430.4 1062.0 427.7 1064.0 424.5C1066.0 421.3 1068.0 417.1 1070.0 414.2C1072.0 411.4 1074.0 407.5 1076.0 406.9C1078.0 406.2 1080.0 405.7 1082.0 405.7C1084.0 405.7 1086.0 405.7 1088.0 405.7C1090.0 405.7 1092.0 405.7 1094.0 405.7C1096.0 405.7 1098.0 403.9 1100.0 402.5C1102.0 401.0 1104.0 398.1 1106.0 395.4C1108.0 392.8 1110.0 390.2 1112.0 386.3C1114.0 382.5 1116.0 376.0 1118.0 370.6C1120.0 365.2 1122.0 358.1 1124.0 354.0C1126.0 349.8 1128.0 344.1 1130.0 344.1C1132.0 344.1 1134.0 344.7 1136.0 345.3C1138.0 346.0 1140.0 349.2 1142.0 351.7C1144.0 354.2 1146.0 357.6 1148.0 360.7C1150.0 363.8 1152.0 367.4 1154.0 370.3C1156.0 373.2 1158.0 376.5 1160.0 378.3C1162.0 380.1 1164.0 382.4 1166.0 382.4C1168.0 382.4 1170.0 381.8 1172.0 381.1C1174.0 380.5 1176.0 378.1 1178.0 376.3C1180.0 374.6 1182.0 372.1 1184.0 370.4C1186.0 368.7 1188.0 366.3 1190.0 365.9C1192.0 365.5 1194.0 365.2 1196.0 365.2C1198.0 365.2 1200.0 367.8 1202.0 369.6C1204.0 371.5 1206.0 374.5 1208.0 376.9C1210.0 379.3 1212.0 382.3 1214.0 383.9C1216.0 385.6 1218.0 387.2 1220.0 387.8C1222.0 388.4 1224.0 388.6 1226.0 389.0C1228.0 389.3 1230.0 389.5 1232.0 389.9C1234.0 390.2 1236.0 390.7 1238.0 391.1C1240.0 391.5 1242.0 391.9 1244.0 392.4C1246.0 392.9 1248.0 393.4 1250.0 394.0C1252.0 394.6 1254.0 395.2 1256.0 396.0C1258.0 396.9 1260.0 398.0 1262.0 399.6C1264.0 401.1 1266.0 404.2 1268.0 406.0C1270.0 407.8 1272.0 410.3 1274.0 410.7C1276.0 411.2 1278.0 411.5 1280.0 411.5C1282.0 411.5 1284.0 411.5 1286.0 411.4C1288.0 411.4 1290.0 411.3 1292.0 411.2C1294.0 411.1 1296.0 410.8 1298.0 410.5C1300.0 410.2 1302.0 409.6 1304.0 409.0C1306.0 408.4 1308.0 407.5 1310.0 406.9C1312.0 406.3 1314.0 405.3 1316.0 405.3C1318.0 405.3 1320.0 405.3 1322.0 405.4C1324.0 405.4 1326.0 406.1 1328.0 406.6C1330.0 407.1 1332.0 407.8 1334.0 408.3C1336.0 408.8 1338.0 409.3 1340.0 409.7C1342.0 410.1 1344.0 410.3 1346.0 410.6C1348.0 410.9 1350.0 411.1 1352.0 411.4C1354.0 411.6 1356.0 411.9 1358.0 412.2C1360.0 412.5 1362.0 412.9 1364.0 413.3C1366.0 413.6 1368.0 414.0 1370.0 414.5C1372.0 414.9 1374.0 415.4 1376.0 415.9C1378.0 416.5 1380.0 417.3 1382.0 418.1C1384.0 418.9 1386.0 420.0 1388.0 420.9C1390.0 421.8 1392.0 422.7 1394.0 423.4C1396.0 424.2 1398.0 424.9 1400.0 425.5C1402.0 426.1 1404.0 427.2 1406.0 427.3C1408.0 427.3 1410.0 427.4 1412.0 427.4C1414.0 427.4 1416.0 425.3 1418.0 424.2C1420.0 423.1 1422.0 421.7 1424.0 420.6C1426.0 419.5 1428.0 418.6 1430.0 417.6C1432.0 416.5 1434.0 415.5 1436.0 414.5C1438.0 413.5 1440.0 412.5 1442.0 411.5" stroke="#808080" stroke-width="2.7"/><path d="M236.5 384.6C247.7 384.0 258.8 383.2 270.0 382.3C281.7 381.5 293.3 380.4 305.0 379.1C316.7 377.9 328.3 376.3 340.0 374.4C350.0 372.7 360.0 370.6 370.0 367.9C378.3 365.6 386.7 362.8 395.0 359.1C401.7 356.1 408.3 352.2 415.0 347.3C420.0 343.5 425.0 338.6 430.0 332.4C433.3 328.3 436.7 323.1 440.0 316.6C442.7 311.5 445.3 305.1 448.0 297.3C449.8 291.9 451.7 285.4 453.5 277.6C455.0 271.5 456.4 263.2 457.9 255.4C459.1 249.2 460.2 236.0 461.4 236.0C462.4 236.0 463.4 251.2 464.4 262.0C465.4 272.5 466.3 285.6 467.3 303.8C468.1 319.5 469.0 349.3 469.8 370.0C471.5 413.1 473.3 450.0 475.0 490.0C476.7 530.0 478.5 572.0 480.2 610.0C481.6 641.4 483.1 666.5 484.5 700.0C485.8 729.6 487.0 784.3 488.3 800.0C489.2 810.8 490.0 822.0 490.9 822.0C492.4 822.0 493.9 813.2 495.4 800.0C496.5 790.6 497.5 738.4 498.6 700.0C499.4 671.2 500.2 640.9 501.0 600.0C501.7 565.9 502.3 518.3 503.0 470.0C503.5 431.3 504.1 372.1 504.6 340.0C505.5 287.8 506.3 250.7 507.2 220.0C508.1 187.0 509.1 154.1 510.0 140.0C510.8 127.9 511.6 115.0 512.4 115.0C513.4 115.0 514.5 125.2 515.5 135.0C516.9 148.6 518.4 189.8 519.8 220.0C521.1 248.1 522.5 286.5 523.8 310.0C524.9 328.8 525.9 342.8 527.0 356.8C528.5 376.5 530.0 395.3 531.5 410.0C533.0 424.7 534.5 438.6 536.0 447.5C538.0 459.5 540.0 474.9 542.0 474.9C544.0 474.9 546.0 470.5 548.0 466.2C550.0 461.9 552.0 452.2 554.0 441.4C556.0 430.7 558.0 407.1 560.0 395.0C562.0 382.8 564.0 364.9 566.0 364.9C568.0 364.9 570.0 371.6 572.0 376.1C574.0 380.7 576.0 393.5 578.0 393.5C580.0 393.5 582.0 392.9 584.0 392.2C586.0 391.5 588.0 385.0 590.0 385.0C592.0 385.0 594.0 391.4 596.0 397.3C598.0 403.2 600.0 418.9 602.0 429.8C604.0 440.7 606.0 456.5 608.0 462.5C610.0 468.5 612.0 474.9 614.0 474.9C616.0 474.9 618.0 465.9 620.0 458.9C622.0 451.9 624.0 438.3 626.0 428.3C628.0 418.3 630.0 404.7 632.0 398.9C634.0 393.1 636.0 386.6 638.0 386.6C640.0 386.6 642.0 388.0 644.0 389.3C646.0 390.5 648.0 393.0 650.0 395.2C652.0 397.4 654.0 399.6 656.0 402.8C658.0 406.0 660.0 411.4 662.0 415.9C664.0 420.5 666.0 426.4 668.0 430.3C670.0 434.3 672.0 440.4 674.0 440.4C676.0 440.4 678.0 440.2 680.0 439.7C682.0 439.3 684.0 429.8 686.0 424.0C688.0 418.2 690.0 408.9 692.0 404.5C694.0 400.2 696.0 394.7 698.0 394.7C700.0 394.7 702.0 395.7 704.0 396.6C706.0 397.5 708.0 399.1 710.0 400.8C712.0 402.5 714.0 404.8 716.0 407.5C718.0 410.1 720.0 414.1 722.0 417.4C724.0 420.7 726.0 424.7 728.0 427.4C730.0 430.0 732.0 434.0 734.0 434.0C736.0 434.0 738.0 433.5 740.0 432.7C742.0 432.0 744.0 423.1 746.0 416.8C748.0 410.4 750.0 400.8 752.0 393.1C754.0 385.4 756.0 376.0 758.0 370.6C760.0 365.3 762.0 358.1 764.0 358.1C766.0 358.1 768.0 360.0 770.0 362.2C772.0 364.4 774.0 372.1 776.0 378.2C778.0 384.2 780.0 392.4 782.0 399.0C784.0 405.6 786.0 413.5 788.0 417.9C790.0 422.2 792.0 427.8 794.0 427.8C796.0 427.8 798.0 425.6 800.0 423.3C802.0 420.9 804.0 413.4 806.0 407.4C808.0 401.4 810.0 393.3 812.0 386.6C814.0 380.0 816.0 372.2 818.0 367.5C820.0 362.8 822.0 356.4 824.0 356.4C826.0 356.4 828.0 357.5 830.0 358.9C832.0 360.2 834.0 367.0 836.0 372.2C838.0 377.4 840.0 384.7 842.0 390.9C844.0 397.1 846.0 404.3 848.0 409.3C850.0 414.3 852.0 421.1 854.0 421.9C856.0 422.7 858.0 423.3 860.0 423.3C862.0 423.3 864.0 417.3 866.0 413.0C868.0 408.8 870.0 402.1 872.0 396.5C874.0 390.8 876.0 383.9 878.0 379.0C880.0 374.1 882.0 367.7 884.0 366.2C886.0 364.7 888.0 363.4 890.0 363.4C892.0 363.4 894.0 368.6 896.0 372.6C898.0 376.6 900.0 383.6 902.0 389.9C904.0 396.2 906.0 403.9 908.0 410.8C910.0 417.6 912.0 425.1 914.0 430.9C916.0 436.6 918.0 443.2 920.0 445.8C922.0 448.4 924.0 451.1 926.0 451.1C928.0 451.1 930.0 449.2 932.0 447.6C934.0 445.9 936.0 442.6 938.0 439.8C940.0 437.0 942.0 433.4 944.0 430.6C946.0 427.8 948.0 424.4 950.0 422.8C952.0 421.3 954.0 419.4 956.0 419.4C958.0 419.4 960.0 420.2 962.0 421.0C964.0 421.7 966.0 423.7 968.0 425.4C970.0 427.1 972.0 429.5 974.0 431.7C976.0 434.0 978.0 436.5 980.0 438.9C982.0 441.2 984.0 443.8 986.0 445.9C988.0 448.0 990.0 450.2 992.0 451.7C994.0 453.3 996.0 455.1 998.0 455.4C1000.0 455.8 1002.0 456.0 1004.0 456.0C1006.0 456.0 1008.0 454.8 1010.0 454.0C1012.0 453.3 1014.0 452.0 1016.0 451.5C1018.0 451.0 1020.0 450.4 1022.0 450.4C1024.0 450.4 1026.0 451.6 1028.0 452.4C1030.0 453.1 1032.0 454.9 1034.0 454.9C1036.0 454.9 1038.0 454.4 1040.0 453.7C1042.0 453.0 1044.0 449.1 1046.0 446.1C1048.0 443.2 1050.0 439.0 1052.0 435.6C1054.0 432.2 1056.0 429.3 1058.0 425.8C1060.0 422.2 1062.0 418.1 1064.0 414.3C1066.0 410.4 1068.0 405.4 1070.0 402.6C1072.0 399.8 1074.0 396.2 1076.0 396.0C1078.0 395.8 1080.0 395.7 1082.0 395.7C1084.0 395.7 1086.0 395.7 1088.0 395.7C1090.0 395.7 1092.0 395.6 1094.0 395.4C1096.0 395.2 1098.0 392.3 1100.0 390.1C1102.0 387.9 1104.0 384.7 1106.0 381.3C1108.0 377.8 1110.0 374.0 1112.0 368.9C1114.0 363.9 1116.0 355.7 1118.0 349.3C1120.0 342.9 1122.0 334.6 1124.0 330.5C1126.0 326.4 1128.0 321.4 1130.0 321.4C1132.0 321.4 1134.0 322.8 1136.0 324.3C1138.0 325.7 1140.0 329.3 1142.0 332.5C1144.0 335.6 1146.0 339.8 1148.0 343.5C1150.0 347.2 1152.0 351.4 1154.0 354.7C1156.0 358.0 1158.0 361.8 1160.0 363.7C1162.0 365.6 1164.0 367.9 1166.0 367.9C1168.0 367.9 1170.0 366.9 1172.0 366.0C1174.0 365.0 1176.0 362.2 1178.0 361.3C1180.0 360.4 1182.0 359.4 1184.0 359.4C1186.0 359.4 1188.0 362.0 1190.0 364.3C1192.0 366.6 1194.0 372.1 1196.0 376.4C1198.0 380.8 1200.0 386.5 1202.0 390.5C1204.0 394.5 1206.0 398.8 1208.0 401.0C1210.0 403.1 1212.0 405.4 1214.0 405.7C1216.0 406.1 1218.0 406.3 1220.0 406.3C1222.0 406.3 1224.0 406.1 1226.0 406.1C1228.0 406.1 1230.0 407.9 1232.0 409.4C1234.0 411.0 1236.0 414.5 1238.0 417.6C1240.0 420.6 1242.0 424.6 1244.0 427.9C1246.0 431.1 1248.0 435.0 1250.0 437.2C1252.0 439.4 1254.0 442.3 1256.0 442.3C1258.0 442.3 1260.0 441.4 1262.0 440.3C1264.0 439.3 1266.0 434.6 1268.0 431.2C1270.0 427.9 1272.0 423.3 1274.0 419.9C1276.0 416.6 1278.0 413.2 1280.0 411.0C1282.0 408.9 1284.0 406.6 1286.0 406.0C1288.0 405.5 1290.0 405.1 1292.0 405.1C1294.0 405.1 1296.0 405.4 1298.0 405.4C1300.0 405.4 1302.0 404.8 1304.0 404.4C1306.0 403.9 1308.0 402.4 1310.0 402.3C1312.0 402.2 1314.0 402.1 1316.0 402.1C1318.0 402.1 1320.0 403.8 1322.0 404.9C1324.0 406.0 1326.0 407.5 1328.0 409.3C1330.0 411.1 1332.0 414.1 1334.0 416.1C1336.0 418.2 1338.0 420.9 1340.0 421.7C1342.0 422.4 1344.0 422.8 1346.0 423.1C1348.0 423.4 1350.0 423.6 1352.0 423.8C1354.0 424.0 1356.0 424.2 1358.0 424.2C1360.0 424.2 1362.0 424.1 1364.0 424.0C1366.0 423.8 1368.0 423.1 1370.0 422.5C1372.0 421.9 1374.0 421.1 1376.0 420.4C1378.0 419.8 1380.0 418.9 1382.0 418.5C1384.0 418.1 1386.0 417.6 1388.0 417.6C1390.0 417.6 1392.0 417.8 1394.0 418.0C1396.0 418.1 1398.0 418.5 1400.0 418.8C1402.0 419.1 1404.0 419.5 1406.0 419.6C1408.0 419.8 1410.0 420.1 1412.0 420.1C1414.0 420.1 1416.0 420.0 1418.0 420.0C1420.0 419.9 1422.0 419.8 1424.0 419.7C1426.0 419.6 1428.0 419.5 1430.0 419.3C1432.0 419.1 1434.0 418.6 1436.0 418.0C1438.0 417.4 1440.0 416.3 1442.0 415.0" stroke="#808080" stroke-width="2.7"/><path d="M236.5 384.5C247.7 383.9 258.8 383.1 270.0 382.3C281.7 381.4 293.3 380.3 305.0 379.0C316.7 377.8 328.3 376.2 340.0 374.2C350.0 372.5 360.0 370.4 370.0 367.7C378.3 365.5 386.7 362.6 395.0 358.9C401.7 355.9 408.3 352.0 415.0 347.0C420.0 343.2 425.0 338.3 430.0 332.1C433.3 327.9 436.7 322.7 440.0 316.2C442.7 311.0 445.3 304.6 448.0 296.7C449.8 291.4 451.7 284.8 453.5 277.0C455.0 270.8 456.4 261.9 457.9 254.7C459.2 248.3 460.5 236.0 461.8 236.0C462.8 236.0 463.8 251.2 464.8 262.0C465.8 272.5 466.7 285.9 467.7 303.8C468.6 319.8 469.4 349.1 470.3 370.0C472.1 412.6 473.8 450.0 475.6 490.0C477.4 530.0 479.1 573.0 480.9 610.0C482.4 642.1 484.0 666.2 485.5 700.0C486.8 729.4 488.2 781.8 489.5 800.0C490.7 815.9 491.8 833.2 493.0 833.2C494.5 833.2 496.0 810.5 497.5 790.0C498.8 772.2 500.1 741.9 501.4 700.0C502.1 677.5 502.8 638.5 503.5 600.0C504.2 563.3 504.8 519.9 505.5 470.0C506.0 432.6 506.5 368.8 507.0 340.0C508.2 272.8 509.3 234.2 510.5 200.0C511.5 170.7 512.5 141.1 513.5 130.0C514.5 119.3 515.4 108.8 516.4 108.8C517.4 108.8 518.5 119.8 519.5 130.0C521.0 144.8 522.5 192.9 524.0 220.0C526.5 264.6 528.9 305.1 531.4 340.0C532.9 361.7 534.5 381.8 536.0 398.7C538.0 420.8 540.0 442.5 542.0 456.4C544.0 470.2 546.0 488.9 548.0 488.9C550.0 488.9 552.0 478.6 554.0 470.3C556.0 462.0 558.0 445.7 560.0 432.6C562.0 419.5 564.0 402.8 566.0 391.6C568.0 380.4 570.0 365.2 572.0 363.2C574.0 361.1 576.0 359.6 578.0 359.6C580.0 359.6 582.0 364.0 584.0 367.0C586.0 369.9 588.0 374.3 590.0 378.1C592.0 381.8 594.0 385.1 596.0 389.5C598.0 393.9 600.0 399.4 602.0 405.1C604.0 410.9 606.0 417.9 608.0 424.4C610.0 430.8 612.0 437.9 614.0 443.8C616.0 449.6 618.0 455.9 620.0 459.9C622.0 463.9 624.0 469.5 626.0 469.5C628.0 469.5 630.0 468.0 632.0 465.9C634.0 463.8 636.0 448.7 638.0 438.4C640.0 428.1 642.0 412.6 644.0 403.3C646.0 394.0 648.0 380.2 650.0 380.0C652.0 379.7 654.0 379.6 656.0 379.6C658.0 379.6 660.0 381.5 662.0 382.8C664.0 384.0 666.0 385.9 668.0 387.6C670.0 389.4 672.0 390.8 674.0 393.3C676.0 395.9 678.0 400.0 680.0 404.6C682.0 409.1 684.0 416.3 686.0 421.6C688.0 426.9 690.0 434.2 692.0 436.5C694.0 438.8 696.0 441.0 698.0 441.0C700.0 441.0 702.0 435.3 704.0 431.2C706.0 427.1 708.0 419.8 710.0 415.0C712.0 410.3 714.0 404.4 716.0 402.4C718.0 400.5 720.0 399.6 722.0 398.6C724.0 397.7 726.0 396.8 728.0 396.3C730.0 395.9 732.0 395.4 734.0 395.4C736.0 395.4 738.0 397.4 740.0 399.2C742.0 401.0 744.0 405.0 746.0 408.2C748.0 411.5 750.0 415.6 752.0 418.6C754.0 421.6 756.0 425.8 758.0 426.5C760.0 427.2 762.0 427.7 764.0 427.7C766.0 427.7 768.0 420.6 770.0 415.6C772.0 410.5 774.0 402.0 776.0 395.2C778.0 388.3 780.0 379.8 782.0 374.5C784.0 369.2 786.0 361.6 788.0 361.6C790.0 361.6 792.0 361.8 794.0 362.1C796.0 362.3 798.0 366.9 800.0 370.1C802.0 373.3 804.0 377.9 806.0 382.0C808.0 386.1 810.0 390.9 812.0 394.7C814.0 398.5 816.0 402.8 818.0 405.1C820.0 407.3 822.0 409.9 824.0 409.9C826.0 409.9 828.0 407.6 830.0 405.4C832.0 403.1 834.0 397.0 836.0 392.2C838.0 387.4 840.0 381.0 842.0 376.3C844.0 371.6 846.0 365.5 848.0 363.6C850.0 361.7 852.0 359.8 854.0 359.8C856.0 359.8 858.0 362.4 860.0 364.4C862.0 366.5 864.0 370.3 866.0 373.8C868.0 377.3 870.0 381.8 872.0 386.0C874.0 390.2 876.0 394.8 878.0 398.9C880.0 402.9 882.0 407.2 884.0 410.4C886.0 413.6 888.0 417.2 890.0 418.6C892.0 419.9 894.0 421.2 896.0 421.2C898.0 421.2 900.0 417.3 902.0 414.2C904.0 411.2 906.0 405.1 908.0 400.7C910.0 396.2 912.0 390.2 914.0 387.5C916.0 384.9 918.0 381.8 920.0 381.8C922.0 381.8 924.0 384.4 926.0 386.8C928.0 389.2 930.0 394.6 932.0 399.4C934.0 404.3 936.0 410.6 938.0 416.5C940.0 422.4 942.0 429.1 944.0 435.0C946.0 440.9 948.0 447.1 950.0 451.8C952.0 456.5 954.0 461.8 956.0 463.9C958.0 466.0 960.0 468.2 962.0 468.2C964.0 468.2 966.0 464.9 968.0 462.1C970.0 459.3 972.0 453.6 974.0 448.8C976.0 444.0 978.0 438.0 980.0 433.3C982.0 428.7 984.0 423.0 986.0 420.6C988.0 418.3 990.0 415.8 992.0 415.8C994.0 415.8 996.0 418.7 998.0 421.1C1000.0 423.5 1002.0 428.3 1004.0 432.0C1006.0 435.6 1008.0 439.1 1010.0 443.1C1012.0 447.1 1014.0 451.9 1016.0 456.2C1018.0 460.6 1020.0 467.0 1022.0 469.2C1024.0 471.4 1026.0 473.7 1028.0 473.7C1030.0 473.7 1032.0 470.7 1034.0 468.4C1036.0 466.0 1038.0 461.6 1040.0 457.7C1042.0 453.9 1044.0 449.1 1046.0 445.1C1048.0 441.1 1050.0 436.5 1052.0 433.7C1054.0 430.8 1056.0 427.2 1058.0 426.8C1060.0 426.3 1062.0 426.0 1064.0 426.0C1066.0 426.0 1068.0 426.0 1070.0 426.0C1072.0 426.0 1074.0 426.0 1076.0 426.0C1078.0 426.0 1080.0 426.0 1082.0 426.0C1084.0 426.0 1086.0 424.3 1088.0 422.8C1090.0 421.2 1092.0 417.6 1094.0 414.6C1096.0 411.6 1098.0 408.5 1100.0 404.6C1102.0 400.7 1104.0 396.0 1106.0 390.8C1108.0 385.6 1110.0 378.1 1112.0 372.9C1114.0 367.6 1116.0 362.3 1118.0 358.8C1120.0 355.3 1122.0 352.2 1124.0 350.6C1126.0 348.9 1128.0 347.0 1130.0 347.0C1132.0 347.0 1134.0 348.3 1136.0 349.2C1138.0 350.1 1140.0 351.9 1142.0 352.7C1144.0 353.4 1146.0 354.3 1148.0 354.3C1150.0 354.3 1152.0 352.9 1154.0 351.8C1156.0 350.7 1158.0 348.4 1160.0 346.7C1162.0 345.0 1164.0 342.7 1166.0 341.5C1168.0 340.3 1170.0 338.8 1172.0 338.8C1174.0 338.8 1176.0 339.0 1178.0 339.4C1180.0 339.8 1182.0 341.1 1184.0 342.7C1186.0 344.4 1188.0 347.9 1190.0 351.6C1192.0 355.3 1194.0 362.0 1196.0 366.5C1198.0 370.9 1200.0 375.0 1202.0 378.5C1204.0 381.9 1206.0 384.7 1208.0 387.6C1210.0 390.5 1212.0 392.8 1214.0 395.9C1216.0 399.0 1218.0 402.3 1220.0 406.2C1222.0 410.0 1224.0 414.7 1226.0 419.1C1228.0 423.6 1230.0 429.1 1232.0 433.0C1234.0 436.9 1236.0 442.0 1238.0 443.1C1240.0 444.1 1242.0 445.0 1244.0 445.0C1246.0 445.0 1248.0 442.4 1250.0 440.5C1252.0 438.6 1254.0 435.3 1256.0 432.4C1258.0 429.6 1260.0 426.2 1262.0 423.3C1264.0 420.5 1266.0 416.7 1268.0 415.2C1270.0 413.6 1272.0 411.8 1274.0 411.8C1276.0 411.8 1278.0 413.3 1280.0 414.4C1282.0 415.5 1284.0 417.7 1286.0 418.4C1288.0 419.1 1290.0 419.8 1292.0 419.8C1294.0 419.8 1296.0 418.7 1298.0 417.8C1300.0 416.9 1302.0 414.9 1304.0 413.5C1306.0 412.1 1308.0 410.0 1310.0 409.5C1312.0 409.1 1314.0 408.7 1316.0 408.7C1318.0 408.7 1320.0 410.7 1322.0 411.9C1324.0 413.1 1326.0 414.7 1328.0 416.3C1330.0 417.9 1332.0 419.6 1334.0 421.6C1336.0 423.5 1338.0 426.7 1340.0 428.3C1342.0 430.0 1344.0 431.5 1346.0 432.3C1348.0 433.2 1350.0 433.9 1352.0 434.2C1354.0 434.6 1356.0 435.0 1358.0 435.0C1360.0 435.0 1362.0 434.2 1364.0 433.6C1366.0 433.0 1368.0 431.7 1370.0 430.8C1372.0 429.9 1374.0 428.7 1376.0 428.2C1378.0 427.7 1380.0 427.2 1382.0 427.2C1384.0 427.2 1386.0 427.3 1388.0 427.4C1390.0 427.5 1392.0 427.7 1394.0 427.9C1396.0 428.1 1398.0 428.5 1400.0 428.8C1402.0 429.2 1404.0 429.9 1406.0 430.2C1408.0 430.6 1410.0 431.0 1412.0 431.0C1414.0 431.0 1416.0 430.8 1418.0 430.5C1420.0 430.2 1422.0 429.5 1424.0 428.8C1426.0 428.2 1428.0 427.4 1430.0 426.7C1432.0 426.0 1434.0 425.3 1436.0 424.5C1438.0 423.8 1440.0 422.9 1442.0 422.0" stroke="#808080" stroke-width="2.7"/><path d="M236.5 384.5C247.7 383.9 258.8 383.1 270.0 382.3C281.7 381.4 293.3 380.3 305.0 379.0C316.7 377.8 328.3 376.2 340.0 374.2C350.0 372.5 360.0 370.4 370.0 367.7C378.3 365.5 386.7 362.6 395.0 358.9C401.7 355.9 408.3 352.0 415.0 347.0C420.0 343.2 425.0 338.3 430.0 332.1C433.3 327.9 436.7 322.7 440.0 316.2C442.7 311.0 445.3 304.6 448.0 296.7C449.8 291.4 451.7 284.8 453.5 277.0C455.0 270.8 456.4 261.9 457.9 254.7C459.2 248.3 460.5 236.0 461.8 236.0C462.8 236.0 463.8 251.2 464.8 262.0C465.8 272.5 466.7 285.9 467.7 303.8C468.6 319.8 469.4 349.1 470.3 370.0C472.1 412.6 473.8 450.0 475.6 490.0C477.4 530.0 479.1 573.0 480.9 610.0C482.4 642.1 484.0 666.2 485.5 700.0C486.8 729.4 488.2 781.8 489.5 800.0C490.7 815.9 491.8 833.2 493.0 833.2C494.5 833.2 496.0 810.5 497.5 790.0C498.8 772.2 500.1 741.9 501.4 700.0C502.1 677.5 502.8 638.5 503.5 600.0C504.2 563.3 504.8 519.9 505.5 470.0C506.0 432.6 506.5 368.8 507.0 340.0C508.2 272.8 509.3 234.2 510.5 200.0C511.5 170.7 512.5 141.1 513.5 130.0C514.5 119.3 515.4 108.8 516.4 108.8C517.4 108.8 518.5 119.8 519.5 130.0C521.0 144.8 522.5 192.9 524.0 220.0C526.5 264.6 528.9 305.4 531.4 340.0C533.3 366.2 535.1 389.4 537.0 410.0C538.3 424.7 539.7 439.2 541.0 450.0C543.0 465.9 544.9 489.1 546.9 489.1C555.8 489.1 564.6 358.6 573.5 358.6C579.6 358.6 585.8 374.9 591.9 386.2C602.9 406.5 614.0 470.7 625.0 470.7C632.3 470.7 639.7 378.8 647.0 378.8C654.7 378.8 662.3 386.0 670.0 393.5C677.7 401.0 685.3 441.3 693.0 441.3C700.0 441.3 707.1 404.8 714.1 400.9C719.6 397.9 725.2 395.4 730.7 395.4C740.2 395.4 749.7 428.5 759.2 428.5C768.7 428.5 778.1 360.4 787.6 360.4C799.3 360.4 810.9 410.0 822.6 410.0C832.1 410.0 841.5 359.7 851.0 359.7C865.4 359.7 879.8 421.3 894.2 421.3C902.5 421.3 910.7 381.8 919.0 381.8C933.1 381.8 947.2 468.2 961.3 468.2C971.4 468.2 981.6 415.8 991.7 415.8C997.8 415.8 1003.9 433.7 1010.0 444.0C1015.8 453.8 1021.7 476.6 1027.5 476.6C1032.7 476.6 1037.8 458.0 1043.0 451.8C1049.8 443.6 1056.5 432.5 1063.3 432.5C1068.8 432.5 1074.4 437.0 1079.9 437.0C1086.0 437.0 1092.1 427.5 1098.2 418.7C1103.1 411.6 1108.1 392.1 1113.0 382.0C1119.1 369.6 1125.2 350.7 1131.3 350.7C1136.8 350.7 1142.4 353.4 1147.9 353.4C1152.8 353.4 1157.7 340.7 1162.6 336.0C1168.7 330.1 1174.9 321.3 1181.0 321.3C1185.0 321.3 1188.9 326.0 1192.9 329.5C1199.7 335.6 1206.6 357.7 1213.4 357.7C1220.3 357.7 1227.1 351.3 1234.0 351.3C1239.2 351.3 1244.3 358.4 1249.5 362.9C1258.1 370.4 1266.6 390.4 1275.2 391.2C1283.8 392.0 1292.3 391.7 1300.9 392.5C1307.3 393.1 1313.6 399.9 1320.0 405.3C1324.9 409.5 1329.8 419.6 1334.7 421.8C1339.0 423.7 1343.3 425.5 1347.6 425.5C1355.6 425.5 1363.5 416.3 1371.5 416.3C1375.8 416.3 1380.1 416.8 1384.4 417.2C1390.5 417.8 1396.6 420.9 1402.7 420.9C1409.5 420.9 1416.2 417.2 1423.0 414.5C1430.7 411.4 1438.3 406.9 1446.0 401.6" stroke="#0a14f0" stroke-width="2.6"/><path d="M236.5 384.5C247.7 383.9 258.8 383.1 270.0 382.3C281.7 381.4 293.3 380.3 305.0 379.0C316.7 377.8 328.3 376.2 340.0 374.2C350.0 372.5 360.0 370.4 370.0 367.7C378.3 365.5 386.7 362.6 395.0 358.9C401.7 355.9 408.3 352.0 415.0 347.0C420.0 343.2 425.0 338.3 430.0 332.1C433.3 327.9 436.7 322.7 440.0 316.2C442.7 311.0 445.3 304.6 448.0 296.7C449.8 291.4 451.7 284.8 453.5 277.0C455.0 270.8 456.4 261.9 457.9 254.7C459.2 248.3 460.5 236.0 461.8 236.0C462.8 236.0 463.8 251.2 464.8 262.0C465.8 272.5 466.7 285.9 467.7 303.8C468.6 319.8 469.4 349.1 470.3 370.0C472.1 412.6 473.8 450.0 475.6 490.0C477.4 530.0 479.1 573.0 480.9 610.0C482.4 642.1 484.0 666.2 485.5 700.0C486.8 729.4 488.2 781.8 489.5 800.0C490.7 815.9 491.8 833.2 493.0 833.2C494.5 833.2 496.0 810.5 497.5 790.0C498.8 772.2 500.1 741.9 501.4 700.0C502.1 677.5 502.8 638.5 503.5 600.0C504.2 563.3 504.8 519.9 505.5 470.0C506.0 432.6 506.5 368.8 507.0 340.0C508.2 272.8 509.3 234.2 510.5 200.0C511.5 170.7 512.5 141.1 513.5 130.0C514.5 119.3 515.4 108.8 516.4 108.8C517.4 108.8 518.5 119.8 519.5 130.0C521.0 144.8 522.5 192.9 524.0 220.0C526.5 264.6 528.9 305.4 531.4 340.0C533.3 366.2 535.1 389.4 537.0 410.0C538.3 424.7 539.7 439.2 541.0 450.0C543.0 465.9 544.9 489.1 546.9 489.1C555.8 489.1 564.6 358.6 573.5 358.6C579.6 358.6 585.8 374.9 591.9 386.2C602.9 406.5 614.0 470.7 625.0 470.7C632.3 470.7 639.7 378.8 647.0 378.8C654.7 378.8 662.3 386.0 670.0 393.5C677.7 401.0 685.3 441.3 693.0 441.3C700.0 441.3 707.1 404.8 714.1 400.9C719.6 397.9 725.2 395.4 730.7 395.4C740.2 395.4 749.7 428.5 759.2 428.5C768.7 428.5 778.1 360.4 787.6 360.4C799.3 360.4 810.9 410.0 822.6 410.0C832.1 410.0 841.5 359.7 851.0 359.7C865.4 359.7 879.8 421.3 894.2 421.3C902.5 421.3 910.7 381.8 919.0 381.8C933.1 381.8 947.2 468.2 961.3 468.2C971.4 468.2 981.6 415.8 991.7 415.8C997.8 415.8 1003.9 432.8 1010.0 442.6C1015.8 452.0 1021.7 473.8 1027.5 473.8C1038.8 473.8 1050.2 426.0 1061.5 426.0C1068.8 426.0 1076.2 426.0 1083.5 426.0C1089.6 426.0 1095.8 413.9 1101.9 404.0C1108.0 394.1 1114.2 366.5 1120.3 358.0C1124.0 352.9 1127.6 347.0 1131.3 347.0C1137.4 347.0 1143.6 354.3 1149.7 354.3C1158.3 354.3 1166.8 338.7 1175.4 338.7C1180.3 338.7 1185.1 340.8 1190.0 343.3C1194.4 345.6 1198.8 356.7 1203.2 360.3C1209.2 365.1 1215.2 370.6 1221.2 370.6C1228.0 370.6 1234.9 362.9 1241.7 362.9C1248.6 362.9 1255.4 375.4 1262.3 380.9C1267.4 385.0 1272.6 392.5 1277.7 392.5C1286.3 392.5 1294.9 388.6 1303.5 388.6C1309.0 388.6 1314.5 392.7 1320.0 396.1C1326.1 399.9 1332.3 413.4 1338.4 414.5C1344.5 415.6 1350.7 416.3 1356.8 416.3C1366.0 416.3 1375.2 409.0 1384.4 409.0C1392.4 409.0 1400.3 411.7 1408.3 411.7C1414.4 411.7 1420.6 411.3 1426.7 410.8C1433.1 410.2 1439.6 405.2 1446.0 399.8" stroke="#55bcc0" stroke-width="2.9"/><path d="M236.5 382.0C247.7 381.3 258.8 380.5 270.0 379.6C281.7 378.7 293.3 377.6 305.0 376.2C316.7 374.8 328.3 373.2 340.0 371.1C350.0 369.3 360.0 367.0 370.0 364.1C378.3 361.7 386.7 358.7 395.0 354.7C401.7 351.5 408.3 347.4 415.0 342.1C420.0 338.1 425.0 332.8 430.0 326.2C433.3 321.8 436.7 316.2 440.0 309.3C442.7 303.8 445.3 297.0 448.0 288.6C449.8 282.9 451.7 275.9 453.5 267.6C455.0 260.7 456.6 249.3 458.1 242.6C459.4 236.8 460.7 228.0 462.0 228.0C462.8 228.0 463.7 235.1 464.5 240.0C465.2 244.4 466.0 248.7 466.7 256.9C467.5 265.4 468.2 286.3 469.0 303.8C469.8 322.0 470.6 344.9 471.4 366.0C472.9 406.4 474.5 450.2 476.0 490.0C477.6 531.5 479.2 573.1 480.8 610.0C482.2 642.3 483.6 674.9 485.0 700.0C486.1 719.1 487.1 740.5 488.2 750.0C489.1 758.3 490.1 767.7 491.0 767.7C492.0 767.7 493.0 751.3 494.0 740.0C495.3 724.9 496.7 700.6 498.0 680.0C499.5 657.4 500.9 645.5 502.4 610.0C503.4 585.0 504.5 518.2 505.5 470.0C506.4 428.0 507.3 369.1 508.2 340.0C509.5 299.0 510.7 272.1 512.0 250.0C513.0 232.6 514.0 214.5 515.0 208.0C516.0 201.2 517.1 194.8 518.1 194.8C519.2 194.8 520.4 206.1 521.5 215.0C523.0 226.8 524.5 254.7 526.0 270.0C528.7 298.0 531.5 314.3 534.2 340.0C536.1 358.2 538.1 380.3 540.0 400.0C541.7 416.9 543.3 437.9 545.0 450.0C547.2 465.7 549.3 486.4 551.5 486.4C558.8 486.4 566.2 343.9 573.5 343.9C578.4 343.9 583.3 380.1 588.2 381.6C591.6 382.7 594.9 382.4 598.3 383.4C605.4 385.6 612.4 466.1 619.5 466.1C627.5 466.1 635.4 376.0 643.4 376.0C657.5 376.0 671.5 462.5 685.6 462.5C693.9 462.5 702.1 378.8 710.4 378.8C715.3 378.8 720.2 381.5 725.1 384.3C735.2 390.1 745.4 435.8 755.5 435.8C765.3 435.8 775.1 365.0 784.9 365.0C794.4 365.0 803.9 442.2 813.4 442.2C824.9 442.2 836.3 334.8 847.8 334.8C858.4 334.8 868.9 436.0 879.5 436.0C891.5 436.0 903.4 327.6 915.4 327.6C927.3 327.6 939.3 414.9 951.2 414.9C958.9 414.9 966.5 374.4 974.2 374.4C986.1 374.4 998.1 403.2 1010.0 415.0C1016.1 421.1 1022.3 425.7 1028.4 431.5C1034.5 437.3 1040.7 445.7 1046.8 449.9C1056.6 456.6 1066.4 464.6 1076.2 464.6C1081.9 464.6 1087.5 456.6 1093.2 456.6C1098.1 456.6 1103.0 463.8 1107.9 469.1C1112.8 474.4 1117.7 481.3 1122.6 491.2C1125.1 496.2 1127.5 507.2 1130.0 511.8C1133.7 518.6 1137.3 526.5 1141.0 526.5C1143.7 526.5 1146.4 523.8 1149.1 520.6C1152.1 517.0 1155.0 499.5 1158.0 488.2C1161.4 475.2 1164.8 458.0 1168.2 447.1C1170.2 440.8 1172.1 434.0 1174.1 430.9C1176.1 427.8 1178.0 424.3 1180.0 424.3C1183.9 424.3 1187.9 428.8 1191.8 431.6C1194.7 433.7 1197.7 439.0 1200.6 439.0C1203.5 439.0 1206.5 436.2 1209.4 433.1C1213.3 429.0 1217.3 406.3 1221.2 400.0C1222.9 397.3 1224.6 396.5 1226.3 393.8C1231.4 385.6 1236.6 352.3 1241.7 350.0C1246.9 347.7 1252.0 346.2 1257.2 346.2C1260.6 346.2 1264.1 347.0 1267.5 347.0C1274.3 347.0 1281.2 317.5 1288.0 306.3C1293.6 297.1 1299.2 282.6 1304.8 282.6C1310.5 282.6 1316.3 293.2 1322.0 300.0C1328.1 307.2 1334.1 326.2 1340.2 326.2C1346.6 326.2 1353.1 321.6 1359.5 321.6C1366.6 321.6 1373.6 333.0 1380.7 340.9C1386.8 347.7 1392.9 363.0 1399.0 366.7C1404.5 370.0 1410.1 373.1 1415.6 373.1C1421.1 373.1 1426.7 372.7 1432.2 372.2C1436.8 371.8 1441.4 369.4 1446.0 367.0" stroke="#b024b9" stroke-width="2.9"/><path d="M236.5 384.6C247.7 384.0 258.8 383.2 270.0 382.3C281.7 381.5 293.3 380.4 305.0 379.1C316.7 377.9 328.3 376.3 340.0 374.4C350.0 372.7 360.0 370.6 370.0 367.9C378.3 365.6 386.7 362.8 395.0 359.1C401.7 356.1 408.3 352.2 415.0 347.3C420.0 343.5 425.0 338.6 430.0 332.4C433.3 328.3 436.7 323.1 440.0 316.6C442.7 311.5 445.3 305.1 448.0 297.3C449.8 291.9 451.7 285.4 453.5 277.6C455.0 271.5 456.4 263.2 457.9 255.4C459.1 249.2 460.2 236.0 461.4 236.0C462.4 236.0 463.4 251.2 464.4 262.0C465.4 272.5 466.3 285.6 467.3 303.8C468.1 319.5 469.0 349.3 469.8 370.0C471.5 413.1 473.3 450.0 475.0 490.0C476.7 530.0 478.5 572.0 480.2 610.0C481.6 641.4 483.1 666.5 484.5 700.0C485.8 729.6 487.0 784.3 488.3 800.0C489.2 810.8 490.0 822.0 490.9 822.0C492.4 822.0 493.9 813.2 495.4 800.0C496.5 790.6 497.5 738.4 498.6 700.0C499.4 671.2 500.2 640.9 501.0 600.0C501.7 565.9 502.3 518.3 503.0 470.0C503.5 431.3 504.1 372.1 504.6 340.0C505.5 287.8 506.3 250.7 507.2 220.0C508.1 187.0 509.1 154.1 510.0 140.0C510.8 127.9 511.6 115.0 512.4 115.0C513.4 115.0 514.5 125.2 515.5 135.0C516.9 148.6 518.4 189.8 519.8 220.0C521.1 248.1 522.5 286.5 523.8 310.0C524.9 328.8 525.9 342.8 527.0 356.8C528.5 376.5 530.0 395.4 531.5 410.0C533.1 425.2 534.6 439.9 536.2 448.7C538.3 460.7 540.5 475.5 542.6 475.5C545.5 475.5 548.3 461.3 551.2 450.0C555.6 432.5 560.1 365.5 564.5 365.5C568.8 365.5 573.2 395.4 577.5 395.4C580.8 395.4 584.2 385.3 587.5 385.3C594.6 385.3 601.6 470.9 608.7 470.9C616.4 470.9 624.0 387.2 631.7 387.2C636.6 387.2 641.5 393.3 646.4 398.2C654.4 406.2 662.3 438.6 670.3 438.6C677.2 438.6 684.1 394.7 691.0 394.7C695.0 394.7 699.0 398.0 703.0 400.6C711.8 406.4 720.6 432.1 729.4 432.1C738.7 432.1 748.0 360.4 757.3 360.4C767.1 360.4 776.9 425.7 786.7 425.7C796.8 425.7 806.9 358.6 817.0 358.6C827.4 358.6 837.9 422.2 848.3 422.2C858.4 422.2 868.5 365.3 878.6 365.3C890.9 365.3 903.1 447.0 915.4 447.0C925.5 447.0 935.6 417.6 945.7 417.6C960.7 417.6 975.7 451.7 990.7 451.7C997.1 451.7 1003.6 446.3 1010.0 446.3C1014.9 446.3 1019.8 450.8 1024.7 450.8C1031.5 450.8 1038.2 434.2 1045.0 425.0C1051.7 415.9 1058.4 395.7 1065.1 395.7C1070.0 395.7 1075.0 395.7 1079.9 395.7C1084.9 395.7 1090.0 387.1 1095.0 380.0C1102.5 369.4 1110.0 326.8 1117.5 326.8C1129.5 326.8 1141.4 370.0 1153.4 370.0C1162.3 370.0 1171.1 350.3 1180.0 350.3C1188.6 350.3 1197.1 373.2 1205.7 375.8C1210.0 377.1 1214.3 377.3 1218.6 378.3C1227.2 380.3 1235.7 382.0 1244.3 386.0C1250.3 388.8 1256.3 402.8 1262.3 402.8C1267.4 402.8 1272.6 402.8 1277.7 402.8C1284.6 402.8 1291.4 395.0 1298.3 395.0C1305.5 395.0 1312.8 399.9 1320.0 401.6C1326.1 403.1 1332.3 403.8 1338.4 405.3C1344.5 406.8 1350.7 408.4 1356.8 410.8C1362.9 413.2 1369.1 419.0 1375.2 421.8C1380.1 424.0 1385.0 427.3 1389.9 427.3C1394.2 427.3 1398.4 421.2 1402.7 418.1C1409.5 413.2 1416.2 408.3 1423.0 403.4C1430.7 397.9 1438.3 392.4 1446.0 386.9" stroke="#3a7d22" stroke-width="2.9"/><path d="M236.5 386.0C247.7 385.4 258.8 384.7 270.0 384.0C281.7 383.2 293.3 382.3 305.0 381.1C316.7 380.0 328.3 378.6 340.0 376.9C350.0 375.4 360.0 373.5 370.0 371.2C378.3 369.2 386.7 366.6 395.0 363.3C401.7 360.7 408.3 357.3 415.0 352.8C420.0 349.5 425.0 345.2 430.0 339.7C433.3 336.0 436.7 331.4 440.0 325.7C442.7 321.1 445.3 315.4 448.0 308.5C449.8 303.7 451.7 297.8 453.5 291.0C454.5 287.4 455.5 283.1 456.5 278.3C458.1 270.7 459.7 251.4 461.2 251.4C462.0 251.4 462.8 263.0 463.5 270.0C464.1 275.3 464.6 280.9 465.2 288.1C466.1 299.1 466.9 315.2 467.8 330.0C468.5 342.6 469.3 355.1 470.0 370.0C471.6 402.5 473.2 446.3 474.8 485.0C476.4 522.9 477.9 572.7 479.5 600.0C480.2 612.2 480.9 622.2 481.6 630.0C482.8 643.4 484.0 651.4 485.2 662.0C486.4 672.4 487.5 683.2 488.7 693.0C489.8 702.5 491.0 720.2 492.1 720.2C493.0 720.2 493.9 705.8 494.8 695.0C495.7 684.2 496.6 666.4 497.5 650.0C498.3 634.8 499.2 622.6 500.0 600.0C500.9 574.7 501.9 516.6 502.8 480.0C503.5 451.2 504.3 423.4 505.0 400.0C505.7 377.6 506.4 359.3 507.1 340.0C508.2 308.8 509.4 269.3 510.5 250.0C511.5 233.0 512.5 218.9 513.5 212.0C514.3 206.5 515.1 200.3 515.9 200.3C516.9 200.3 518.0 211.3 519.0 220.0C520.5 232.6 522.0 260.0 523.5 280.0C525.0 300.0 526.5 322.7 528.0 340.0C530.0 363.0 532.0 385.3 534.0 400.0C536.0 414.7 538.0 428.4 540.0 435.0C542.9 444.6 545.8 454.2 548.7 454.2C556.1 454.2 563.4 368.7 570.8 368.7C576.6 368.7 582.4 399.0 588.2 399.0C590.5 399.0 592.7 394.0 595.0 394.0C602.5 394.0 610.1 477.2 617.6 477.2C626.2 477.2 634.8 383.4 643.4 383.4C648.3 383.4 653.2 385.9 658.1 388.9C666.7 394.1 675.2 452.4 683.8 452.4C689.0 452.4 694.2 412.2 699.4 406.4C701.9 403.7 704.3 401.8 706.8 400.9C709.2 400.0 711.7 399.9 714.1 399.0C718.4 397.4 722.7 388.0 727.0 388.0C734.7 388.0 742.3 434.0 750.0 434.0C759.2 434.0 768.3 358.6 777.5 358.6C787.6 358.6 797.8 421.1 807.9 421.1C817.4 421.1 826.9 343.0 836.4 343.0C848.6 343.0 860.9 449.8 873.1 449.8C884.4 449.8 895.8 368.9 907.1 368.9C918.1 368.9 929.2 487.5 940.2 487.5C951.5 487.5 962.9 390.1 974.2 390.1C983.4 390.1 992.6 446.1 1001.8 446.1C1004.5 446.1 1007.3 440.7 1010.0 437.0C1016.1 428.7 1022.3 410.7 1028.4 402.1C1033.3 395.3 1038.2 388.6 1043.1 385.6C1047.4 382.9 1051.7 382.6 1056.0 380.0C1060.9 377.1 1065.8 369.5 1070.7 365.4C1077.4 359.7 1084.2 350.7 1090.9 350.7C1095.8 350.7 1100.7 355.8 1105.6 359.9C1112.0 365.2 1118.5 384.7 1124.9 384.7C1134.4 384.7 1143.9 355.3 1153.4 355.3C1157.7 355.3 1162.0 362.3 1166.3 367.2C1174.7 376.8 1183.2 407.9 1191.6 407.9C1200.6 407.9 1209.6 392.5 1218.6 392.5C1228.9 392.5 1239.2 428.5 1249.5 428.5C1259.8 428.5 1270.0 393.8 1280.3 393.8C1290.2 393.8 1300.0 429.8 1309.9 429.8C1313.3 429.8 1316.6 426.7 1320.0 423.7C1323.7 420.4 1327.3 407.7 1331.0 403.4C1336.5 396.9 1342.1 389.6 1347.6 389.6C1355.3 389.6 1362.9 399.8 1370.6 399.8C1377.0 399.8 1383.5 385.1 1389.9 379.5C1394.8 375.2 1399.7 368.5 1404.6 368.5C1409.5 368.5 1414.4 377.0 1419.3 381.4C1423.0 384.7 1426.6 390.1 1430.3 391.5C1435.5 393.4 1440.8 395.0 1446.0 395.0" stroke="#000000" stroke-width="2.9"/><path d="M236.5 385.0C247.7 384.4 258.8 383.6 270.0 382.8C281.7 381.9 293.3 380.9 305.0 379.6C316.7 378.3 328.3 376.8 340.0 374.8C350.0 373.2 360.0 371.1 370.0 368.4C378.3 366.1 386.7 363.3 395.0 359.6C401.7 356.7 408.3 352.8 415.0 347.9C420.0 344.1 425.0 339.3 430.0 333.1C433.3 329.0 436.7 323.8 440.0 317.4C442.7 312.3 445.3 305.9 448.0 298.2C449.8 292.8 451.7 286.3 453.5 278.6C455.0 272.5 456.4 263.7 457.9 256.5C459.1 250.5 460.4 238.9 461.6 238.9C462.6 238.9 463.6 251.9 464.6 262.0C465.6 271.7 466.5 285.6 467.5 303.8C468.3 319.5 469.2 349.3 470.0 370.0C471.7 413.1 473.5 450.0 475.2 490.0C476.9 530.0 478.7 572.0 480.4 610.0C481.8 641.4 483.3 666.5 484.7 700.0C486.0 729.6 487.2 782.8 488.5 800.0C489.4 811.8 490.2 824.8 491.1 824.8C492.6 824.8 494.1 814.6 495.6 800.0C496.7 789.6 497.7 738.4 498.8 700.0C499.6 671.2 500.4 640.9 501.2 600.0C501.9 565.9 502.5 516.9 503.2 470.0C503.8 430.1 504.3 373.2 504.9 340.0C505.8 289.2 506.6 247.1 507.5 220.0C508.5 188.8 509.5 165.1 510.5 150.0C511.4 135.9 512.4 118.7 513.3 118.7C514.4 118.7 515.4 129.5 516.5 140.0C517.8 153.1 519.2 191.8 520.5 220.0C521.8 248.2 523.2 286.1 524.5 310.0C525.5 328.5 526.6 342.8 527.6 356.8C529.1 376.6 530.5 395.8 532.0 410.0C533.6 425.5 535.2 439.4 536.8 448.7C538.9 461.1 541.1 477.2 543.2 477.2C546.1 477.2 549.1 461.9 552.0 450.0C556.4 432.0 560.9 365.0 565.3 365.0C570.2 365.0 575.1 394.4 580.0 394.4C583.3 394.4 586.7 384.3 590.0 384.3C597.1 384.3 604.1 468.9 611.2 468.9C618.9 468.9 626.5 386.2 634.2 386.2C639.1 386.2 644.0 392.3 648.9 397.2C656.9 405.2 664.8 437.6 672.8 437.6C680.1 437.6 687.5 390.8 694.8 390.8C699.4 390.8 704.0 402.1 708.6 406.4C711.7 409.3 714.7 410.9 717.8 413.8C722.7 418.4 727.6 431.2 732.5 431.2C742.0 431.2 751.5 361.4 761.0 361.4C770.8 361.4 780.6 422.0 790.4 422.0C800.5 422.0 810.6 355.8 820.7 355.8C827.1 355.8 833.6 380.6 840.0 393.8C844.0 402.0 848.0 419.5 852.0 419.5C861.8 419.5 871.6 368.9 881.4 368.9C893.6 368.9 905.9 449.8 918.1 449.8C928.2 449.8 938.4 420.4 948.5 420.4C957.7 420.4 966.8 451.7 976.0 451.7C986.4 451.7 996.9 437.9 1007.3 437.9C1014.0 437.9 1020.8 453.6 1027.5 453.6C1032.7 453.6 1037.9 441.4 1043.1 433.4C1050.4 422.1 1057.8 393.9 1065.1 390.2C1067.0 389.3 1068.8 388.3 1070.7 388.3C1075.0 388.3 1079.2 392.0 1083.5 392.0C1086.6 392.0 1089.6 388.5 1092.7 385.6C1101.3 377.4 1109.9 336.0 1118.5 336.0C1130.7 336.0 1143.0 376.4 1155.2 376.4C1164.4 376.4 1173.6 355.3 1182.8 355.3C1185.3 355.3 1187.8 357.5 1190.3 359.0C1198.0 363.7 1205.7 380.9 1213.4 380.9C1221.1 380.9 1228.9 371.9 1236.6 371.9C1243.5 371.9 1250.3 377.2 1257.2 380.9C1263.2 384.2 1269.2 393.8 1275.2 393.8C1283.8 393.8 1292.3 383.0 1300.9 383.0C1307.3 383.0 1313.6 387.4 1320.0 391.5C1324.9 394.6 1329.8 403.8 1334.7 407.1C1343.9 413.3 1353.1 415.4 1362.3 420.0C1369.7 423.7 1377.0 431.9 1384.4 431.9C1389.3 431.9 1394.1 427.4 1399.0 423.7C1405.8 418.5 1412.5 401.1 1419.3 397.9C1425.4 395.0 1431.6 392.4 1437.7 392.4C1440.5 392.4 1443.2 392.4 1446.0 392.4" stroke="#e93323" stroke-width="2.9"/></g>
<path d="M381.9 127.3L396.04999999999995 157L385.75 157L385.75 804.6L396.04999999999995 804.6L381.9 832.1L367.75 804.6L378.04999999999995 804.6L378.04999999999995 157L367.75 157Z" fill="#000"/>
<g font-family="'Liberation Serif', 'DejaVu Serif', serif" font-size="64.5" fill="#000" stroke="#000" stroke-width="0.8">
<text x="216.7" y="68.3" text-anchor="end">10</text><text x="213.7" y="239.3" text-anchor="end">5</text><text x="216.7" y="410.3" text-anchor="end">0</text><text x="181.4" y="581.3">5</text><text transform="translate(134.31,586.71) scale(1.2837,1.0000)" font-size="64.50" stroke="none">−</text><text x="152.2" y="752.3">10</text><text transform="translate(105.06,757.71) scale(1.2837,1.0000)" font-size="64.50" stroke="none">−</text><text x="151.0" y="923.3">15</text><text transform="translate(103.86,928.71) scale(1.2837,1.0000)" font-size="64.50" stroke="none">−</text><text x="243.1" y="972.5">5</text><text transform="translate(195.94,977.91) scale(1.2837,1.0000)" font-size="64.50" stroke="none">−</text><text x="477.7" y="972.5" text-anchor="middle">0</text><text x="717.6" y="972.5" text-anchor="middle">5</text><text x="962.3" y="972.5" text-anchor="middle">10</text><text x="1203.6" y="972.5" text-anchor="middle">15</text><text x="1445.9" y="972.5" text-anchor="middle">20</text>
<g transform="translate(75.50,553.10) rotate(-90)"><text x="-5.68" y="0.00" font-size="64.50">10</text><text x="55.37" y="-23.50" font-size="48.50">21</text><text x="115.78" y="0.00" font-size="64.50" font-style="italic">h</text><text x="147.43" y="19.01" font-size="67.50" stroke="#fff" stroke-width="0.6">+</text></g><text x="717.96" y="1050.20" font-size="64.50" font-style="italic">t</text><text transform="translate(750.82,1055.31) scale(1.2970,1.0000)" font-size="64.50" stroke="none">−</text><text x="805.06" y="1050.20" font-size="64.50" font-style="italic">t</text><text x="822.14" y="1060.12" font-size="47.50" font-style="italic">b</text><text transform="translate(858.95,1055.04) scale(0.6600,1.1850)" font-size="64.50">[</text><text x="872.05" y="1050.30" font-size="64.50">ms</text><text transform="translate(944.77,1055.04) scale(0.6600,1.1850)" font-size="64.50">]</text><g transform="translate(450.50,104.60) rotate(-90)"><text x="-2.84" y="0.00" font-size="64.50" font-style="italic">t</text><text x="15.70" y="9.70" font-size="47.50">b</text></g><g transform="translate(583.40,126.00) rotate(-90)"><text x="-2.84" y="0.00" font-size="64.50" font-style="italic">t</text><text x="17.00" y="10.10" font-size="47.50">be</text></g><g transform="translate(802.30,303.80) rotate(-90)"><text x="-2.84" y="0.00" font-size="64.50" font-style="italic">t</text><text x="17.50" y="9.30" font-size="47.50">be</text><text x="67.89" y="12.78" font-size="90.30" stroke="#fff" stroke-width="1.2">+</text><text x="125.33" y="0.00" font-size="64.50">6</text><text x="164.45" y="0.00" font-size="64.50">ms</text></g><g transform="translate(342.40,526.90) rotate(-90)"><text x="-2.45" y="0.00" font-size="64.50">Δ</text><text x="37.38" y="0.00" font-size="64.50" font-style="italic">h</text><text x="68.33" y="19.31" font-size="67.50" stroke="#fff" stroke-width="0.6">+</text></g><text x="997.85" y="126.80" font-size="64.50" font-style="italic">A</text><text transform="translate(1048.76,132.46) scale(1.4070,1.0000)" font-size="64.50" stroke="#fff" stroke-width="0.3">=</text><text x="1111.83" y="126.60" font-size="64.50">634</text><text x="1212.47" y="126.60" font-size="64.50">km</text><text transform="translate(996.04,183.90) scale(1.0900,1.0000)" font-size="64.50">Ω</text><text x="1044.48" y="193.02" font-size="48.00">0</text><text transform="translate(1083.86,189.51) scale(1.4070,1.0000)" font-size="64.50" stroke="#fff" stroke-width="0.3">=</text><text x="1145.96" y="183.60" font-size="64.50">5.0</text><text x="1235.16" y="183.60" font-size="64.50">s</text><text transform="translate(1259.84,165.10) scale(1.2600,1.0000)" font-size="48.50" stroke="none">−</text><text x="1295.53" y="161.00" font-size="48.50">1</text><text x="645.45" y="641.80" font-size="53.50" fill="#000000" stroke="#000000">LS220</text><text x="644.82" y="709.00" font-size="53.50" fill="#e93323" stroke="#e93323">SFHo</text><text x="645.02" y="775.90" font-size="53.50" fill="#3a7d22" stroke="#3a7d22">SFHx</text><text transform="translate(875.57,641.80) scale(0.9730,1.0000)" font-size="53.50" fill="#b024b9" stroke="#b024b9">GShenFSU2.1</text><text transform="translate(876.16,709.00) scale(0.9900,1.0000)" font-size="53.50" fill="#0a14f0" stroke="#0a14f0">HSDD2</text><text transform="translate(876.17,775.90) scale(0.9870,1.0000)" font-size="53.50" fill="#55bcc0" stroke="#55bcc0">BHBΛΦ</text>
</g>
<path d="M236.90 908.30V874.30M236.90 19.20V53.20M285.26 908.30V889.90M285.26 19.20V37.60M333.62 908.30V889.90M333.62 19.20V37.60M381.98 908.30V889.90M381.98 19.20V37.60M430.34 908.30V889.90M430.34 19.20V37.60M478.70 908.30V874.30M478.70 19.20V53.20M527.06 908.30V889.90M527.06 19.20V37.60M575.42 908.30V889.90M575.42 19.20V37.60M623.78 908.30V889.90M623.78 19.20V37.60M672.14 908.30V889.90M672.14 19.20V37.60M720.50 908.30V874.30M720.50 19.20V53.20M768.86 908.30V889.90M768.86 19.20V37.60M817.22 908.30V889.90M817.22 19.20V37.60M865.58 908.30V889.90M865.58 19.20V37.60M913.94 908.30V889.90M913.94 19.20V37.60M962.30 908.30V874.30M962.30 19.20V53.20M1010.66 908.30V889.90M1010.66 19.20V37.60M1059.02 908.30V889.90M1059.02 19.20V37.60M1107.38 908.30V889.90M1107.38 19.20V37.60M1155.74 908.30V889.90M1155.74 19.20V37.60M1204.10 908.30V874.30M1204.10 19.20V53.20M1252.46 908.30V889.90M1252.46 19.20V37.60M1300.82 908.30V889.90M1300.82 19.20V37.60M1349.18 908.30V889.90M1349.18 19.20V37.60M1397.54 908.30V889.90M1397.54 19.20V37.60M1445.90 908.30V874.30M1445.90 19.20V53.20M236.50 908.30H270.50M1446.10 908.30H1412.10M236.50 874.10H254.90M1446.10 874.10H1427.70M236.50 839.90H254.90M1446.10 839.90H1427.70M236.50 805.70H254.90M1446.10 805.70H1427.70M236.50 771.50H254.90M1446.10 771.50H1427.70M236.50 737.30H270.50M1446.10 737.30H1412.10M236.50 703.10H254.90M1446.10 703.10H1427.70M236.50 668.90H254.90M1446.10 668.90H1427.70M236.50 634.70H254.90M1446.10 634.70H1427.70M236.50 600.50H254.90M1446.10 600.50H1427.70M236.50 566.30H270.50M1446.10 566.30H1412.10M236.50 532.10H254.90M1446.10 532.10H1427.70M236.50 497.90H254.90M1446.10 497.90H1427.70M236.50 463.70H254.90M1446.10 463.70H1427.70M236.50 429.50H254.90M1446.10 429.50H1427.70M236.50 395.30H270.50M1446.10 395.30H1412.10M236.50 361.10H254.90M1446.10 361.10H1427.70M236.50 326.90H254.90M1446.10 326.90H1427.70M236.50 292.70H254.90M1446.10 292.70H1427.70M236.50 258.50H254.90M1446.10 258.50H1427.70M236.50 224.30H270.50M1446.10 224.30H1412.10M236.50 190.10H254.90M1446.10 190.10H1427.70M236.50 155.90H254.90M1446.10 155.90H1427.70M236.50 121.70H254.90M1446.10 121.70H1427.70M236.50 87.50H254.90M1446.10 87.50H1427.70M236.50 53.30H270.50M1446.10 53.30H1412.10M236.50 19.10H254.90M1446.10 19.10H1427.70" stroke="#000" stroke-width="5.1" fill="none"/>
<rect x="236.5" y="19.2" width="1209.60" height="889.10" fill="none" stroke="#000" stroke-width="5.1"/>
</svg>
</body></html>
